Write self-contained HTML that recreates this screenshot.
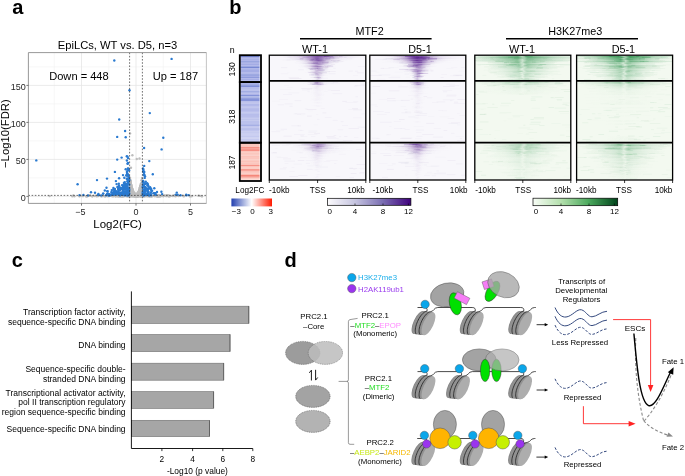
<!DOCTYPE html>
<html><head><meta charset="utf-8"><style>
html,body{margin:0;padding:0;background:#fff;width:685px;height:476px;overflow:hidden}
svg{display:block;will-change:transform}
text{font-family:"Liberation Sans",sans-serif}
</style></head><body>
<svg width="685" height="476" viewBox="0 0 685 476" font-family="Liberation Sans, sans-serif">
<rect width="685" height="476" fill="#fff"/>
<text x="12.2" y="14.4" font-size="20" text-anchor="start" fill="#000" font-weight="bold" >a</text>
<rect x="28.4" y="52.6" width="178.0" height="150.8" fill="#fff"/>
<line x1="54.2" y1="52.6" x2="54.2" y2="203.4" stroke="#f2f2f2" stroke-width="0.6"/>
<line x1="108.8" y1="52.6" x2="108.8" y2="203.4" stroke="#f2f2f2" stroke-width="0.6"/>
<line x1="163.2" y1="52.6" x2="163.2" y2="203.4" stroke="#f2f2f2" stroke-width="0.6"/>
<line x1="28.4" y1="177.9" x2="206.4" y2="177.9" stroke="#f2f2f2" stroke-width="0.6"/>
<line x1="28.4" y1="140.9" x2="206.4" y2="140.9" stroke="#f2f2f2" stroke-width="0.6"/>
<line x1="28.4" y1="103.9" x2="206.4" y2="103.9" stroke="#f2f2f2" stroke-width="0.6"/>
<line x1="28.4" y1="66.9" x2="206.4" y2="66.9" stroke="#f2f2f2" stroke-width="0.6"/>
<line x1="81.5" y1="52.6" x2="81.5" y2="203.4" stroke="#e6e6e6" stroke-width="0.8"/>
<line x1="136.0" y1="52.6" x2="136.0" y2="203.4" stroke="#e6e6e6" stroke-width="0.8"/>
<line x1="190.5" y1="52.6" x2="190.5" y2="203.4" stroke="#e6e6e6" stroke-width="0.8"/>
<line x1="28.4" y1="196.4" x2="206.4" y2="196.4" stroke="#e6e6e6" stroke-width="0.8"/>
<line x1="28.4" y1="159.4" x2="206.4" y2="159.4" stroke="#e6e6e6" stroke-width="0.8"/>
<line x1="28.4" y1="122.4" x2="206.4" y2="122.4" stroke="#e6e6e6" stroke-width="0.8"/>
<line x1="28.4" y1="85.4" x2="206.4" y2="85.4" stroke="#e6e6e6" stroke-width="0.8"/>
<g>
<circle cx="133.8" cy="195.3" r="1.2" fill="#bdbdbd"/>
<circle cx="137.9" cy="195.8" r="1.2" fill="#bdbdbd"/>
<circle cx="136.5" cy="195.3" r="1.2" fill="#bdbdbd"/>
<circle cx="130.4" cy="186.0" r="1.2" fill="#bdbdbd"/>
<circle cx="130.2" cy="186.3" r="1.2" fill="#bdbdbd"/>
<circle cx="130.6" cy="193.4" r="1.2" fill="#bdbdbd"/>
<circle cx="135.0" cy="194.2" r="1.2" fill="#bdbdbd"/>
<circle cx="131.2" cy="192.1" r="1.2" fill="#bdbdbd"/>
<circle cx="137.6" cy="193.4" r="1.2" fill="#bdbdbd"/>
<circle cx="137.0" cy="195.1" r="1.2" fill="#bdbdbd"/>
<circle cx="142.0" cy="194.1" r="1.2" fill="#bdbdbd"/>
<circle cx="140.5" cy="191.6" r="1.2" fill="#bdbdbd"/>
<circle cx="131.5" cy="193.9" r="1.2" fill="#bdbdbd"/>
<circle cx="133.6" cy="192.5" r="1.2" fill="#bdbdbd"/>
<circle cx="132.0" cy="190.0" r="1.2" fill="#bdbdbd"/>
<circle cx="137.8" cy="194.7" r="1.2" fill="#bdbdbd"/>
<circle cx="136.6" cy="196.1" r="1.2" fill="#bdbdbd"/>
<circle cx="130.4" cy="190.9" r="1.2" fill="#bdbdbd"/>
<circle cx="138.3" cy="194.1" r="1.2" fill="#bdbdbd"/>
<circle cx="133.7" cy="193.4" r="1.2" fill="#bdbdbd"/>
<circle cx="135.4" cy="195.4" r="1.2" fill="#bdbdbd"/>
<circle cx="139.7" cy="190.1" r="1.2" fill="#bdbdbd"/>
<circle cx="132.8" cy="191.9" r="1.2" fill="#bdbdbd"/>
<circle cx="136.3" cy="194.4" r="1.2" fill="#bdbdbd"/>
<circle cx="138.9" cy="194.0" r="1.2" fill="#bdbdbd"/>
<circle cx="142.1" cy="192.0" r="1.2" fill="#bdbdbd"/>
<circle cx="135.0" cy="194.3" r="1.2" fill="#bdbdbd"/>
<circle cx="131.6" cy="189.9" r="1.2" fill="#bdbdbd"/>
<circle cx="130.2" cy="182.8" r="1.2" fill="#bdbdbd"/>
<circle cx="139.3" cy="191.7" r="1.2" fill="#bdbdbd"/>
<circle cx="140.7" cy="190.9" r="1.2" fill="#bdbdbd"/>
<circle cx="138.5" cy="193.2" r="1.2" fill="#bdbdbd"/>
<circle cx="137.0" cy="194.9" r="1.2" fill="#bdbdbd"/>
<circle cx="140.3" cy="186.5" r="1.2" fill="#bdbdbd"/>
<circle cx="135.7" cy="194.7" r="1.2" fill="#bdbdbd"/>
<circle cx="130.4" cy="183.5" r="1.2" fill="#bdbdbd"/>
<circle cx="137.9" cy="192.9" r="1.2" fill="#bdbdbd"/>
<circle cx="140.1" cy="192.5" r="1.2" fill="#bdbdbd"/>
<circle cx="134.6" cy="194.2" r="1.2" fill="#bdbdbd"/>
<circle cx="130.0" cy="185.1" r="1.2" fill="#bdbdbd"/>
<circle cx="131.8" cy="194.2" r="1.2" fill="#bdbdbd"/>
<circle cx="130.4" cy="182.6" r="1.2" fill="#bdbdbd"/>
<circle cx="131.3" cy="191.9" r="1.2" fill="#bdbdbd"/>
<circle cx="134.6" cy="193.8" r="1.2" fill="#bdbdbd"/>
<circle cx="130.7" cy="187.8" r="1.2" fill="#bdbdbd"/>
<circle cx="136.6" cy="194.3" r="1.2" fill="#bdbdbd"/>
<circle cx="140.0" cy="188.0" r="1.2" fill="#bdbdbd"/>
<circle cx="133.2" cy="193.5" r="1.2" fill="#bdbdbd"/>
<circle cx="134.2" cy="193.3" r="1.2" fill="#bdbdbd"/>
<circle cx="141.8" cy="191.7" r="1.2" fill="#bdbdbd"/>
<circle cx="131.9" cy="193.0" r="1.2" fill="#bdbdbd"/>
<circle cx="132.6" cy="192.2" r="1.2" fill="#bdbdbd"/>
<circle cx="137.1" cy="195.4" r="1.2" fill="#bdbdbd"/>
<circle cx="129.7" cy="185.1" r="1.2" fill="#bdbdbd"/>
<circle cx="134.3" cy="194.2" r="1.2" fill="#bdbdbd"/>
<circle cx="141.7" cy="182.9" r="1.2" fill="#bdbdbd"/>
<circle cx="136.2" cy="194.8" r="1.2" fill="#bdbdbd"/>
<circle cx="138.2" cy="195.9" r="1.2" fill="#bdbdbd"/>
<circle cx="141.1" cy="184.8" r="1.2" fill="#bdbdbd"/>
<circle cx="140.7" cy="185.9" r="1.2" fill="#bdbdbd"/>
<circle cx="134.6" cy="194.9" r="1.2" fill="#bdbdbd"/>
<circle cx="131.0" cy="186.5" r="1.2" fill="#bdbdbd"/>
<circle cx="130.5" cy="193.9" r="1.2" fill="#bdbdbd"/>
<circle cx="132.3" cy="194.2" r="1.2" fill="#bdbdbd"/>
<circle cx="134.0" cy="195.9" r="1.2" fill="#bdbdbd"/>
<circle cx="129.7" cy="190.8" r="1.2" fill="#bdbdbd"/>
<circle cx="131.0" cy="189.6" r="1.2" fill="#bdbdbd"/>
<circle cx="130.0" cy="179.0" r="1.2" fill="#bdbdbd"/>
<circle cx="137.4" cy="195.6" r="1.2" fill="#bdbdbd"/>
<circle cx="132.9" cy="193.4" r="1.2" fill="#bdbdbd"/>
<circle cx="134.3" cy="195.6" r="1.2" fill="#bdbdbd"/>
<circle cx="140.4" cy="185.6" r="1.2" fill="#bdbdbd"/>
<circle cx="135.6" cy="195.0" r="1.2" fill="#bdbdbd"/>
<circle cx="130.8" cy="193.4" r="1.2" fill="#bdbdbd"/>
<circle cx="134.0" cy="194.9" r="1.2" fill="#bdbdbd"/>
<circle cx="140.2" cy="193.7" r="1.2" fill="#bdbdbd"/>
<circle cx="130.0" cy="177.7" r="1.2" fill="#bdbdbd"/>
<circle cx="136.4" cy="195.8" r="1.2" fill="#bdbdbd"/>
<circle cx="136.5" cy="196.2" r="1.2" fill="#bdbdbd"/>
<circle cx="136.4" cy="194.2" r="1.2" fill="#bdbdbd"/>
<circle cx="140.6" cy="187.4" r="1.2" fill="#bdbdbd"/>
<circle cx="133.0" cy="193.4" r="1.2" fill="#bdbdbd"/>
<circle cx="131.8" cy="188.1" r="1.2" fill="#bdbdbd"/>
<circle cx="136.4" cy="194.5" r="1.2" fill="#bdbdbd"/>
<circle cx="133.8" cy="195.0" r="1.2" fill="#bdbdbd"/>
<circle cx="139.9" cy="187.6" r="1.2" fill="#bdbdbd"/>
<circle cx="140.5" cy="186.9" r="1.2" fill="#bdbdbd"/>
<circle cx="140.0" cy="188.9" r="1.2" fill="#bdbdbd"/>
<circle cx="132.5" cy="191.8" r="1.2" fill="#bdbdbd"/>
<circle cx="134.2" cy="196.1" r="1.2" fill="#bdbdbd"/>
<circle cx="130.0" cy="188.6" r="1.2" fill="#bdbdbd"/>
<circle cx="133.0" cy="191.7" r="1.2" fill="#bdbdbd"/>
<circle cx="141.8" cy="186.3" r="1.2" fill="#bdbdbd"/>
<circle cx="141.5" cy="180.2" r="1.2" fill="#bdbdbd"/>
<circle cx="141.8" cy="187.7" r="1.2" fill="#bdbdbd"/>
<circle cx="132.5" cy="193.7" r="1.2" fill="#bdbdbd"/>
<circle cx="132.2" cy="193.6" r="1.2" fill="#bdbdbd"/>
<circle cx="137.6" cy="193.5" r="1.2" fill="#bdbdbd"/>
<circle cx="140.3" cy="190.2" r="1.2" fill="#bdbdbd"/>
<circle cx="137.9" cy="193.3" r="1.2" fill="#bdbdbd"/>
<circle cx="130.7" cy="185.3" r="1.2" fill="#bdbdbd"/>
<circle cx="141.2" cy="184.2" r="1.2" fill="#bdbdbd"/>
<circle cx="139.2" cy="192.6" r="1.2" fill="#bdbdbd"/>
<circle cx="131.9" cy="188.4" r="1.2" fill="#bdbdbd"/>
<circle cx="133.9" cy="193.0" r="1.2" fill="#bdbdbd"/>
<circle cx="142.0" cy="186.5" r="1.2" fill="#bdbdbd"/>
<circle cx="134.8" cy="193.7" r="1.2" fill="#bdbdbd"/>
<circle cx="138.8" cy="194.8" r="1.2" fill="#bdbdbd"/>
<circle cx="131.3" cy="193.2" r="1.2" fill="#bdbdbd"/>
<circle cx="141.1" cy="184.2" r="1.2" fill="#bdbdbd"/>
<circle cx="131.5" cy="186.7" r="1.2" fill="#bdbdbd"/>
<circle cx="142.1" cy="181.8" r="1.2" fill="#bdbdbd"/>
<circle cx="134.1" cy="194.1" r="1.2" fill="#bdbdbd"/>
<circle cx="131.3" cy="195.8" r="1.2" fill="#bdbdbd"/>
<circle cx="142.0" cy="182.5" r="1.2" fill="#bdbdbd"/>
<circle cx="136.3" cy="194.3" r="1.2" fill="#bdbdbd"/>
<circle cx="135.2" cy="194.2" r="1.2" fill="#bdbdbd"/>
<circle cx="140.1" cy="193.2" r="1.2" fill="#bdbdbd"/>
<circle cx="132.9" cy="193.7" r="1.2" fill="#bdbdbd"/>
<circle cx="132.7" cy="191.8" r="1.2" fill="#bdbdbd"/>
<circle cx="133.0" cy="193.1" r="1.2" fill="#bdbdbd"/>
<circle cx="131.3" cy="185.2" r="1.2" fill="#bdbdbd"/>
<circle cx="134.2" cy="194.4" r="1.2" fill="#bdbdbd"/>
<circle cx="137.1" cy="194.0" r="1.2" fill="#bdbdbd"/>
<circle cx="135.0" cy="194.0" r="1.2" fill="#bdbdbd"/>
<circle cx="136.0" cy="195.0" r="1.2" fill="#bdbdbd"/>
<circle cx="136.3" cy="196.3" r="1.2" fill="#bdbdbd"/>
<circle cx="135.2" cy="195.7" r="1.2" fill="#bdbdbd"/>
<circle cx="129.7" cy="178.6" r="1.2" fill="#bdbdbd"/>
<circle cx="131.9" cy="190.6" r="1.2" fill="#bdbdbd"/>
<circle cx="138.8" cy="192.7" r="1.2" fill="#bdbdbd"/>
<circle cx="133.8" cy="193.8" r="1.2" fill="#bdbdbd"/>
<circle cx="136.7" cy="194.4" r="1.2" fill="#bdbdbd"/>
<circle cx="131.0" cy="187.4" r="1.2" fill="#bdbdbd"/>
<circle cx="132.8" cy="193.8" r="1.2" fill="#bdbdbd"/>
<circle cx="139.4" cy="191.9" r="1.2" fill="#bdbdbd"/>
<circle cx="136.8" cy="194.4" r="1.2" fill="#bdbdbd"/>
<circle cx="141.2" cy="188.1" r="1.2" fill="#bdbdbd"/>
<circle cx="137.4" cy="194.6" r="1.2" fill="#bdbdbd"/>
<circle cx="136.2" cy="194.7" r="1.2" fill="#bdbdbd"/>
<circle cx="135.4" cy="194.9" r="1.2" fill="#bdbdbd"/>
<circle cx="135.7" cy="194.3" r="1.2" fill="#bdbdbd"/>
<circle cx="138.5" cy="192.1" r="1.2" fill="#bdbdbd"/>
<circle cx="141.6" cy="189.9" r="1.2" fill="#bdbdbd"/>
<circle cx="136.8" cy="194.1" r="1.2" fill="#bdbdbd"/>
<circle cx="140.3" cy="193.8" r="1.2" fill="#bdbdbd"/>
<circle cx="131.2" cy="189.3" r="1.2" fill="#bdbdbd"/>
<circle cx="130.6" cy="190.6" r="1.2" fill="#bdbdbd"/>
<circle cx="130.6" cy="184.6" r="1.2" fill="#bdbdbd"/>
<circle cx="139.6" cy="189.3" r="1.2" fill="#bdbdbd"/>
<circle cx="131.6" cy="188.0" r="1.2" fill="#bdbdbd"/>
<circle cx="138.0" cy="195.4" r="1.2" fill="#bdbdbd"/>
<circle cx="140.8" cy="183.9" r="1.2" fill="#bdbdbd"/>
<circle cx="132.5" cy="189.1" r="1.2" fill="#bdbdbd"/>
<circle cx="134.7" cy="194.7" r="1.2" fill="#bdbdbd"/>
<circle cx="142.2" cy="178.5" r="1.2" fill="#bdbdbd"/>
<circle cx="131.7" cy="190.7" r="1.2" fill="#bdbdbd"/>
<circle cx="136.2" cy="195.4" r="1.2" fill="#bdbdbd"/>
<circle cx="132.2" cy="192.5" r="1.2" fill="#bdbdbd"/>
<circle cx="138.8" cy="196.1" r="1.2" fill="#bdbdbd"/>
<circle cx="136.7" cy="195.1" r="1.2" fill="#bdbdbd"/>
<circle cx="129.9" cy="187.3" r="1.2" fill="#bdbdbd"/>
<circle cx="137.6" cy="194.5" r="1.2" fill="#bdbdbd"/>
<circle cx="130.5" cy="180.3" r="1.2" fill="#bdbdbd"/>
<circle cx="139.6" cy="188.7" r="1.2" fill="#bdbdbd"/>
<circle cx="131.0" cy="191.1" r="1.2" fill="#bdbdbd"/>
<circle cx="130.2" cy="181.2" r="1.2" fill="#bdbdbd"/>
<circle cx="133.1" cy="195.1" r="1.2" fill="#bdbdbd"/>
<circle cx="135.0" cy="194.0" r="1.2" fill="#bdbdbd"/>
<circle cx="140.0" cy="192.8" r="1.2" fill="#bdbdbd"/>
<circle cx="131.6" cy="186.1" r="1.2" fill="#bdbdbd"/>
<circle cx="136.9" cy="194.5" r="1.2" fill="#bdbdbd"/>
<circle cx="130.8" cy="194.4" r="1.2" fill="#bdbdbd"/>
<circle cx="138.4" cy="194.0" r="1.2" fill="#bdbdbd"/>
<circle cx="130.6" cy="181.4" r="1.2" fill="#bdbdbd"/>
<circle cx="137.7" cy="193.6" r="1.2" fill="#bdbdbd"/>
<circle cx="130.7" cy="183.0" r="1.2" fill="#bdbdbd"/>
<circle cx="130.5" cy="181.9" r="1.2" fill="#bdbdbd"/>
<circle cx="135.4" cy="195.3" r="1.2" fill="#bdbdbd"/>
<circle cx="136.7" cy="194.2" r="1.2" fill="#bdbdbd"/>
<circle cx="133.1" cy="195.0" r="1.2" fill="#bdbdbd"/>
<circle cx="136.3" cy="195.6" r="1.2" fill="#bdbdbd"/>
<circle cx="131.1" cy="192.7" r="1.2" fill="#bdbdbd"/>
<circle cx="130.3" cy="190.8" r="1.2" fill="#bdbdbd"/>
<circle cx="133.6" cy="194.5" r="1.2" fill="#bdbdbd"/>
<circle cx="139.3" cy="193.6" r="1.2" fill="#bdbdbd"/>
<circle cx="136.0" cy="195.7" r="1.2" fill="#bdbdbd"/>
<circle cx="134.1" cy="196.2" r="1.2" fill="#bdbdbd"/>
<circle cx="132.8" cy="196.1" r="1.2" fill="#bdbdbd"/>
<circle cx="138.9" cy="192.6" r="1.2" fill="#bdbdbd"/>
<circle cx="132.1" cy="191.1" r="1.2" fill="#bdbdbd"/>
<circle cx="141.5" cy="193.0" r="1.2" fill="#bdbdbd"/>
<circle cx="140.0" cy="191.2" r="1.2" fill="#bdbdbd"/>
<circle cx="135.9" cy="194.4" r="1.2" fill="#bdbdbd"/>
<circle cx="134.6" cy="194.6" r="1.2" fill="#bdbdbd"/>
<circle cx="138.4" cy="192.0" r="1.2" fill="#bdbdbd"/>
<circle cx="134.0" cy="193.1" r="1.2" fill="#bdbdbd"/>
<circle cx="138.6" cy="192.8" r="1.2" fill="#bdbdbd"/>
<circle cx="134.8" cy="195.1" r="1.2" fill="#bdbdbd"/>
<circle cx="130.4" cy="192.3" r="1.2" fill="#bdbdbd"/>
<circle cx="130.6" cy="183.6" r="1.2" fill="#bdbdbd"/>
<circle cx="132.9" cy="194.7" r="1.2" fill="#bdbdbd"/>
<circle cx="130.7" cy="183.2" r="1.2" fill="#bdbdbd"/>
<circle cx="140.7" cy="187.3" r="1.2" fill="#bdbdbd"/>
<circle cx="133.2" cy="194.4" r="1.2" fill="#bdbdbd"/>
<circle cx="133.4" cy="193.5" r="1.2" fill="#bdbdbd"/>
<circle cx="131.7" cy="190.5" r="1.2" fill="#bdbdbd"/>
<circle cx="133.0" cy="190.7" r="1.2" fill="#bdbdbd"/>
<circle cx="142.0" cy="184.0" r="1.2" fill="#bdbdbd"/>
<circle cx="132.8" cy="190.0" r="1.2" fill="#bdbdbd"/>
<circle cx="133.6" cy="194.2" r="1.2" fill="#bdbdbd"/>
<circle cx="129.7" cy="185.6" r="1.2" fill="#bdbdbd"/>
<circle cx="135.7" cy="195.0" r="1.2" fill="#bdbdbd"/>
<circle cx="132.2" cy="191.2" r="1.2" fill="#bdbdbd"/>
<circle cx="129.7" cy="188.2" r="1.2" fill="#bdbdbd"/>
<circle cx="130.8" cy="188.8" r="1.2" fill="#bdbdbd"/>
<circle cx="130.2" cy="195.1" r="1.2" fill="#bdbdbd"/>
<circle cx="133.5" cy="194.7" r="1.2" fill="#bdbdbd"/>
<circle cx="137.1" cy="194.7" r="1.2" fill="#bdbdbd"/>
<circle cx="139.2" cy="191.7" r="1.2" fill="#bdbdbd"/>
<circle cx="138.7" cy="191.6" r="1.2" fill="#bdbdbd"/>
<circle cx="134.6" cy="195.1" r="1.2" fill="#bdbdbd"/>
<circle cx="142.1" cy="191.1" r="1.2" fill="#bdbdbd"/>
<circle cx="138.8" cy="192.4" r="1.2" fill="#bdbdbd"/>
<circle cx="130.2" cy="180.8" r="1.2" fill="#bdbdbd"/>
<circle cx="141.0" cy="186.8" r="1.2" fill="#bdbdbd"/>
<circle cx="139.0" cy="191.4" r="1.2" fill="#bdbdbd"/>
<circle cx="131.4" cy="189.1" r="1.2" fill="#bdbdbd"/>
<circle cx="136.1" cy="194.4" r="1.2" fill="#bdbdbd"/>
<circle cx="139.9" cy="188.9" r="1.2" fill="#bdbdbd"/>
<circle cx="137.1" cy="194.0" r="1.2" fill="#bdbdbd"/>
<circle cx="138.3" cy="193.1" r="1.2" fill="#bdbdbd"/>
<circle cx="132.6" cy="195.8" r="1.2" fill="#bdbdbd"/>
<circle cx="131.4" cy="190.6" r="1.2" fill="#bdbdbd"/>
<circle cx="131.0" cy="184.5" r="1.2" fill="#bdbdbd"/>
<circle cx="136.7" cy="194.7" r="1.2" fill="#bdbdbd"/>
<circle cx="137.6" cy="194.0" r="1.2" fill="#bdbdbd"/>
<circle cx="135.9" cy="196.4" r="1.2" fill="#bdbdbd"/>
<circle cx="139.8" cy="189.6" r="1.2" fill="#bdbdbd"/>
<circle cx="136.0" cy="195.0" r="1.2" fill="#bdbdbd"/>
<circle cx="138.0" cy="195.8" r="1.2" fill="#bdbdbd"/>
<circle cx="139.0" cy="194.2" r="1.2" fill="#bdbdbd"/>
<circle cx="130.6" cy="190.3" r="1.2" fill="#bdbdbd"/>
<circle cx="138.9" cy="194.5" r="1.2" fill="#bdbdbd"/>
<circle cx="139.0" cy="190.5" r="1.2" fill="#bdbdbd"/>
<circle cx="135.9" cy="195.3" r="1.2" fill="#bdbdbd"/>
<circle cx="135.7" cy="194.7" r="1.2" fill="#bdbdbd"/>
<circle cx="139.4" cy="191.4" r="1.2" fill="#bdbdbd"/>
<circle cx="137.8" cy="195.8" r="1.2" fill="#bdbdbd"/>
<circle cx="131.5" cy="192.2" r="1.2" fill="#bdbdbd"/>
<circle cx="139.1" cy="193.7" r="1.2" fill="#bdbdbd"/>
<circle cx="136.9" cy="196.3" r="1.2" fill="#bdbdbd"/>
<circle cx="130.4" cy="189.8" r="1.2" fill="#bdbdbd"/>
<circle cx="138.2" cy="193.3" r="1.2" fill="#bdbdbd"/>
<circle cx="138.2" cy="194.7" r="1.2" fill="#bdbdbd"/>
<circle cx="136.2" cy="195.1" r="1.2" fill="#bdbdbd"/>
<circle cx="135.6" cy="195.9" r="1.2" fill="#bdbdbd"/>
<circle cx="141.0" cy="192.1" r="1.2" fill="#bdbdbd"/>
<circle cx="142.0" cy="177.9" r="1.2" fill="#bdbdbd"/>
<circle cx="129.9" cy="184.9" r="1.2" fill="#bdbdbd"/>
<circle cx="140.0" cy="187.3" r="1.2" fill="#bdbdbd"/>
<circle cx="135.4" cy="195.5" r="1.2" fill="#bdbdbd"/>
<circle cx="132.3" cy="188.8" r="1.2" fill="#bdbdbd"/>
<circle cx="132.3" cy="191.0" r="1.2" fill="#bdbdbd"/>
<circle cx="131.5" cy="189.2" r="1.2" fill="#bdbdbd"/>
<circle cx="141.7" cy="192.2" r="1.2" fill="#bdbdbd"/>
<circle cx="140.0" cy="190.6" r="1.2" fill="#bdbdbd"/>
<circle cx="140.9" cy="186.2" r="1.2" fill="#bdbdbd"/>
<circle cx="132.6" cy="189.9" r="1.2" fill="#bdbdbd"/>
<circle cx="135.8" cy="196.2" r="1.2" fill="#bdbdbd"/>
<circle cx="129.7" cy="183.7" r="1.2" fill="#bdbdbd"/>
<circle cx="135.4" cy="195.4" r="1.2" fill="#bdbdbd"/>
<circle cx="131.5" cy="191.0" r="1.2" fill="#bdbdbd"/>
<circle cx="133.7" cy="192.6" r="1.2" fill="#bdbdbd"/>
<circle cx="129.7" cy="179.2" r="1.2" fill="#bdbdbd"/>
<circle cx="140.3" cy="194.1" r="1.2" fill="#bdbdbd"/>
<circle cx="141.4" cy="184.1" r="1.2" fill="#bdbdbd"/>
<circle cx="141.1" cy="190.5" r="1.2" fill="#bdbdbd"/>
<circle cx="134.4" cy="194.8" r="1.2" fill="#bdbdbd"/>
<circle cx="142.3" cy="181.8" r="1.2" fill="#bdbdbd"/>
<circle cx="134.2" cy="194.5" r="1.2" fill="#bdbdbd"/>
<circle cx="133.2" cy="195.7" r="1.2" fill="#bdbdbd"/>
<circle cx="131.0" cy="184.3" r="1.2" fill="#bdbdbd"/>
<circle cx="133.3" cy="191.5" r="1.2" fill="#bdbdbd"/>
<circle cx="132.8" cy="193.9" r="1.2" fill="#bdbdbd"/>
<circle cx="136.1" cy="195.7" r="1.2" fill="#bdbdbd"/>
<circle cx="134.4" cy="193.4" r="1.2" fill="#bdbdbd"/>
<circle cx="140.9" cy="185.3" r="1.2" fill="#bdbdbd"/>
<circle cx="137.7" cy="193.4" r="1.2" fill="#bdbdbd"/>
<circle cx="141.6" cy="185.5" r="1.2" fill="#bdbdbd"/>
<circle cx="138.8" cy="195.8" r="1.2" fill="#bdbdbd"/>
<circle cx="138.9" cy="193.1" r="1.2" fill="#bdbdbd"/>
<circle cx="139.2" cy="191.7" r="1.2" fill="#bdbdbd"/>
<circle cx="133.3" cy="195.8" r="1.2" fill="#bdbdbd"/>
<circle cx="141.4" cy="192.7" r="1.2" fill="#bdbdbd"/>
<circle cx="135.6" cy="195.3" r="1.2" fill="#bdbdbd"/>
<circle cx="133.4" cy="192.5" r="1.2" fill="#bdbdbd"/>
<circle cx="142.0" cy="188.9" r="1.2" fill="#bdbdbd"/>
<circle cx="138.0" cy="194.8" r="1.2" fill="#bdbdbd"/>
<circle cx="136.7" cy="195.2" r="1.2" fill="#bdbdbd"/>
<circle cx="143.4" cy="196.2" r="1.2" fill="#bdbdbd"/>
<circle cx="148.9" cy="195.5" r="1.2" fill="#bdbdbd"/>
<circle cx="118.3" cy="195.5" r="1.2" fill="#bdbdbd"/>
<circle cx="136.3" cy="195.4" r="1.2" fill="#bdbdbd"/>
<circle cx="122.9" cy="196.2" r="1.2" fill="#bdbdbd"/>
<circle cx="140.3" cy="196.3" r="1.2" fill="#bdbdbd"/>
<circle cx="130.0" cy="196.2" r="1.2" fill="#bdbdbd"/>
<circle cx="145.2" cy="196.2" r="1.2" fill="#bdbdbd"/>
<circle cx="88.6" cy="195.7" r="1.2" fill="#bdbdbd"/>
<circle cx="113.8" cy="196.0" r="1.2" fill="#bdbdbd"/>
<circle cx="109.8" cy="196.0" r="1.2" fill="#bdbdbd"/>
<circle cx="151.7" cy="196.1" r="1.2" fill="#bdbdbd"/>
<circle cx="154.7" cy="195.5" r="1.2" fill="#bdbdbd"/>
<circle cx="143.7" cy="196.3" r="1.2" fill="#bdbdbd"/>
<circle cx="100.7" cy="195.6" r="1.2" fill="#bdbdbd"/>
<circle cx="135.2" cy="196.2" r="1.2" fill="#bdbdbd"/>
<circle cx="133.5" cy="196.0" r="1.2" fill="#bdbdbd"/>
<circle cx="154.8" cy="196.0" r="1.2" fill="#bdbdbd"/>
<circle cx="182.7" cy="195.6" r="1.2" fill="#bdbdbd"/>
<circle cx="122.1" cy="196.4" r="1.2" fill="#bdbdbd"/>
<circle cx="174.6" cy="195.5" r="1.2" fill="#bdbdbd"/>
<circle cx="143.9" cy="195.9" r="1.2" fill="#bdbdbd"/>
<circle cx="135.6" cy="196.0" r="1.2" fill="#bdbdbd"/>
<circle cx="135.8" cy="195.5" r="1.2" fill="#bdbdbd"/>
<circle cx="158.5" cy="195.5" r="1.2" fill="#bdbdbd"/>
<circle cx="92.1" cy="196.2" r="1.2" fill="#bdbdbd"/>
<circle cx="147.2" cy="195.9" r="1.2" fill="#bdbdbd"/>
<circle cx="145.2" cy="195.7" r="1.2" fill="#bdbdbd"/>
<circle cx="173.4" cy="195.8" r="1.2" fill="#bdbdbd"/>
<circle cx="121.6" cy="195.7" r="1.2" fill="#bdbdbd"/>
<circle cx="105.4" cy="196.4" r="1.2" fill="#bdbdbd"/>
<circle cx="144.4" cy="195.6" r="1.2" fill="#bdbdbd"/>
<circle cx="142.2" cy="195.8" r="1.2" fill="#bdbdbd"/>
<circle cx="192.0" cy="196.1" r="1.2" fill="#bdbdbd"/>
<circle cx="149.2" cy="195.8" r="1.2" fill="#bdbdbd"/>
<circle cx="149.8" cy="195.7" r="1.2" fill="#bdbdbd"/>
<circle cx="143.3" cy="195.9" r="1.2" fill="#bdbdbd"/>
<circle cx="142.2" cy="195.8" r="1.2" fill="#bdbdbd"/>
<circle cx="122.4" cy="195.8" r="1.2" fill="#bdbdbd"/>
<circle cx="147.5" cy="196.4" r="1.2" fill="#bdbdbd"/>
<circle cx="127.1" cy="195.5" r="1.2" fill="#bdbdbd"/>
<circle cx="162.4" cy="195.8" r="1.2" fill="#bdbdbd"/>
<circle cx="157.2" cy="196.2" r="1.2" fill="#bdbdbd"/>
<circle cx="117.0" cy="196.2" r="1.2" fill="#bdbdbd"/>
<circle cx="174.0" cy="196.1" r="1.2" fill="#bdbdbd"/>
<circle cx="126.4" cy="196.4" r="1.2" fill="#bdbdbd"/>
<circle cx="98.4" cy="196.0" r="1.2" fill="#bdbdbd"/>
<circle cx="136.4" cy="196.2" r="1.2" fill="#bdbdbd"/>
<circle cx="107.7" cy="196.2" r="1.2" fill="#bdbdbd"/>
<circle cx="86.4" cy="196.4" r="1.2" fill="#bdbdbd"/>
<circle cx="122.2" cy="195.7" r="1.2" fill="#bdbdbd"/>
<circle cx="158.3" cy="196.2" r="1.2" fill="#bdbdbd"/>
<circle cx="148.0" cy="195.9" r="1.2" fill="#bdbdbd"/>
<circle cx="96.7" cy="196.2" r="1.2" fill="#bdbdbd"/>
<circle cx="157.3" cy="195.6" r="1.2" fill="#bdbdbd"/>
<circle cx="131.9" cy="196.2" r="1.2" fill="#bdbdbd"/>
<circle cx="143.6" cy="196.1" r="1.2" fill="#bdbdbd"/>
<circle cx="177.7" cy="195.5" r="1.2" fill="#bdbdbd"/>
<circle cx="119.9" cy="196.2" r="1.2" fill="#bdbdbd"/>
<circle cx="136.4" cy="196.0" r="1.2" fill="#bdbdbd"/>
<circle cx="105.0" cy="196.3" r="1.2" fill="#bdbdbd"/>
<circle cx="83.3" cy="196.0" r="1.2" fill="#bdbdbd"/>
<circle cx="151.6" cy="196.3" r="1.2" fill="#bdbdbd"/>
<circle cx="201.9" cy="196.4" r="1.2" fill="#bdbdbd"/>
<circle cx="159.3" cy="195.5" r="1.2" fill="#bdbdbd"/>
<circle cx="145.2" cy="195.5" r="1.2" fill="#bdbdbd"/>
<circle cx="126.6" cy="195.5" r="1.2" fill="#bdbdbd"/>
<circle cx="49.6" cy="196.1" r="1.2" fill="#bdbdbd"/>
<circle cx="159.2" cy="195.7" r="1.2" fill="#bdbdbd"/>
<circle cx="190.0" cy="196.4" r="1.2" fill="#bdbdbd"/>
<circle cx="123.5" cy="196.0" r="1.2" fill="#bdbdbd"/>
<circle cx="115.0" cy="196.1" r="1.2" fill="#bdbdbd"/>
<circle cx="136.9" cy="196.1" r="1.2" fill="#bdbdbd"/>
<circle cx="137.7" cy="196.1" r="1.2" fill="#bdbdbd"/>
<circle cx="148.4" cy="195.5" r="1.2" fill="#bdbdbd"/>
<circle cx="132.4" cy="196.2" r="1.2" fill="#bdbdbd"/>
<circle cx="107.1" cy="195.6" r="1.2" fill="#bdbdbd"/>
<circle cx="172.5" cy="196.0" r="1.2" fill="#bdbdbd"/>
<circle cx="163.0" cy="196.0" r="1.2" fill="#bdbdbd"/>
<circle cx="144.6" cy="195.5" r="1.2" fill="#bdbdbd"/>
<circle cx="144.4" cy="195.5" r="1.2" fill="#bdbdbd"/>
<circle cx="158.3" cy="196.4" r="1.2" fill="#bdbdbd"/>
<circle cx="97.2" cy="195.7" r="1.2" fill="#bdbdbd"/>
<circle cx="160.4" cy="196.4" r="1.2" fill="#bdbdbd"/>
<circle cx="144.8" cy="195.5" r="1.2" fill="#bdbdbd"/>
<circle cx="138.0" cy="196.2" r="1.2" fill="#bdbdbd"/>
<circle cx="135.1" cy="196.1" r="1.2" fill="#bdbdbd"/>
<circle cx="82.4" cy="196.1" r="1.2" fill="#bdbdbd"/>
<circle cx="169.5" cy="196.1" r="1.2" fill="#bdbdbd"/>
<circle cx="126.9" cy="195.7" r="1.2" fill="#bdbdbd"/>
<circle cx="127.8" cy="196.4" r="1.2" fill="#bdbdbd"/>
<circle cx="154.4" cy="195.7" r="1.2" fill="#bdbdbd"/>
<circle cx="166.8" cy="195.5" r="1.2" fill="#bdbdbd"/>
<circle cx="118.2" cy="196.4" r="1.2" fill="#bdbdbd"/>
<circle cx="138.9" cy="195.5" r="1.2" fill="#bdbdbd"/>
<circle cx="164.3" cy="195.5" r="1.2" fill="#bdbdbd"/>
<circle cx="121.6" cy="196.0" r="1.2" fill="#bdbdbd"/>
<circle cx="148.5" cy="195.9" r="1.2" fill="#bdbdbd"/>
<circle cx="150.3" cy="195.6" r="1.2" fill="#bdbdbd"/>
<circle cx="129.0" cy="195.7" r="1.2" fill="#bdbdbd"/>
<circle cx="155.1" cy="195.8" r="1.2" fill="#bdbdbd"/>
<circle cx="97.3" cy="196.1" r="1.2" fill="#bdbdbd"/>
<circle cx="125.9" cy="195.6" r="1.2" fill="#bdbdbd"/>
<circle cx="157.5" cy="196.3" r="1.2" fill="#bdbdbd"/>
<circle cx="149.6" cy="196.2" r="1.2" fill="#bdbdbd"/>
<circle cx="175.6" cy="196.3" r="1.2" fill="#bdbdbd"/>
<circle cx="167.1" cy="196.1" r="1.2" fill="#bdbdbd"/>
<circle cx="142.7" cy="195.5" r="1.2" fill="#bdbdbd"/>
<circle cx="191.4" cy="196.1" r="1.2" fill="#bdbdbd"/>
<circle cx="86.2" cy="196.3" r="1.2" fill="#bdbdbd"/>
<circle cx="160.2" cy="195.7" r="1.2" fill="#bdbdbd"/>
<circle cx="152.8" cy="196.0" r="1.2" fill="#bdbdbd"/>
<circle cx="138.6" cy="195.8" r="1.2" fill="#bdbdbd"/>
<circle cx="161.9" cy="195.8" r="1.2" fill="#bdbdbd"/>
<circle cx="135.4" cy="195.8" r="1.2" fill="#bdbdbd"/>
<circle cx="87.4" cy="196.3" r="1.2" fill="#bdbdbd"/>
<circle cx="147.3" cy="195.9" r="1.2" fill="#bdbdbd"/>
<circle cx="118.4" cy="196.0" r="1.2" fill="#bdbdbd"/>
<circle cx="134.7" cy="196.2" r="1.2" fill="#bdbdbd"/>
<circle cx="119.3" cy="196.2" r="1.2" fill="#bdbdbd"/>
<circle cx="165.7" cy="195.8" r="1.2" fill="#bdbdbd"/>
<circle cx="178.7" cy="196.1" r="1.2" fill="#bdbdbd"/>
<circle cx="73.8" cy="195.9" r="1.2" fill="#bdbdbd"/>
<circle cx="183.6" cy="196.2" r="1.2" fill="#bdbdbd"/>
<circle cx="149.1" cy="195.4" r="1.2" fill="#bdbdbd"/>
<circle cx="101.9" cy="196.3" r="1.2" fill="#bdbdbd"/>
<circle cx="90.2" cy="195.6" r="1.2" fill="#bdbdbd"/>
<circle cx="143.3" cy="195.5" r="1.2" fill="#bdbdbd"/>
<circle cx="156.2" cy="196.3" r="1.2" fill="#bdbdbd"/>
<circle cx="141.2" cy="196.2" r="1.2" fill="#bdbdbd"/>
<circle cx="168.7" cy="195.5" r="1.2" fill="#bdbdbd"/>
<circle cx="130.4" cy="196.0" r="1.2" fill="#bdbdbd"/>
<circle cx="154.2" cy="196.1" r="1.2" fill="#bdbdbd"/>
<circle cx="115.6" cy="195.7" r="1.2" fill="#bdbdbd"/>
<circle cx="147.2" cy="195.8" r="1.2" fill="#bdbdbd"/>
<circle cx="132.0" cy="195.8" r="1.2" fill="#bdbdbd"/>
<circle cx="140.9" cy="196.3" r="1.2" fill="#bdbdbd"/>
<circle cx="159.6" cy="196.2" r="1.2" fill="#bdbdbd"/>
<circle cx="135.0" cy="195.8" r="1.2" fill="#bdbdbd"/>
<circle cx="169.9" cy="196.2" r="1.2" fill="#bdbdbd"/>
<circle cx="158.3" cy="195.7" r="1.2" fill="#bdbdbd"/>
<circle cx="137.6" cy="196.2" r="1.2" fill="#bdbdbd"/>
<circle cx="129.6" cy="195.6" r="1.2" fill="#bdbdbd"/>
<circle cx="151.6" cy="195.9" r="1.2" fill="#bdbdbd"/>
<circle cx="146.7" cy="196.0" r="1.2" fill="#bdbdbd"/>
<circle cx="140.5" cy="195.9" r="1.2" fill="#bdbdbd"/>
<circle cx="129.0" cy="196.2" r="1.2" fill="#bdbdbd"/>
<circle cx="127.6" cy="195.7" r="1.2" fill="#bdbdbd"/>
<circle cx="118.7" cy="196.1" r="1.2" fill="#bdbdbd"/>
<circle cx="147.0" cy="195.5" r="1.2" fill="#bdbdbd"/>
<circle cx="123.6" cy="196.1" r="1.2" fill="#bdbdbd"/>
<circle cx="166.0" cy="196.0" r="1.2" fill="#bdbdbd"/>
<circle cx="191.6" cy="196.1" r="1.2" fill="#bdbdbd"/>
<circle cx="72.3" cy="196.2" r="1.2" fill="#bdbdbd"/>
<circle cx="133.7" cy="196.4" r="1.2" fill="#bdbdbd"/>
<circle cx="119.2" cy="195.5" r="1.2" fill="#bdbdbd"/>
<circle cx="94.8" cy="196.0" r="1.2" fill="#bdbdbd"/>
<circle cx="157.4" cy="195.6" r="1.2" fill="#bdbdbd"/>
<circle cx="121.5" cy="196.4" r="1.2" fill="#bdbdbd"/>
<circle cx="139.6" cy="195.9" r="1.2" fill="#bdbdbd"/>
<circle cx="101.1" cy="196.3" r="1.2" fill="#bdbdbd"/>
<circle cx="93.5" cy="195.8" r="1.2" fill="#bdbdbd"/>
<circle cx="115.5" cy="196.3" r="1.2" fill="#bdbdbd"/>
<circle cx="157.5" cy="196.1" r="1.2" fill="#bdbdbd"/>
<circle cx="79.4" cy="196.3" r="1.2" fill="#bdbdbd"/>
<circle cx="128.4" cy="195.9" r="1.2" fill="#bdbdbd"/>
<circle cx="158.1" cy="196.2" r="1.2" fill="#bdbdbd"/>
<circle cx="74.4" cy="196.3" r="1.2" fill="#bdbdbd"/>
<circle cx="200.0" cy="195.9" r="1.2" fill="#bdbdbd"/>
<circle cx="112.1" cy="196.3" r="1.2" fill="#bdbdbd"/>
<circle cx="158.2" cy="195.5" r="1.2" fill="#bdbdbd"/>
<circle cx="124.9" cy="195.8" r="1.2" fill="#bdbdbd"/>
<circle cx="142.7" cy="195.6" r="1.2" fill="#bdbdbd"/>
<circle cx="122.8" cy="196.2" r="1.2" fill="#bdbdbd"/>
<circle cx="96.0" cy="195.6" r="1.2" fill="#bdbdbd"/>
<circle cx="163.4" cy="196.2" r="1.2" fill="#bdbdbd"/>
<circle cx="141.0" cy="195.9" r="1.2" fill="#bdbdbd"/>
<circle cx="160.8" cy="196.0" r="1.2" fill="#bdbdbd"/>
<circle cx="149.5" cy="195.7" r="1.2" fill="#bdbdbd"/>
<circle cx="149.2" cy="195.5" r="1.2" fill="#bdbdbd"/>
<circle cx="167.2" cy="195.7" r="1.2" fill="#bdbdbd"/>
<circle cx="144.2" cy="196.4" r="1.2" fill="#bdbdbd"/>
<circle cx="142.6" cy="195.8" r="1.2" fill="#bdbdbd"/>
<circle cx="125.3" cy="195.9" r="1.2" fill="#bdbdbd"/>
<circle cx="121.0" cy="196.0" r="1.2" fill="#bdbdbd"/>
<circle cx="120.6" cy="195.8" r="1.2" fill="#bdbdbd"/>
<circle cx="103.2" cy="196.0" r="1.2" fill="#bdbdbd"/>
<circle cx="152.5" cy="196.0" r="1.2" fill="#bdbdbd"/>
<circle cx="170.4" cy="195.9" r="1.2" fill="#bdbdbd"/>
<circle cx="141.1" cy="196.2" r="1.2" fill="#bdbdbd"/>
<circle cx="139.7" cy="196.0" r="1.2" fill="#bdbdbd"/>
<circle cx="92.5" cy="196.2" r="1.2" fill="#bdbdbd"/>
<circle cx="124.2" cy="196.3" r="1.2" fill="#bdbdbd"/>
<circle cx="138.0" cy="196.0" r="1.2" fill="#bdbdbd"/>
<circle cx="158.7" cy="195.9" r="1.2" fill="#bdbdbd"/>
<circle cx="150.8" cy="196.4" r="1.2" fill="#bdbdbd"/>
<circle cx="129.2" cy="195.7" r="1.2" fill="#bdbdbd"/>
<circle cx="128.1" cy="195.7" r="1.2" fill="#bdbdbd"/>
<circle cx="127.6" cy="195.9" r="1.2" fill="#bdbdbd"/>
<circle cx="135.4" cy="196.0" r="1.2" fill="#bdbdbd"/>
<circle cx="148.9" cy="195.6" r="1.2" fill="#bdbdbd"/>
<circle cx="131.9" cy="195.4" r="1.2" fill="#bdbdbd"/>
<circle cx="130.8" cy="196.2" r="1.2" fill="#bdbdbd"/>
<circle cx="90.2" cy="195.5" r="1.2" fill="#bdbdbd"/>
<circle cx="73.3" cy="195.5" r="1.2" fill="#bdbdbd"/>
<circle cx="139.2" cy="196.2" r="1.2" fill="#bdbdbd"/>
<circle cx="149.8" cy="196.3" r="1.2" fill="#bdbdbd"/>
<circle cx="79.8" cy="196.1" r="1.2" fill="#bdbdbd"/>
<circle cx="136.6" cy="195.5" r="1.2" fill="#bdbdbd"/>
<circle cx="121.3" cy="196.1" r="1.2" fill="#bdbdbd"/>
<circle cx="141.6" cy="195.9" r="1.2" fill="#bdbdbd"/>
<circle cx="123.2" cy="195.5" r="1.2" fill="#bdbdbd"/>
<circle cx="141.1" cy="195.9" r="1.2" fill="#bdbdbd"/>
<circle cx="154.9" cy="196.1" r="1.2" fill="#bdbdbd"/>
<circle cx="151.5" cy="196.2" r="1.2" fill="#bdbdbd"/>
<circle cx="139.6" cy="195.5" r="1.2" fill="#bdbdbd"/>
<circle cx="113.2" cy="196.2" r="1.2" fill="#bdbdbd"/>
<circle cx="87.8" cy="195.6" r="1.2" fill="#bdbdbd"/>
<circle cx="159.1" cy="195.8" r="1.2" fill="#bdbdbd"/>
<circle cx="156.4" cy="196.1" r="1.2" fill="#bdbdbd"/>
<circle cx="158.3" cy="195.8" r="1.2" fill="#bdbdbd"/>
<circle cx="113.1" cy="195.6" r="1.2" fill="#bdbdbd"/>
<circle cx="198.5" cy="195.8" r="1.2" fill="#bdbdbd"/>
<circle cx="184.2" cy="196.0" r="1.2" fill="#bdbdbd"/>
<circle cx="141.8" cy="195.4" r="1.2" fill="#bdbdbd"/>
<circle cx="117.2" cy="195.8" r="1.2" fill="#bdbdbd"/>
<circle cx="108.8" cy="196.0" r="1.2" fill="#bdbdbd"/>
<circle cx="168.8" cy="196.2" r="1.2" fill="#bdbdbd"/>
<circle cx="135.7" cy="195.6" r="1.2" fill="#bdbdbd"/>
<circle cx="128.1" cy="196.2" r="1.2" fill="#bdbdbd"/>
<circle cx="89.8" cy="195.8" r="1.2" fill="#bdbdbd"/>
<circle cx="80.6" cy="195.8" r="1.2" fill="#bdbdbd"/>
<circle cx="135.4" cy="196.4" r="1.2" fill="#bdbdbd"/>
<circle cx="137.4" cy="196.3" r="1.2" fill="#bdbdbd"/>
<circle cx="116.1" cy="195.9" r="1.2" fill="#bdbdbd"/>
<circle cx="118.2" cy="195.5" r="1.2" fill="#bdbdbd"/>
<circle cx="148.2" cy="195.8" r="1.2" fill="#bdbdbd"/>
<circle cx="149.3" cy="196.4" r="1.2" fill="#bdbdbd"/>
<circle cx="159.5" cy="196.3" r="1.2" fill="#bdbdbd"/>
<circle cx="136.4" cy="196.1" r="1.2" fill="#bdbdbd"/>
<circle cx="141.3" cy="195.8" r="1.2" fill="#bdbdbd"/>
<circle cx="168.8" cy="196.2" r="1.2" fill="#bdbdbd"/>
<circle cx="115.7" cy="196.3" r="1.2" fill="#bdbdbd"/>
<circle cx="116.0" cy="195.5" r="1.2" fill="#bdbdbd"/>
<circle cx="136.6" cy="196.3" r="1.2" fill="#bdbdbd"/>
<circle cx="150.2" cy="195.8" r="1.2" fill="#bdbdbd"/>
<circle cx="166.2" cy="196.0" r="1.2" fill="#bdbdbd"/>
<circle cx="104.3" cy="196.1" r="1.2" fill="#bdbdbd"/>
<circle cx="172.0" cy="195.9" r="1.2" fill="#bdbdbd"/>
<circle cx="138.6" cy="196.1" r="1.2" fill="#bdbdbd"/>
<circle cx="119.4" cy="195.5" r="1.2" fill="#bdbdbd"/>
<circle cx="114.5" cy="195.7" r="1.2" fill="#bdbdbd"/>
<circle cx="136.5" cy="196.4" r="1.2" fill="#bdbdbd"/>
<circle cx="190.2" cy="195.9" r="1.2" fill="#bdbdbd"/>
<circle cx="120.7" cy="196.3" r="1.2" fill="#bdbdbd"/>
<circle cx="146.3" cy="195.7" r="1.2" fill="#bdbdbd"/>
<circle cx="167.6" cy="195.5" r="1.2" fill="#bdbdbd"/>
<circle cx="138.5" cy="196.3" r="1.2" fill="#bdbdbd"/>
<circle cx="146.7" cy="195.9" r="1.2" fill="#bdbdbd"/>
<circle cx="168.6" cy="195.8" r="1.2" fill="#bdbdbd"/>
<circle cx="130.1" cy="133.4" r="1.2" fill="#bdbdbd"/>
<circle cx="132.4" cy="155.3" r="1.2" fill="#bdbdbd"/>
<circle cx="136.8" cy="159.0" r="1.2" fill="#bdbdbd"/>
<circle cx="131.0" cy="167.8" r="1.2" fill="#bdbdbd"/>
<circle cx="139.5" cy="158.5" r="1.2" fill="#bdbdbd"/>
<circle cx="113.7" cy="194.8" r="1.2" fill="#2a7ad0"/>
<circle cx="125.8" cy="193.1" r="1.2" fill="#2a7ad0"/>
<circle cx="128.8" cy="177.6" r="1.2" fill="#2a7ad0"/>
<circle cx="115.1" cy="190.9" r="1.2" fill="#2a7ad0"/>
<circle cx="129.2" cy="179.9" r="1.2" fill="#2a7ad0"/>
<circle cx="116.6" cy="193.0" r="1.2" fill="#2a7ad0"/>
<circle cx="116.7" cy="193.1" r="1.2" fill="#2a7ad0"/>
<circle cx="126.9" cy="194.6" r="1.2" fill="#2a7ad0"/>
<circle cx="126.8" cy="195.2" r="1.2" fill="#2a7ad0"/>
<circle cx="125.5" cy="186.5" r="1.2" fill="#2a7ad0"/>
<circle cx="118.2" cy="187.5" r="1.2" fill="#2a7ad0"/>
<circle cx="117.7" cy="194.2" r="1.2" fill="#2a7ad0"/>
<circle cx="121.8" cy="192.5" r="1.2" fill="#2a7ad0"/>
<circle cx="114.9" cy="192.8" r="1.2" fill="#2a7ad0"/>
<circle cx="126.4" cy="188.4" r="1.2" fill="#2a7ad0"/>
<circle cx="98.1" cy="194.9" r="1.2" fill="#2a7ad0"/>
<circle cx="109.6" cy="195.4" r="1.2" fill="#2a7ad0"/>
<circle cx="126.4" cy="193.6" r="1.2" fill="#2a7ad0"/>
<circle cx="116.6" cy="184.1" r="1.2" fill="#2a7ad0"/>
<circle cx="116.5" cy="193.9" r="1.2" fill="#2a7ad0"/>
<circle cx="109.6" cy="194.3" r="1.2" fill="#2a7ad0"/>
<circle cx="126.7" cy="178.7" r="1.2" fill="#2a7ad0"/>
<circle cx="120.0" cy="189.9" r="1.2" fill="#2a7ad0"/>
<circle cx="119.1" cy="178.3" r="1.2" fill="#2a7ad0"/>
<circle cx="123.4" cy="185.1" r="1.2" fill="#2a7ad0"/>
<circle cx="118.2" cy="187.2" r="1.2" fill="#2a7ad0"/>
<circle cx="123.9" cy="187.9" r="1.2" fill="#2a7ad0"/>
<circle cx="121.4" cy="193.6" r="1.2" fill="#2a7ad0"/>
<circle cx="127.0" cy="188.4" r="1.2" fill="#2a7ad0"/>
<circle cx="128.5" cy="176.2" r="1.2" fill="#2a7ad0"/>
<circle cx="127.8" cy="195.2" r="1.2" fill="#2a7ad0"/>
<circle cx="128.2" cy="174.9" r="1.2" fill="#2a7ad0"/>
<circle cx="125.3" cy="194.5" r="1.2" fill="#2a7ad0"/>
<circle cx="129.0" cy="195.1" r="1.2" fill="#2a7ad0"/>
<circle cx="118.3" cy="191.2" r="1.2" fill="#2a7ad0"/>
<circle cx="118.2" cy="189.8" r="1.2" fill="#2a7ad0"/>
<circle cx="128.6" cy="188.3" r="1.2" fill="#2a7ad0"/>
<circle cx="125.1" cy="184.7" r="1.2" fill="#2a7ad0"/>
<circle cx="113.4" cy="188.0" r="1.2" fill="#2a7ad0"/>
<circle cx="128.6" cy="179.2" r="1.2" fill="#2a7ad0"/>
<circle cx="106.5" cy="187.8" r="1.2" fill="#2a7ad0"/>
<circle cx="128.2" cy="193.6" r="1.2" fill="#2a7ad0"/>
<circle cx="128.1" cy="195.2" r="1.2" fill="#2a7ad0"/>
<circle cx="111.8" cy="190.1" r="1.2" fill="#2a7ad0"/>
<circle cx="119.9" cy="187.4" r="1.2" fill="#2a7ad0"/>
<circle cx="120.0" cy="193.9" r="1.2" fill="#2a7ad0"/>
<circle cx="128.3" cy="194.6" r="1.2" fill="#2a7ad0"/>
<circle cx="116.1" cy="194.6" r="1.2" fill="#2a7ad0"/>
<circle cx="125.7" cy="191.8" r="1.2" fill="#2a7ad0"/>
<circle cx="129.0" cy="193.0" r="1.2" fill="#2a7ad0"/>
<circle cx="126.2" cy="186.9" r="1.2" fill="#2a7ad0"/>
<circle cx="125.0" cy="193.0" r="1.2" fill="#2a7ad0"/>
<circle cx="98.4" cy="193.9" r="1.2" fill="#2a7ad0"/>
<circle cx="111.6" cy="192.4" r="1.2" fill="#2a7ad0"/>
<circle cx="129.0" cy="191.1" r="1.2" fill="#2a7ad0"/>
<circle cx="123.9" cy="186.7" r="1.2" fill="#2a7ad0"/>
<circle cx="125.3" cy="187.6" r="1.2" fill="#2a7ad0"/>
<circle cx="122.1" cy="194.2" r="1.2" fill="#2a7ad0"/>
<circle cx="110.9" cy="195.1" r="1.2" fill="#2a7ad0"/>
<circle cx="113.4" cy="194.8" r="1.2" fill="#2a7ad0"/>
<circle cx="129.2" cy="193.5" r="1.2" fill="#2a7ad0"/>
<circle cx="115.9" cy="181.1" r="1.2" fill="#2a7ad0"/>
<circle cx="129.2" cy="189.8" r="1.2" fill="#2a7ad0"/>
<circle cx="123.0" cy="186.6" r="1.2" fill="#2a7ad0"/>
<circle cx="127.4" cy="190.4" r="1.2" fill="#2a7ad0"/>
<circle cx="125.3" cy="184.0" r="1.2" fill="#2a7ad0"/>
<circle cx="126.4" cy="175.6" r="1.2" fill="#2a7ad0"/>
<circle cx="126.2" cy="193.8" r="1.2" fill="#2a7ad0"/>
<circle cx="118.1" cy="192.5" r="1.2" fill="#2a7ad0"/>
<circle cx="128.2" cy="187.6" r="1.2" fill="#2a7ad0"/>
<circle cx="128.5" cy="183.1" r="1.2" fill="#2a7ad0"/>
<circle cx="118.2" cy="188.9" r="1.2" fill="#2a7ad0"/>
<circle cx="120.1" cy="193.4" r="1.2" fill="#2a7ad0"/>
<circle cx="124.5" cy="192.4" r="1.2" fill="#2a7ad0"/>
<circle cx="108.8" cy="195.2" r="1.2" fill="#2a7ad0"/>
<circle cx="108.9" cy="195.4" r="1.2" fill="#2a7ad0"/>
<circle cx="127.1" cy="193.2" r="1.2" fill="#2a7ad0"/>
<circle cx="107.8" cy="193.5" r="1.2" fill="#2a7ad0"/>
<circle cx="124.8" cy="182.1" r="1.2" fill="#2a7ad0"/>
<circle cx="126.8" cy="191.1" r="1.2" fill="#2a7ad0"/>
<circle cx="122.2" cy="188.0" r="1.2" fill="#2a7ad0"/>
<circle cx="116.3" cy="191.4" r="1.2" fill="#2a7ad0"/>
<circle cx="125.3" cy="192.9" r="1.2" fill="#2a7ad0"/>
<circle cx="127.7" cy="181.5" r="1.2" fill="#2a7ad0"/>
<circle cx="119.2" cy="189.4" r="1.2" fill="#2a7ad0"/>
<circle cx="127.5" cy="191.1" r="1.2" fill="#2a7ad0"/>
<circle cx="115.5" cy="192.2" r="1.2" fill="#2a7ad0"/>
<circle cx="128.0" cy="190.7" r="1.2" fill="#2a7ad0"/>
<circle cx="109.2" cy="194.7" r="1.2" fill="#2a7ad0"/>
<circle cx="127.3" cy="192.8" r="1.2" fill="#2a7ad0"/>
<circle cx="118.0" cy="187.7" r="1.2" fill="#2a7ad0"/>
<circle cx="127.7" cy="194.2" r="1.2" fill="#2a7ad0"/>
<circle cx="126.6" cy="192.7" r="1.2" fill="#2a7ad0"/>
<circle cx="122.4" cy="194.5" r="1.2" fill="#2a7ad0"/>
<circle cx="125.6" cy="194.1" r="1.2" fill="#2a7ad0"/>
<circle cx="95.0" cy="192.7" r="1.2" fill="#2a7ad0"/>
<circle cx="128.2" cy="169.8" r="1.2" fill="#2a7ad0"/>
<circle cx="128.2" cy="191.7" r="1.2" fill="#2a7ad0"/>
<circle cx="91.0" cy="192.2" r="1.2" fill="#2a7ad0"/>
<circle cx="117.0" cy="193.2" r="1.2" fill="#2a7ad0"/>
<circle cx="127.2" cy="188.0" r="1.2" fill="#2a7ad0"/>
<circle cx="128.2" cy="193.6" r="1.2" fill="#2a7ad0"/>
<circle cx="124.7" cy="195.2" r="1.2" fill="#2a7ad0"/>
<circle cx="124.5" cy="185.9" r="1.2" fill="#2a7ad0"/>
<circle cx="118.3" cy="192.5" r="1.2" fill="#2a7ad0"/>
<circle cx="120.0" cy="192.6" r="1.2" fill="#2a7ad0"/>
<circle cx="127.8" cy="188.4" r="1.2" fill="#2a7ad0"/>
<circle cx="124.4" cy="187.3" r="1.2" fill="#2a7ad0"/>
<circle cx="107.1" cy="193.9" r="1.2" fill="#2a7ad0"/>
<circle cx="121.3" cy="188.5" r="1.2" fill="#2a7ad0"/>
<circle cx="124.2" cy="193.9" r="1.2" fill="#2a7ad0"/>
<circle cx="117.4" cy="186.9" r="1.2" fill="#2a7ad0"/>
<circle cx="115.5" cy="191.0" r="1.2" fill="#2a7ad0"/>
<circle cx="111.5" cy="191.9" r="1.2" fill="#2a7ad0"/>
<circle cx="119.7" cy="192.7" r="1.2" fill="#2a7ad0"/>
<circle cx="125.8" cy="188.9" r="1.2" fill="#2a7ad0"/>
<circle cx="128.3" cy="191.2" r="1.2" fill="#2a7ad0"/>
<circle cx="115.1" cy="190.9" r="1.2" fill="#2a7ad0"/>
<circle cx="120.0" cy="194.1" r="1.2" fill="#2a7ad0"/>
<circle cx="124.1" cy="191.8" r="1.2" fill="#2a7ad0"/>
<circle cx="120.2" cy="193.0" r="1.2" fill="#2a7ad0"/>
<circle cx="118.8" cy="183.8" r="1.2" fill="#2a7ad0"/>
<circle cx="127.4" cy="187.6" r="1.2" fill="#2a7ad0"/>
<circle cx="115.3" cy="193.6" r="1.2" fill="#2a7ad0"/>
<circle cx="123.0" cy="175.1" r="1.2" fill="#2a7ad0"/>
<circle cx="128.9" cy="189.0" r="1.2" fill="#2a7ad0"/>
<circle cx="127.6" cy="184.1" r="1.2" fill="#2a7ad0"/>
<circle cx="103.1" cy="193.6" r="1.2" fill="#2a7ad0"/>
<circle cx="128.3" cy="188.8" r="1.2" fill="#2a7ad0"/>
<circle cx="122.0" cy="188.8" r="1.2" fill="#2a7ad0"/>
<circle cx="122.6" cy="189.9" r="1.2" fill="#2a7ad0"/>
<circle cx="112.9" cy="193.0" r="1.2" fill="#2a7ad0"/>
<circle cx="124.3" cy="177.7" r="1.2" fill="#2a7ad0"/>
<circle cx="127.1" cy="187.1" r="1.2" fill="#2a7ad0"/>
<circle cx="124.6" cy="186.6" r="1.2" fill="#2a7ad0"/>
<circle cx="128.0" cy="163.4" r="1.2" fill="#2a7ad0"/>
<circle cx="125.2" cy="195.1" r="1.2" fill="#2a7ad0"/>
<circle cx="126.3" cy="192.0" r="1.2" fill="#2a7ad0"/>
<circle cx="129.1" cy="190.9" r="1.2" fill="#2a7ad0"/>
<circle cx="124.2" cy="188.3" r="1.2" fill="#2a7ad0"/>
<circle cx="125.2" cy="193.5" r="1.2" fill="#2a7ad0"/>
<circle cx="126.9" cy="185.8" r="1.2" fill="#2a7ad0"/>
<circle cx="103.2" cy="193.6" r="1.2" fill="#2a7ad0"/>
<circle cx="127.0" cy="183.9" r="1.2" fill="#2a7ad0"/>
<circle cx="124.6" cy="194.0" r="1.2" fill="#2a7ad0"/>
<circle cx="128.0" cy="184.0" r="1.2" fill="#2a7ad0"/>
<circle cx="113.9" cy="192.0" r="1.2" fill="#2a7ad0"/>
<circle cx="123.4" cy="190.8" r="1.2" fill="#2a7ad0"/>
<circle cx="126.9" cy="171.9" r="1.2" fill="#2a7ad0"/>
<circle cx="125.2" cy="189.0" r="1.2" fill="#2a7ad0"/>
<circle cx="113.4" cy="189.7" r="1.2" fill="#2a7ad0"/>
<circle cx="123.4" cy="193.5" r="1.2" fill="#2a7ad0"/>
<circle cx="121.9" cy="194.7" r="1.2" fill="#2a7ad0"/>
<circle cx="112.6" cy="194.0" r="1.2" fill="#2a7ad0"/>
<circle cx="111.6" cy="194.5" r="1.2" fill="#2a7ad0"/>
<circle cx="124.9" cy="193.6" r="1.2" fill="#2a7ad0"/>
<circle cx="124.1" cy="194.2" r="1.2" fill="#2a7ad0"/>
<circle cx="129.2" cy="184.7" r="1.2" fill="#2a7ad0"/>
<circle cx="126.2" cy="193.5" r="1.2" fill="#2a7ad0"/>
<circle cx="125.9" cy="191.1" r="1.2" fill="#2a7ad0"/>
<circle cx="124.1" cy="189.4" r="1.2" fill="#2a7ad0"/>
<circle cx="119.3" cy="193.4" r="1.2" fill="#2a7ad0"/>
<circle cx="104.8" cy="190.5" r="1.2" fill="#2a7ad0"/>
<circle cx="128.7" cy="181.3" r="1.2" fill="#2a7ad0"/>
<circle cx="107.4" cy="191.3" r="1.2" fill="#2a7ad0"/>
<circle cx="127.8" cy="181.9" r="1.2" fill="#2a7ad0"/>
<circle cx="120.0" cy="195.4" r="1.2" fill="#2a7ad0"/>
<circle cx="129.1" cy="170.2" r="1.2" fill="#2a7ad0"/>
<circle cx="119.4" cy="194.1" r="1.2" fill="#2a7ad0"/>
<circle cx="128.3" cy="194.2" r="1.2" fill="#2a7ad0"/>
<circle cx="126.8" cy="184.9" r="1.2" fill="#2a7ad0"/>
<circle cx="125.3" cy="194.4" r="1.2" fill="#2a7ad0"/>
<circle cx="107.5" cy="191.1" r="1.2" fill="#2a7ad0"/>
<circle cx="127.5" cy="179.0" r="1.2" fill="#2a7ad0"/>
<circle cx="120.6" cy="188.2" r="1.2" fill="#2a7ad0"/>
<circle cx="119.0" cy="185.6" r="1.2" fill="#2a7ad0"/>
<circle cx="114.9" cy="188.9" r="1.2" fill="#2a7ad0"/>
<circle cx="127.2" cy="186.9" r="1.2" fill="#2a7ad0"/>
<circle cx="122.2" cy="188.3" r="1.2" fill="#2a7ad0"/>
<circle cx="123.9" cy="182.9" r="1.2" fill="#2a7ad0"/>
<circle cx="121.7" cy="193.9" r="1.2" fill="#2a7ad0"/>
<circle cx="126.8" cy="194.4" r="1.2" fill="#2a7ad0"/>
<circle cx="122.9" cy="195.1" r="1.2" fill="#2a7ad0"/>
<circle cx="123.4" cy="194.6" r="1.2" fill="#2a7ad0"/>
<circle cx="123.0" cy="191.6" r="1.2" fill="#2a7ad0"/>
<circle cx="122.1" cy="185.1" r="1.2" fill="#2a7ad0"/>
<circle cx="129.2" cy="180.1" r="1.2" fill="#2a7ad0"/>
<circle cx="123.4" cy="190.8" r="1.2" fill="#2a7ad0"/>
<circle cx="119.1" cy="187.3" r="1.2" fill="#2a7ad0"/>
<circle cx="124.9" cy="192.1" r="1.2" fill="#2a7ad0"/>
<circle cx="129.1" cy="187.9" r="1.2" fill="#2a7ad0"/>
<circle cx="127.9" cy="168.4" r="1.2" fill="#2a7ad0"/>
<circle cx="125.7" cy="169.3" r="1.2" fill="#2a7ad0"/>
<circle cx="128.1" cy="158.1" r="1.2" fill="#2a7ad0"/>
<circle cx="126.8" cy="156.3" r="1.2" fill="#2a7ad0"/>
<circle cx="127.5" cy="173.6" r="1.2" fill="#2a7ad0"/>
<circle cx="128.9" cy="189.3" r="1.2" fill="#2a7ad0"/>
<circle cx="128.2" cy="168.7" r="1.2" fill="#2a7ad0"/>
<circle cx="126.9" cy="160.5" r="1.2" fill="#2a7ad0"/>
<circle cx="127.0" cy="174.0" r="1.2" fill="#2a7ad0"/>
<circle cx="127.5" cy="163.7" r="1.2" fill="#2a7ad0"/>
<circle cx="126.4" cy="175.3" r="1.2" fill="#2a7ad0"/>
<circle cx="127.2" cy="171.2" r="1.2" fill="#2a7ad0"/>
<circle cx="128.6" cy="180.3" r="1.2" fill="#2a7ad0"/>
<circle cx="128.6" cy="176.4" r="1.2" fill="#2a7ad0"/>
<circle cx="127.5" cy="181.0" r="1.2" fill="#2a7ad0"/>
<circle cx="127.5" cy="156.6" r="1.2" fill="#2a7ad0"/>
<circle cx="128.0" cy="162.9" r="1.2" fill="#2a7ad0"/>
<circle cx="144.7" cy="193.2" r="1.2" fill="#2a7ad0"/>
<circle cx="144.5" cy="190.2" r="1.2" fill="#2a7ad0"/>
<circle cx="147.7" cy="189.1" r="1.2" fill="#2a7ad0"/>
<circle cx="143.0" cy="186.0" r="1.2" fill="#2a7ad0"/>
<circle cx="153.4" cy="193.3" r="1.2" fill="#2a7ad0"/>
<circle cx="143.0" cy="192.8" r="1.2" fill="#2a7ad0"/>
<circle cx="142.8" cy="193.9" r="1.2" fill="#2a7ad0"/>
<circle cx="155.2" cy="193.2" r="1.2" fill="#2a7ad0"/>
<circle cx="148.0" cy="189.2" r="1.2" fill="#2a7ad0"/>
<circle cx="154.6" cy="193.1" r="1.2" fill="#2a7ad0"/>
<circle cx="147.5" cy="191.2" r="1.2" fill="#2a7ad0"/>
<circle cx="148.6" cy="192.0" r="1.2" fill="#2a7ad0"/>
<circle cx="148.4" cy="194.5" r="1.2" fill="#2a7ad0"/>
<circle cx="148.2" cy="193.0" r="1.2" fill="#2a7ad0"/>
<circle cx="149.8" cy="195.1" r="1.2" fill="#2a7ad0"/>
<circle cx="143.7" cy="195.2" r="1.2" fill="#2a7ad0"/>
<circle cx="150.1" cy="187.2" r="1.2" fill="#2a7ad0"/>
<circle cx="148.0" cy="193.6" r="1.2" fill="#2a7ad0"/>
<circle cx="151.2" cy="190.7" r="1.2" fill="#2a7ad0"/>
<circle cx="146.8" cy="194.1" r="1.2" fill="#2a7ad0"/>
<circle cx="144.5" cy="192.2" r="1.2" fill="#2a7ad0"/>
<circle cx="144.6" cy="192.1" r="1.2" fill="#2a7ad0"/>
<circle cx="147.8" cy="184.3" r="1.2" fill="#2a7ad0"/>
<circle cx="143.0" cy="189.4" r="1.2" fill="#2a7ad0"/>
<circle cx="143.0" cy="194.5" r="1.2" fill="#2a7ad0"/>
<circle cx="150.9" cy="192.8" r="1.2" fill="#2a7ad0"/>
<circle cx="155.1" cy="194.0" r="1.2" fill="#2a7ad0"/>
<circle cx="142.8" cy="191.8" r="1.2" fill="#2a7ad0"/>
<circle cx="147.2" cy="183.3" r="1.2" fill="#2a7ad0"/>
<circle cx="162.1" cy="194.1" r="1.2" fill="#2a7ad0"/>
<circle cx="145.4" cy="194.9" r="1.2" fill="#2a7ad0"/>
<circle cx="147.8" cy="194.5" r="1.2" fill="#2a7ad0"/>
<circle cx="143.6" cy="195.3" r="1.2" fill="#2a7ad0"/>
<circle cx="142.8" cy="186.8" r="1.2" fill="#2a7ad0"/>
<circle cx="143.4" cy="172.0" r="1.2" fill="#2a7ad0"/>
<circle cx="143.2" cy="181.0" r="1.2" fill="#2a7ad0"/>
<circle cx="143.4" cy="195.3" r="1.2" fill="#2a7ad0"/>
<circle cx="149.0" cy="194.4" r="1.2" fill="#2a7ad0"/>
<circle cx="149.2" cy="194.7" r="1.2" fill="#2a7ad0"/>
<circle cx="143.0" cy="184.6" r="1.2" fill="#2a7ad0"/>
<circle cx="148.9" cy="188.3" r="1.2" fill="#2a7ad0"/>
<circle cx="149.2" cy="195.1" r="1.2" fill="#2a7ad0"/>
<circle cx="147.6" cy="190.3" r="1.2" fill="#2a7ad0"/>
<circle cx="145.8" cy="181.7" r="1.2" fill="#2a7ad0"/>
<circle cx="144.2" cy="174.7" r="1.2" fill="#2a7ad0"/>
<circle cx="149.0" cy="195.4" r="1.2" fill="#2a7ad0"/>
<circle cx="142.8" cy="187.6" r="1.2" fill="#2a7ad0"/>
<circle cx="151.1" cy="195.2" r="1.2" fill="#2a7ad0"/>
<circle cx="144.6" cy="187.7" r="1.2" fill="#2a7ad0"/>
<circle cx="143.6" cy="182.3" r="1.2" fill="#2a7ad0"/>
<circle cx="146.0" cy="195.1" r="1.2" fill="#2a7ad0"/>
<circle cx="145.0" cy="190.6" r="1.2" fill="#2a7ad0"/>
<circle cx="145.6" cy="189.5" r="1.2" fill="#2a7ad0"/>
<circle cx="143.5" cy="184.6" r="1.2" fill="#2a7ad0"/>
<circle cx="145.0" cy="189.6" r="1.2" fill="#2a7ad0"/>
<circle cx="147.6" cy="193.2" r="1.2" fill="#2a7ad0"/>
<circle cx="145.1" cy="186.9" r="1.2" fill="#2a7ad0"/>
<circle cx="157.0" cy="192.0" r="1.2" fill="#2a7ad0"/>
<circle cx="146.9" cy="193.9" r="1.2" fill="#2a7ad0"/>
<circle cx="143.1" cy="169.1" r="1.2" fill="#2a7ad0"/>
<circle cx="148.7" cy="188.8" r="1.2" fill="#2a7ad0"/>
<circle cx="144.7" cy="190.0" r="1.2" fill="#2a7ad0"/>
<circle cx="161.4" cy="191.8" r="1.2" fill="#2a7ad0"/>
<circle cx="147.3" cy="193.8" r="1.2" fill="#2a7ad0"/>
<circle cx="145.5" cy="183.9" r="1.2" fill="#2a7ad0"/>
<circle cx="145.1" cy="189.0" r="1.2" fill="#2a7ad0"/>
<circle cx="147.3" cy="185.6" r="1.2" fill="#2a7ad0"/>
<circle cx="150.8" cy="194.4" r="1.2" fill="#2a7ad0"/>
<circle cx="142.8" cy="193.1" r="1.2" fill="#2a7ad0"/>
<circle cx="145.5" cy="190.7" r="1.2" fill="#2a7ad0"/>
<circle cx="151.1" cy="188.7" r="1.2" fill="#2a7ad0"/>
<circle cx="143.0" cy="182.3" r="1.2" fill="#2a7ad0"/>
<circle cx="150.9" cy="189.1" r="1.2" fill="#2a7ad0"/>
<circle cx="146.9" cy="194.0" r="1.2" fill="#2a7ad0"/>
<circle cx="152.1" cy="190.7" r="1.2" fill="#2a7ad0"/>
<circle cx="148.4" cy="186.0" r="1.2" fill="#2a7ad0"/>
<circle cx="144.8" cy="194.9" r="1.2" fill="#2a7ad0"/>
<circle cx="146.7" cy="188.1" r="1.2" fill="#2a7ad0"/>
<circle cx="143.9" cy="186.4" r="1.2" fill="#2a7ad0"/>
<circle cx="155.9" cy="194.8" r="1.2" fill="#2a7ad0"/>
<circle cx="144.3" cy="171.9" r="1.2" fill="#2a7ad0"/>
<circle cx="143.9" cy="184.8" r="1.2" fill="#2a7ad0"/>
<circle cx="143.4" cy="169.9" r="1.2" fill="#2a7ad0"/>
<circle cx="144.7" cy="177.9" r="1.2" fill="#2a7ad0"/>
<circle cx="143.0" cy="168.4" r="1.2" fill="#2a7ad0"/>
<circle cx="144.7" cy="184.1" r="1.2" fill="#2a7ad0"/>
<circle cx="144.2" cy="165.9" r="1.2" fill="#2a7ad0"/>
<circle cx="145.0" cy="176.2" r="1.2" fill="#2a7ad0"/>
<circle cx="144.0" cy="174.3" r="1.2" fill="#2a7ad0"/>
<circle cx="143.2" cy="185.2" r="1.2" fill="#2a7ad0"/>
<circle cx="143.2" cy="171.3" r="1.2" fill="#2a7ad0"/>
<circle cx="143.7" cy="175.0" r="1.2" fill="#2a7ad0"/>
<circle cx="186.2" cy="194.7" r="1.2" fill="#2a7ad0"/>
<circle cx="107.4" cy="194.6" r="1.2" fill="#2a7ad0"/>
<circle cx="188.7" cy="195.1" r="1.2" fill="#2a7ad0"/>
<circle cx="186.4" cy="195.3" r="1.2" fill="#2a7ad0"/>
<circle cx="98.6" cy="195.0" r="1.2" fill="#2a7ad0"/>
<circle cx="106.0" cy="195.3" r="1.2" fill="#2a7ad0"/>
<circle cx="180.5" cy="195.2" r="1.2" fill="#2a7ad0"/>
<circle cx="175.8" cy="194.6" r="1.2" fill="#2a7ad0"/>
<circle cx="101.3" cy="195.4" r="1.2" fill="#2a7ad0"/>
<circle cx="79.5" cy="195.1" r="1.2" fill="#2a7ad0"/>
<circle cx="107.2" cy="194.9" r="1.2" fill="#2a7ad0"/>
<circle cx="177.6" cy="194.7" r="1.2" fill="#2a7ad0"/>
<circle cx="83.4" cy="194.9" r="1.2" fill="#2a7ad0"/>
<circle cx="88.0" cy="195.4" r="1.2" fill="#2a7ad0"/>
<circle cx="114.3" cy="60.5" r="1.2" fill="#2a7ad0"/>
<circle cx="171.6" cy="58.9" r="1.2" fill="#2a7ad0"/>
<circle cx="129.5" cy="90.2" r="1.2" fill="#2a7ad0"/>
<circle cx="149.8" cy="113.1" r="1.2" fill="#2a7ad0"/>
<circle cx="119.2" cy="119.5" r="1.2" fill="#2a7ad0"/>
<circle cx="36.3" cy="160.4" r="1.2" fill="#2a7ad0"/>
<circle cx="77.6" cy="184.3" r="1.2" fill="#2a7ad0"/>
<circle cx="97.0" cy="180.1" r="1.2" fill="#2a7ad0"/>
<circle cx="163.3" cy="137.7" r="1.2" fill="#2a7ad0"/>
<circle cx="125.1" cy="131.0" r="1.2" fill="#2a7ad0"/>
<circle cx="117.2" cy="136.9" r="1.2" fill="#2a7ad0"/>
<circle cx="125.7" cy="137.2" r="1.2" fill="#2a7ad0"/>
<circle cx="161.6" cy="149.4" r="1.2" fill="#2a7ad0"/>
<circle cx="144.1" cy="148.0" r="1.2" fill="#2a7ad0"/>
<circle cx="149.3" cy="161.1" r="1.2" fill="#2a7ad0"/>
<circle cx="152.8" cy="174.2" r="1.2" fill="#2a7ad0"/>
<circle cx="154.3" cy="188.2" r="1.2" fill="#2a7ad0"/>
<circle cx="107.0" cy="178.6" r="1.2" fill="#2a7ad0"/>
<circle cx="114.9" cy="171.9" r="1.2" fill="#2a7ad0"/>
<circle cx="117.2" cy="159.6" r="1.2" fill="#2a7ad0"/>
<circle cx="121.6" cy="157.6" r="1.2" fill="#2a7ad0"/>
<circle cx="176.8" cy="192.6" r="1.2" fill="#2a7ad0"/>
</g>
<line x1="28.4" y1="195.4" x2="206.4" y2="195.4" stroke="#333" stroke-width="0.7" stroke-dasharray="1.6,1.6"/>
<line x1="129.6" y1="52.6" x2="129.6" y2="203.4" stroke="#333" stroke-width="0.7" stroke-dasharray="1.6,1.6"/>
<line x1="142.4" y1="52.6" x2="142.4" y2="203.4" stroke="#333" stroke-width="0.7" stroke-dasharray="1.6,1.6"/>
<path d="M206.4 52.6 L206.4 203.4" stroke="#bdbdbd" stroke-width="0.9" fill="none"/>
<path d="M206.4 52.6 L28.4 52.6 L28.4 203.4 L206.4 203.4" stroke="#8c8c8c" stroke-width="0.9" fill="none"/>
<line x1="81.5" y1="203.4" x2="81.5" y2="205.6" stroke="#555" stroke-width="0.8"/>
<line x1="136.0" y1="203.4" x2="136.0" y2="205.6" stroke="#555" stroke-width="0.8"/>
<line x1="190.5" y1="203.4" x2="190.5" y2="205.6" stroke="#555" stroke-width="0.8"/>
<line x1="26.4" y1="196.4" x2="28.4" y2="196.4" stroke="#555" stroke-width="0.8"/>
<line x1="26.4" y1="159.4" x2="28.4" y2="159.4" stroke="#555" stroke-width="0.8"/>
<line x1="26.4" y1="122.4" x2="28.4" y2="122.4" stroke="#555" stroke-width="0.8"/>
<line x1="26.4" y1="85.4" x2="28.4" y2="85.4" stroke="#555" stroke-width="0.8"/>
<text x="80.3" y="214.9" font-size="9" text-anchor="middle" fill="#262626" >−5</text>
<text x="136.0" y="214.9" font-size="9" text-anchor="middle" fill="#262626" >0</text>
<text x="190.5" y="214.9" font-size="9" text-anchor="middle" fill="#262626" >5</text>
<text x="25.8" y="200.6" font-size="9" text-anchor="end" fill="#262626" >0</text>
<text x="25.8" y="163.6" font-size="9" text-anchor="end" fill="#262626" >50</text>
<text x="25.8" y="126.6" font-size="9" text-anchor="end" fill="#262626" >100</text>
<text x="25.8" y="89.6" font-size="9" text-anchor="end" fill="#262626" >150</text>
<text x="117.5" y="49.1" font-size="11.2" text-anchor="middle" fill="#000" >EpiLCs, WT vs. D5, n=3</text>
<text x="49.2" y="80.2" font-size="11.1" text-anchor="start" fill="#000" >Down = 448</text>
<text x="152.8" y="80.0" font-size="11.1" text-anchor="start" fill="#000" >Up = 187</text>
<text x="117.6" y="228.1" font-size="11.5" text-anchor="middle" fill="#000" >Log2(FC)</text>
<text transform="translate(8.6,133.6) rotate(-90)" x="0" y="0" font-size="11.3" text-anchor="middle">−Log10(FDR)</text>
<text x="229.2" y="14.0" font-size="20" text-anchor="start" fill="#000" font-weight="bold" >b</text>
<defs>
<linearGradient id="pk" x1="0" x2="1" y1="0" y2="0">
<stop offset="0" stop-color="#3f007d" stop-opacity="0"/>
<stop offset="0.15" stop-color="#3f007d" stop-opacity="0.06"/>
<stop offset="0.3" stop-color="#3f007d" stop-opacity="0.3"/>
<stop offset="0.42" stop-color="#3f007d" stop-opacity="0.75"/>
<stop offset="0.5" stop-color="#3f007d" stop-opacity="1"/>
<stop offset="0.58" stop-color="#3f007d" stop-opacity="0.75"/>
<stop offset="0.7" stop-color="#3f007d" stop-opacity="0.3"/>
<stop offset="0.85" stop-color="#3f007d" stop-opacity="0.06"/>
<stop offset="1" stop-color="#3f007d" stop-opacity="0"/>
</linearGradient>
<linearGradient id="gk" x1="0" x2="1" y1="0" y2="0">
<stop offset="0" stop-color="#238b45" stop-opacity="0.1"/>
<stop offset="0.2" stop-color="#238b45" stop-opacity="0.3"/>
<stop offset="0.35" stop-color="#238b45" stop-opacity="0.7"/>
<stop offset="0.45" stop-color="#238b45" stop-opacity="1"/>
<stop offset="0.5" stop-color="#238b45" stop-opacity="0.3"/>
<stop offset="0.55" stop-color="#238b45" stop-opacity="1"/>
<stop offset="0.65" stop-color="#238b45" stop-opacity="0.7"/>
<stop offset="0.8" stop-color="#238b45" stop-opacity="0.3"/>
<stop offset="1" stop-color="#238b45" stop-opacity="0.1"/>
</linearGradient>
<linearGradient id="cbp" x1="0" x2="1" y1="0" y2="0">
<stop offset="0" stop-color="#fcfbfd"/><stop offset="0.33" stop-color="#c6c5e0"/>
<stop offset="0.66" stop-color="#7b6fb3"/><stop offset="1" stop-color="#3f007d"/>
</linearGradient>
<linearGradient id="cbg" x1="0" x2="1" y1="0" y2="0">
<stop offset="0" stop-color="#f7fcf5"/><stop offset="0.33" stop-color="#b4e0ad"/>
<stop offset="0.66" stop-color="#4aa85c"/><stop offset="1" stop-color="#00441b"/>
</linearGradient>
<linearGradient id="cbr" x1="0" x2="1" y1="0" y2="0">
<stop offset="0" stop-color="#2340b0"/><stop offset="0.5" stop-color="#ffffff"/>
<stop offset="1" stop-color="#ff1a00"/>
</linearGradient>
</defs>
<rect x="269.3" y="55.2" width="96.5" height="124.8" fill="#f8f7fb"/>
<svg x="269.3" y="55.2" width="96.5" height="124.8" viewBox="269.3 55.2 96.5 124.8" overflow="hidden">
<rect x="266.6" y="56.1" width="106.0" height="0.8" fill="url(#pk)" opacity="0.38"/>
<rect x="323.8" y="56.1" width="5.8" height="0.8" fill="#3f007d" opacity="0.20"/>
<rect x="339.0" y="56.1" width="3.5" height="0.8" fill="#3f007d" opacity="0.11"/>
<rect x="323.8" y="56.1" width="9.1" height="0.8" fill="#3f007d" opacity="0.20"/>
<rect x="287.1" y="56.1" width="61.4" height="0.8" fill="url(#pk)" opacity="0.61"/>
<rect x="265.4" y="56.9" width="111.2" height="0.8" fill="url(#pk)" opacity="0.29"/>
<rect x="328.5" y="56.9" width="2.5" height="0.8" fill="#3f007d" opacity="0.08"/>
<rect x="325.9" y="56.9" width="8.2" height="0.8" fill="#3f007d" opacity="0.13"/>
<rect x="302.4" y="56.9" width="6.7" height="0.8" fill="#3f007d" opacity="0.11"/>
<rect x="288.6" y="56.9" width="56.2" height="0.8" fill="url(#pk)" opacity="0.58"/>
<rect x="264.6" y="57.7" width="107.7" height="0.8" fill="url(#pk)" opacity="0.10"/>
<rect x="331.7" y="57.7" width="7.7" height="0.8" fill="#3f007d" opacity="0.07"/>
<rect x="315.1" y="57.7" width="3.8" height="0.8" fill="#3f007d" opacity="0.13"/>
<rect x="329.4" y="57.7" width="5.2" height="0.8" fill="#3f007d" opacity="0.15"/>
<rect x="296.3" y="57.7" width="41.8" height="0.8" fill="url(#pk)" opacity="0.53"/>
<rect x="282.1" y="58.5" width="84.7" height="0.8" fill="url(#pk)" opacity="0.07"/>
<rect x="325.3" y="58.5" width="5.0" height="0.8" fill="#3f007d" opacity="0.31"/>
<rect x="299.8" y="58.5" width="3.6" height="0.8" fill="#3f007d" opacity="0.25"/>
<rect x="285.7" y="58.5" width="62.8" height="0.8" fill="url(#pk)" opacity="0.85"/>
<rect x="259.5" y="59.3" width="111.4" height="0.8" fill="url(#pk)" opacity="0.12"/>
<rect x="321.6" y="59.3" width="2.8" height="0.8" fill="#3f007d" opacity="0.08"/>
<rect x="315.9" y="59.3" width="6.5" height="0.8" fill="#3f007d" opacity="0.16"/>
<rect x="310.5" y="59.3" width="3.5" height="0.8" fill="#3f007d" opacity="0.20"/>
<rect x="296.9" y="59.3" width="39.0" height="0.8" fill="url(#pk)" opacity="0.54"/>
<rect x="277.4" y="60.1" width="78.8" height="0.8" fill="url(#pk)" opacity="0.10"/>
<rect x="309.5" y="60.1" width="3.7" height="0.8" fill="#3f007d" opacity="0.18"/>
<rect x="330.8" y="60.1" width="8.8" height="0.8" fill="#3f007d" opacity="0.12"/>
<rect x="337.6" y="60.1" width="3.7" height="0.8" fill="#3f007d" opacity="0.05"/>
<rect x="298.4" y="60.1" width="40.0" height="0.8" fill="url(#pk)" opacity="0.70"/>
<rect x="285.0" y="60.9" width="71.0" height="0.8" fill="url(#pk)" opacity="0.04"/>
<rect x="333.5" y="60.9" width="2.1" height="0.8" fill="#3f007d" opacity="0.08"/>
<rect x="296.6" y="60.9" width="42.7" height="0.8" fill="url(#pk)" opacity="0.53"/>
<rect x="283.2" y="61.7" width="69.9" height="0.8" fill="url(#pk)" opacity="0.06"/>
<rect x="326.5" y="61.7" width="8.5" height="0.8" fill="#3f007d" opacity="0.07"/>
<rect x="335.1" y="61.7" width="3.5" height="0.8" fill="#3f007d" opacity="0.09"/>
<rect x="319.3" y="61.7" width="9.6" height="0.8" fill="#3f007d" opacity="0.17"/>
<rect x="294.1" y="61.7" width="47.6" height="0.8" fill="url(#pk)" opacity="0.40"/>
<rect x="268.2" y="62.5" width="96.3" height="0.8" fill="url(#pk)" opacity="0.01"/>
<rect x="313.1" y="62.5" width="5.1" height="0.8" fill="#3f007d" opacity="0.15"/>
<rect x="322.0" y="62.5" width="6.2" height="0.8" fill="#3f007d" opacity="0.20"/>
<rect x="307.5" y="62.5" width="9.8" height="0.8" fill="#3f007d" opacity="0.09"/>
<rect x="300.0" y="62.5" width="35.0" height="0.8" fill="url(#pk)" opacity="0.50"/>
<rect x="311.5" y="63.3" width="3.6" height="0.8" fill="#3f007d" opacity="0.08"/>
<rect x="294.8" y="63.3" width="44.2" height="0.8" fill="url(#pk)" opacity="0.56"/>
<rect x="330.8" y="64.1" width="4.3" height="0.8" fill="#3f007d" opacity="0.06"/>
<rect x="303.4" y="64.1" width="31.1" height="0.8" fill="url(#pk)" opacity="0.45"/>
<rect x="324.0" y="64.9" width="7.5" height="0.8" fill="#3f007d" opacity="0.07"/>
<rect x="314.7" y="64.9" width="3.1" height="0.8" fill="#3f007d" opacity="0.05"/>
<rect x="300.5" y="64.9" width="31.2" height="0.8" fill="url(#pk)" opacity="0.30"/>
<rect x="327.3" y="65.7" width="5.9" height="0.8" fill="#3f007d" opacity="0.15"/>
<rect x="297.0" y="65.7" width="39.9" height="0.8" fill="url(#pk)" opacity="0.55"/>
<rect x="316.2" y="66.5" width="4.9" height="0.8" fill="#3f007d" opacity="0.09"/>
<rect x="325.2" y="66.5" width="3.0" height="0.8" fill="#3f007d" opacity="0.17"/>
<rect x="311.3" y="66.5" width="4.7" height="0.8" fill="#3f007d" opacity="0.09"/>
<rect x="303.9" y="66.5" width="27.2" height="0.8" fill="url(#pk)" opacity="0.54"/>
<rect x="321.5" y="67.3" width="7.0" height="0.8" fill="#3f007d" opacity="0.06"/>
<rect x="298.5" y="67.3" width="38.6" height="0.8" fill="url(#pk)" opacity="0.25"/>
<rect x="310.6" y="68.1" width="2.9" height="0.8" fill="#3f007d" opacity="0.07"/>
<rect x="308.5" y="68.1" width="9.5" height="0.8" fill="#3f007d" opacity="0.13"/>
<rect x="317.2" y="68.1" width="5.7" height="0.8" fill="#3f007d" opacity="0.11"/>
<rect x="305.4" y="68.1" width="24.5" height="0.8" fill="url(#pk)" opacity="0.38"/>
<rect x="309.5" y="68.9" width="3.8" height="0.8" fill="#3f007d" opacity="0.11"/>
<rect x="310.0" y="68.9" width="6.0" height="0.8" fill="#3f007d" opacity="0.11"/>
<rect x="304.0" y="68.9" width="29.5" height="0.8" fill="url(#pk)" opacity="0.33"/>
<rect x="318.5" y="69.7" width="6.1" height="0.8" fill="#3f007d" opacity="0.09"/>
<rect x="320.2" y="69.7" width="4.7" height="0.8" fill="#3f007d" opacity="0.09"/>
<rect x="307.1" y="69.7" width="20.9" height="0.8" fill="url(#pk)" opacity="0.25"/>
<rect x="315.2" y="70.5" width="8.4" height="0.8" fill="#3f007d" opacity="0.11"/>
<rect x="318.6" y="70.5" width="9.0" height="0.8" fill="#3f007d" opacity="0.05"/>
<rect x="305.4" y="70.5" width="24.8" height="0.8" fill="url(#pk)" opacity="0.23"/>
<rect x="310.7" y="71.3" width="2.3" height="0.8" fill="#3f007d" opacity="0.03"/>
<rect x="320.3" y="71.3" width="9.8" height="0.8" fill="#3f007d" opacity="0.06"/>
<rect x="306.4" y="71.3" width="20.0" height="0.8" fill="url(#pk)" opacity="0.23"/>
<rect x="308.3" y="72.1" width="7.4" height="0.8" fill="#3f007d" opacity="0.08"/>
<rect x="318.3" y="72.1" width="8.7" height="0.8" fill="#3f007d" opacity="0.08"/>
<rect x="303.1" y="72.1" width="27.8" height="0.8" fill="url(#pk)" opacity="0.25"/>
<rect x="320.8" y="72.9" width="6.6" height="0.8" fill="#3f007d" opacity="0.05"/>
<rect x="315.1" y="72.9" width="8.3" height="0.8" fill="#3f007d" opacity="0.05"/>
<rect x="319.6" y="72.9" width="2.2" height="0.8" fill="#3f007d" opacity="0.12"/>
<rect x="307.2" y="72.9" width="19.0" height="0.8" fill="url(#pk)" opacity="0.30"/>
<rect x="319.0" y="73.7" width="2.9" height="0.8" fill="#3f007d" opacity="0.03"/>
<rect x="310.2" y="73.7" width="4.9" height="0.8" fill="#3f007d" opacity="0.02"/>
<rect x="314.7" y="73.7" width="3.6" height="0.8" fill="#3f007d" opacity="0.07"/>
<rect x="309.1" y="73.7" width="15.4" height="0.8" fill="url(#pk)" opacity="0.16"/>
<rect x="314.8" y="74.5" width="4.2" height="0.8" fill="#3f007d" opacity="0.07"/>
<rect x="310.9" y="74.5" width="7.6" height="0.8" fill="#3f007d" opacity="0.08"/>
<rect x="309.0" y="74.5" width="5.1" height="0.8" fill="#3f007d" opacity="0.08"/>
<rect x="308.3" y="74.5" width="20.9" height="0.8" fill="url(#pk)" opacity="0.25"/>
<rect x="307.8" y="75.3" width="20.9" height="0.8" fill="url(#pk)" opacity="0.13"/>
<rect x="310.2" y="76.1" width="15.5" height="0.8" fill="url(#pk)" opacity="0.13"/>
<rect x="310.5" y="76.9" width="7.2" height="0.8" fill="#3f007d" opacity="0.06"/>
<rect x="316.4" y="76.9" width="4.6" height="0.8" fill="#3f007d" opacity="0.11"/>
<rect x="313.6" y="76.9" width="2.8" height="0.8" fill="#3f007d" opacity="0.09"/>
<rect x="311.6" y="76.9" width="13.7" height="0.8" fill="url(#pk)" opacity="0.23"/>
<rect x="318.2" y="77.7" width="9.8" height="0.8" fill="#3f007d" opacity="0.03"/>
<rect x="313.0" y="77.7" width="10.9" height="0.8" fill="url(#pk)" opacity="0.22"/>
<rect x="311.2" y="78.5" width="14.9" height="0.8" fill="url(#pk)" opacity="0.13"/>
<rect x="312.9" y="79.3" width="9.0" height="0.8" fill="url(#pk)" opacity="0.13"/>
<rect x="311.5" y="80.1" width="12.0" height="0.8" fill="url(#pk)" opacity="0.14"/>
<rect x="344.1" y="56.9" width="2.6" height="0.7" fill="#3f007d" opacity="0.05"/>
<rect x="300.3" y="60.3" width="9.9" height="0.7" fill="#3f007d" opacity="0.03"/>
<rect x="317.1" y="59.7" width="9.2" height="0.7" fill="#3f007d" opacity="0.05"/>
<rect x="356.8" y="72.5" width="6.9" height="0.7" fill="#3f007d" opacity="0.06"/>
<rect x="289.8" y="58.2" width="7.3" height="0.7" fill="#3f007d" opacity="0.03"/>
<rect x="328.4" y="73.5" width="7.2" height="0.7" fill="#3f007d" opacity="0.05"/>
<rect x="298.1" y="69.5" width="5.8" height="0.7" fill="#3f007d" opacity="0.05"/>
<rect x="288.6" y="77.5" width="10.5" height="0.7" fill="#3f007d" opacity="0.06"/>
<rect x="322.3" y="68.6" width="4.0" height="0.7" fill="#3f007d" opacity="0.04"/>
<rect x="325.3" y="68.1" width="2.3" height="0.7" fill="#3f007d" opacity="0.06"/>
<rect x="306.4" y="68.4" width="10.0" height="0.7" fill="#3f007d" opacity="0.04"/>
<rect x="333.2" y="67.8" width="2.7" height="0.7" fill="#3f007d" opacity="0.04"/>
<rect x="357.8" y="66.0" width="11.2" height="0.7" fill="#3f007d" opacity="0.03"/>
<rect x="281.0" y="67.4" width="6.3" height="0.7" fill="#3f007d" opacity="0.05"/>
<rect x="313.4" y="77.5" width="5.2" height="0.7" fill="#3f007d" opacity="0.03"/>
<rect x="354.9" y="70.8" width="3.3" height="0.7" fill="#3f007d" opacity="0.05"/>
<rect x="287.3" y="56.7" width="4.3" height="0.7" fill="#3f007d" opacity="0.05"/>
<rect x="302.2" y="63.8" width="8.2" height="0.7" fill="#3f007d" opacity="0.02"/>
<rect x="280.7" y="73.5" width="7.1" height="0.7" fill="#3f007d" opacity="0.03"/>
<rect x="318.4" y="60.9" width="6.4" height="0.7" fill="#3f007d" opacity="0.04"/>
<rect x="318.3" y="66.0" width="3.6" height="0.7" fill="#3f007d" opacity="0.03"/>
<rect x="328.4" y="71.2" width="7.3" height="0.7" fill="#3f007d" opacity="0.05"/>
<rect x="348.6" y="70.7" width="4.3" height="0.7" fill="#3f007d" opacity="0.05"/>
<rect x="352.8" y="75.4" width="5.2" height="0.7" fill="#3f007d" opacity="0.03"/>
<rect x="289.5" y="78.1" width="12.0" height="0.7" fill="#3f007d" opacity="0.06"/>
<rect x="291.4" y="59.4" width="9.3" height="0.7" fill="#3f007d" opacity="0.03"/>
<rect x="346.3" y="58.5" width="6.2" height="0.7" fill="#3f007d" opacity="0.05"/>
<rect x="306.6" y="59.2" width="8.9" height="0.7" fill="#3f007d" opacity="0.02"/>
<rect x="332.4" y="61.0" width="11.1" height="0.7" fill="#3f007d" opacity="0.06"/>
<rect x="316.1" y="58.9" width="9.6" height="0.7" fill="#3f007d" opacity="0.04"/>
<rect x="286.8" y="72.5" width="2.7" height="0.7" fill="#3f007d" opacity="0.02"/>
<rect x="320.3" y="57.1" width="7.1" height="0.7" fill="#3f007d" opacity="0.04"/>
<rect x="286.4" y="59.7" width="4.0" height="0.7" fill="#3f007d" opacity="0.05"/>
<rect x="355.0" y="79.7" width="3.0" height="0.7" fill="#3f007d" opacity="0.02"/>
<rect x="312.0" y="78.8" width="9.6" height="0.7" fill="#3f007d" opacity="0.03"/>
<rect x="307.6" y="81.8" width="3.7" height="0.8" fill="#3f007d" opacity="0.06"/>
<rect x="314.8" y="81.8" width="3.6" height="0.8" fill="#3f007d" opacity="0.11"/>
<rect x="306.2" y="81.8" width="21.9" height="0.8" fill="url(#pk)" opacity="0.37"/>
<rect x="314.6" y="82.6" width="3.3" height="0.8" fill="#3f007d" opacity="0.08"/>
<rect x="325.7" y="82.6" width="8.4" height="0.8" fill="#3f007d" opacity="0.04"/>
<rect x="314.3" y="82.6" width="8.9" height="0.8" fill="#3f007d" opacity="0.09"/>
<rect x="304.2" y="82.6" width="26.1" height="0.8" fill="url(#pk)" opacity="0.26"/>
<rect x="314.2" y="83.4" width="9.3" height="0.8" fill="#3f007d" opacity="0.09"/>
<rect x="309.9" y="83.4" width="8.2" height="0.8" fill="#3f007d" opacity="0.09"/>
<rect x="306.6" y="83.4" width="21.4" height="0.8" fill="url(#pk)" opacity="0.23"/>
<rect x="311.7" y="84.2" width="3.5" height="0.8" fill="#3f007d" opacity="0.04"/>
<rect x="320.2" y="84.2" width="3.5" height="0.8" fill="#3f007d" opacity="0.08"/>
<rect x="312.2" y="84.2" width="9.1" height="0.8" fill="#3f007d" opacity="0.11"/>
<rect x="306.2" y="84.2" width="25.2" height="0.8" fill="url(#pk)" opacity="0.21"/>
<rect x="309.7" y="85.0" width="18.6" height="0.8" fill="url(#pk)" opacity="0.08"/>
<rect x="308.4" y="85.8" width="17.8" height="0.8" fill="url(#pk)" opacity="0.08"/>
<rect x="309.5" y="86.6" width="16.2" height="0.8" fill="url(#pk)" opacity="0.06"/>
<rect x="307.7" y="87.4" width="17.4" height="0.8" fill="url(#pk)" opacity="0.06"/>
<rect x="306.0" y="88.2" width="20.9" height="0.8" fill="url(#pk)" opacity="0.05"/>
<rect x="308.7" y="89.0" width="17.3" height="0.8" fill="url(#pk)" opacity="0.03"/>
<rect x="306.9" y="89.8" width="22.3" height="0.8" fill="url(#pk)" opacity="0.04"/>
<rect x="308.3" y="90.6" width="17.1" height="0.8" fill="url(#pk)" opacity="0.02"/>
<rect x="307.5" y="91.4" width="19.7" height="0.8" fill="url(#pk)" opacity="0.03"/>
<rect x="305.2" y="92.2" width="22.4" height="0.8" fill="url(#pk)" opacity="0.03"/>
<rect x="307.6" y="93.0" width="20.2" height="0.8" fill="url(#pk)" opacity="0.03"/>
<rect x="305.8" y="93.8" width="22.9" height="0.8" fill="url(#pk)" opacity="0.03"/>
<rect x="310.3" y="94.6" width="17.4" height="0.8" fill="url(#pk)" opacity="0.04"/>
<rect x="308.5" y="95.4" width="18.6" height="0.8" fill="url(#pk)" opacity="0.03"/>
<rect x="307.9" y="96.2" width="18.0" height="0.8" fill="url(#pk)" opacity="0.02"/>
<rect x="309.6" y="97.0" width="16.2" height="0.8" fill="url(#pk)" opacity="0.02"/>
<rect x="311.0" y="97.8" width="15.6" height="0.8" fill="url(#pk)" opacity="0.02"/>
<rect x="306.3" y="98.6" width="19.6" height="0.8" fill="url(#pk)" opacity="0.03"/>
<rect x="309.0" y="99.4" width="17.9" height="0.8" fill="url(#pk)" opacity="0.03"/>
<rect x="306.9" y="100.2" width="18.6" height="0.8" fill="url(#pk)" opacity="0.02"/>
<rect x="307.8" y="101.8" width="18.4" height="0.8" fill="url(#pk)" opacity="0.02"/>
<rect x="311.1" y="102.6" width="14.1" height="0.8" fill="url(#pk)" opacity="0.03"/>
<rect x="307.0" y="105.0" width="19.0" height="0.8" fill="url(#pk)" opacity="0.02"/>
<rect x="311.4" y="105.8" width="13.6" height="0.8" fill="url(#pk)" opacity="0.03"/>
<rect x="353.1" y="101.5" width="5.2" height="0.7" fill="#3f007d" opacity="0.04"/>
<rect x="352.8" y="117.5" width="8.9" height="0.7" fill="#3f007d" opacity="0.03"/>
<rect x="361.1" y="113.6" width="6.6" height="0.7" fill="#3f007d" opacity="0.03"/>
<rect x="336.8" y="139.8" width="7.2" height="0.7" fill="#3f007d" opacity="0.02"/>
<rect x="271.5" y="131.4" width="8.8" height="0.7" fill="#3f007d" opacity="0.04"/>
<rect x="337.6" y="129.5" width="5.7" height="0.7" fill="#3f007d" opacity="0.04"/>
<rect x="324.0" y="91.2" width="3.8" height="0.7" fill="#3f007d" opacity="0.02"/>
<rect x="348.4" y="109.1" width="10.1" height="0.7" fill="#3f007d" opacity="0.03"/>
<rect x="284.0" y="85.4" width="5.0" height="0.7" fill="#3f007d" opacity="0.02"/>
<rect x="308.4" y="132.2" width="7.8" height="0.7" fill="#3f007d" opacity="0.03"/>
<rect x="300.2" y="114.5" width="4.7" height="0.7" fill="#3f007d" opacity="0.02"/>
<rect x="271.7" y="100.7" width="8.5" height="0.7" fill="#3f007d" opacity="0.02"/>
<rect x="308.3" y="130.7" width="9.1" height="0.7" fill="#3f007d" opacity="0.04"/>
<rect x="300.6" y="136.2" width="6.6" height="0.7" fill="#3f007d" opacity="0.03"/>
<rect x="300.1" y="130.2" width="3.4" height="0.7" fill="#3f007d" opacity="0.04"/>
<rect x="276.0" y="130.0" width="8.2" height="0.7" fill="#3f007d" opacity="0.02"/>
<rect x="360.5" y="127.2" width="5.5" height="0.7" fill="#3f007d" opacity="0.02"/>
<rect x="277.6" y="104.5" width="6.6" height="0.7" fill="#3f007d" opacity="0.04"/>
<rect x="302.8" y="83.4" width="2.1" height="0.7" fill="#3f007d" opacity="0.02"/>
<rect x="354.0" y="137.1" width="4.5" height="0.7" fill="#3f007d" opacity="0.03"/>
<rect x="332.6" y="119.9" width="5.2" height="0.7" fill="#3f007d" opacity="0.04"/>
<rect x="294.6" y="113.5" width="10.9" height="0.7" fill="#3f007d" opacity="0.04"/>
<rect x="297.4" y="125.6" width="3.6" height="0.7" fill="#3f007d" opacity="0.06"/>
<rect x="339.0" y="136.4" width="2.2" height="0.7" fill="#3f007d" opacity="0.04"/>
<rect x="298.2" y="129.8" width="4.0" height="0.7" fill="#3f007d" opacity="0.03"/>
<rect x="324.8" y="117.1" width="6.7" height="0.7" fill="#3f007d" opacity="0.04"/>
<rect x="352.0" y="108.3" width="6.0" height="0.7" fill="#3f007d" opacity="0.06"/>
<rect x="327.3" y="138.0" width="11.4" height="0.7" fill="#3f007d" opacity="0.04"/>
<rect x="314.1" y="132.9" width="6.0" height="0.7" fill="#3f007d" opacity="0.06"/>
<rect x="340.7" y="121.4" width="2.9" height="0.7" fill="#3f007d" opacity="0.05"/>
<rect x="289.4" y="105.8" width="3.3" height="0.7" fill="#3f007d" opacity="0.05"/>
<rect x="342.8" y="140.3" width="9.7" height="0.7" fill="#3f007d" opacity="0.05"/>
<rect x="354.8" y="85.4" width="10.9" height="0.7" fill="#3f007d" opacity="0.05"/>
<rect x="310.9" y="136.0" width="4.5" height="0.7" fill="#3f007d" opacity="0.04"/>
<rect x="307.8" y="134.2" width="9.7" height="0.7" fill="#3f007d" opacity="0.03"/>
<rect x="344.2" y="136.2" width="3.3" height="0.7" fill="#3f007d" opacity="0.05"/>
<rect x="317.0" y="118.9" width="2.5" height="0.7" fill="#3f007d" opacity="0.04"/>
<rect x="288.2" y="92.6" width="11.2" height="0.7" fill="#3f007d" opacity="0.03"/>
<rect x="301.8" y="89.6" width="8.1" height="0.7" fill="#3f007d" opacity="0.04"/>
<rect x="333.5" y="135.1" width="2.8" height="0.7" fill="#3f007d" opacity="0.05"/>
<rect x="316.1" y="114.4" width="2.2" height="0.7" fill="#3f007d" opacity="0.03"/>
<rect x="332.4" y="93.4" width="9.8" height="0.7" fill="#3f007d" opacity="0.04"/>
<rect x="307.5" y="84.1" width="6.9" height="0.7" fill="#3f007d" opacity="0.06"/>
<rect x="298.5" y="139.5" width="6.1" height="0.7" fill="#3f007d" opacity="0.04"/>
<rect x="331.0" y="141.5" width="2.7" height="0.7" fill="#3f007d" opacity="0.02"/>
<rect x="331.1" y="90.3" width="8.8" height="0.7" fill="#3f007d" opacity="0.05"/>
<rect x="280.6" y="128.8" width="6.5" height="0.7" fill="#3f007d" opacity="0.05"/>
<rect x="313.3" y="124.5" width="4.9" height="0.7" fill="#3f007d" opacity="0.02"/>
<rect x="348.5" y="128.1" width="10.4" height="0.7" fill="#3f007d" opacity="0.05"/>
<rect x="283.4" y="135.8" width="8.3" height="0.7" fill="#3f007d" opacity="0.06"/>
<rect x="357.6" y="126.7" width="9.5" height="0.7" fill="#3f007d" opacity="0.04"/>
<rect x="286.8" y="87.1" width="5.8" height="0.7" fill="#3f007d" opacity="0.02"/>
<rect x="294.6" y="100.4" width="6.7" height="0.7" fill="#3f007d" opacity="0.05"/>
<rect x="304.7" y="108.6" width="3.0" height="0.7" fill="#3f007d" opacity="0.04"/>
<rect x="327.6" y="89.8" width="3.8" height="0.7" fill="#3f007d" opacity="0.03"/>
<rect x="312.1" y="84.1" width="9.0" height="0.7" fill="#3f007d" opacity="0.02"/>
<rect x="360.6" y="83.8" width="6.3" height="0.7" fill="#3f007d" opacity="0.05"/>
<rect x="345.5" y="102.3" width="11.3" height="0.7" fill="#3f007d" opacity="0.03"/>
<rect x="283.0" y="94.2" width="8.9" height="0.7" fill="#3f007d" opacity="0.04"/>
<rect x="326.9" y="137.0" width="9.3" height="0.7" fill="#3f007d" opacity="0.04"/>
<rect x="342.3" y="100.9" width="4.5" height="0.7" fill="#3f007d" opacity="0.06"/>
<rect x="293.4" y="113.6" width="3.9" height="0.7" fill="#3f007d" opacity="0.03"/>
<rect x="320.8" y="108.3" width="4.0" height="0.7" fill="#3f007d" opacity="0.03"/>
<rect x="278.8" y="99.4" width="9.1" height="0.7" fill="#3f007d" opacity="0.03"/>
<rect x="296.9" y="114.1" width="4.3" height="0.7" fill="#3f007d" opacity="0.04"/>
<rect x="322.4" y="112.6" width="4.0" height="0.7" fill="#3f007d" opacity="0.06"/>
<rect x="334.7" y="141.6" width="11.4" height="0.7" fill="#3f007d" opacity="0.04"/>
<rect x="330.3" y="83.5" width="9.8" height="0.7" fill="#3f007d" opacity="0.03"/>
<rect x="307.9" y="110.5" width="5.3" height="0.7" fill="#3f007d" opacity="0.02"/>
<rect x="293.9" y="134.1" width="10.8" height="0.7" fill="#3f007d" opacity="0.04"/>
<rect x="291.4" y="125.5" width="7.7" height="0.7" fill="#3f007d" opacity="0.04"/>
<rect x="353.9" y="85.7" width="3.7" height="0.7" fill="#3f007d" opacity="0.05"/>
<rect x="300.3" y="135.5" width="3.5" height="0.7" fill="#3f007d" opacity="0.06"/>
<rect x="332.7" y="82.1" width="5.6" height="0.7" fill="#3f007d" opacity="0.05"/>
<rect x="284.6" y="103.6" width="8.0" height="0.7" fill="#3f007d" opacity="0.05"/>
<rect x="306.6" y="109.1" width="9.8" height="0.7" fill="#3f007d" opacity="0.06"/>
<rect x="282.1" y="141.6" width="9.6" height="0.7" fill="#3f007d" opacity="0.05"/>
<rect x="326.2" y="136.1" width="8.4" height="0.7" fill="#3f007d" opacity="0.05"/>
<rect x="307.4" y="91.4" width="2.3" height="0.7" fill="#3f007d" opacity="0.04"/>
<rect x="306.8" y="89.0" width="5.4" height="0.7" fill="#3f007d" opacity="0.03"/>
<rect x="355.5" y="96.5" width="2.5" height="0.7" fill="#3f007d" opacity="0.05"/>
<rect x="342.1" y="125.1" width="6.0" height="0.7" fill="#3f007d" opacity="0.04"/>
<rect x="301.3" y="88.0" width="11.0" height="0.7" fill="#3f007d" opacity="0.06"/>
<rect x="306.9" y="115.7" width="4.8" height="0.7" fill="#3f007d" opacity="0.06"/>
<rect x="353.1" y="109.6" width="8.9" height="0.7" fill="#3f007d" opacity="0.05"/>
<rect x="279.9" y="88.9" width="11.4" height="0.7" fill="#3f007d" opacity="0.03"/>
<rect x="270.4" y="143.6" width="93.4" height="0.8" fill="url(#pk)" opacity="0.06"/>
<rect x="316.6" y="143.6" width="9.2" height="0.8" fill="#3f007d" opacity="0.16"/>
<rect x="303.9" y="143.6" width="4.4" height="0.8" fill="#3f007d" opacity="0.10"/>
<rect x="308.2" y="143.6" width="2.6" height="0.8" fill="#3f007d" opacity="0.07"/>
<rect x="298.8" y="143.6" width="37.2" height="0.8" fill="url(#pk)" opacity="0.41"/>
<rect x="277.9" y="144.4" width="84.0" height="0.8" fill="url(#pk)" opacity="0.06"/>
<rect x="301.5" y="144.4" width="9.5" height="0.8" fill="#3f007d" opacity="0.11"/>
<rect x="301.2" y="144.4" width="35.8" height="0.8" fill="url(#pk)" opacity="0.36"/>
<rect x="281.8" y="145.2" width="77.1" height="0.8" fill="url(#pk)" opacity="0.10"/>
<rect x="311.7" y="145.2" width="3.8" height="0.8" fill="#3f007d" opacity="0.15"/>
<rect x="296.0" y="145.2" width="43.4" height="0.8" fill="url(#pk)" opacity="0.37"/>
<rect x="289.3" y="146.0" width="61.5" height="0.8" fill="url(#pk)" opacity="0.15"/>
<rect x="320.1" y="146.0" width="4.4" height="0.8" fill="#3f007d" opacity="0.09"/>
<rect x="316.3" y="146.0" width="2.5" height="0.8" fill="#3f007d" opacity="0.17"/>
<rect x="304.3" y="146.0" width="28.4" height="0.8" fill="url(#pk)" opacity="0.37"/>
<rect x="285.2" y="146.8" width="57.5" height="0.8" fill="url(#pk)" opacity="0.11"/>
<rect x="309.8" y="146.8" width="9.5" height="0.8" fill="#3f007d" opacity="0.11"/>
<rect x="322.6" y="146.8" width="5.8" height="0.8" fill="#3f007d" opacity="0.04"/>
<rect x="300.9" y="146.8" width="32.1" height="0.8" fill="url(#pk)" opacity="0.23"/>
<rect x="277.3" y="147.6" width="80.9" height="0.8" fill="url(#pk)" opacity="0.06"/>
<rect x="326.5" y="147.6" width="7.6" height="0.8" fill="#3f007d" opacity="0.07"/>
<rect x="315.7" y="147.6" width="6.3" height="0.8" fill="#3f007d" opacity="0.07"/>
<rect x="298.8" y="147.6" width="40.2" height="0.8" fill="url(#pk)" opacity="0.30"/>
<rect x="285.9" y="148.4" width="78.3" height="0.8" fill="url(#pk)" opacity="0.06"/>
<rect x="324.5" y="148.4" width="3.1" height="0.8" fill="#3f007d" opacity="0.08"/>
<rect x="303.7" y="148.4" width="9.5" height="0.8" fill="#3f007d" opacity="0.06"/>
<rect x="298.8" y="148.4" width="35.0" height="0.8" fill="url(#pk)" opacity="0.27"/>
<rect x="286.8" y="149.2" width="57.9" height="0.8" fill="url(#pk)" opacity="0.08"/>
<rect x="302.5" y="149.2" width="28.5" height="0.8" fill="url(#pk)" opacity="0.14"/>
<rect x="289.2" y="150.0" width="69.8" height="0.8" fill="url(#pk)" opacity="0.05"/>
<rect x="291.4" y="150.0" width="9.2" height="0.8" fill="#3f007d" opacity="0.01"/>
<rect x="313.5" y="150.0" width="3.8" height="0.8" fill="#3f007d" opacity="0.03"/>
<rect x="311.9" y="150.0" width="2.6" height="0.8" fill="#3f007d" opacity="0.08"/>
<rect x="298.8" y="150.0" width="35.0" height="0.8" fill="url(#pk)" opacity="0.18"/>
<rect x="286.4" y="150.8" width="64.5" height="0.8" fill="url(#pk)" opacity="0.05"/>
<rect x="311.3" y="150.8" width="2.7" height="0.8" fill="#3f007d" opacity="0.04"/>
<rect x="315.6" y="150.8" width="4.2" height="0.8" fill="#3f007d" opacity="0.06"/>
<rect x="312.0" y="150.8" width="3.5" height="0.8" fill="#3f007d" opacity="0.08"/>
<rect x="307.9" y="150.8" width="22.3" height="0.8" fill="url(#pk)" opacity="0.19"/>
<rect x="295.4" y="151.6" width="58.5" height="0.8" fill="url(#pk)" opacity="0.04"/>
<rect x="303.5" y="151.6" width="28.1" height="0.8" fill="url(#pk)" opacity="0.08"/>
<rect x="293.4" y="152.4" width="56.2" height="0.8" fill="url(#pk)" opacity="0.02"/>
<rect x="304.1" y="152.4" width="28.5" height="0.8" fill="url(#pk)" opacity="0.09"/>
<rect x="288.3" y="153.2" width="63.0" height="0.8" fill="url(#pk)" opacity="0.01"/>
<rect x="305.4" y="153.2" width="26.9" height="0.8" fill="url(#pk)" opacity="0.10"/>
<rect x="301.7" y="154.0" width="29.6" height="0.8" fill="url(#pk)" opacity="0.07"/>
<rect x="306.5" y="154.8" width="21.8" height="0.8" fill="url(#pk)" opacity="0.09"/>
<rect x="304.6" y="155.6" width="27.7" height="0.8" fill="url(#pk)" opacity="0.09"/>
<rect x="305.1" y="156.4" width="23.3" height="0.8" fill="url(#pk)" opacity="0.06"/>
<rect x="304.9" y="157.2" width="22.5" height="0.8" fill="url(#pk)" opacity="0.07"/>
<rect x="305.7" y="158.0" width="24.1" height="0.8" fill="url(#pk)" opacity="0.06"/>
<rect x="307.7" y="158.8" width="17.6" height="0.8" fill="url(#pk)" opacity="0.07"/>
<rect x="307.3" y="159.6" width="20.1" height="0.8" fill="url(#pk)" opacity="0.03"/>
<rect x="309.9" y="160.4" width="17.1" height="0.8" fill="url(#pk)" opacity="0.04"/>
<rect x="306.5" y="161.2" width="22.5" height="0.8" fill="url(#pk)" opacity="0.03"/>
<rect x="306.5" y="162.0" width="20.6" height="0.8" fill="url(#pk)" opacity="0.04"/>
<rect x="308.4" y="162.8" width="15.6" height="0.8" fill="url(#pk)" opacity="0.03"/>
<rect x="308.8" y="163.6" width="17.6" height="0.8" fill="url(#pk)" opacity="0.03"/>
<rect x="308.0" y="164.4" width="16.6" height="0.8" fill="url(#pk)" opacity="0.03"/>
<rect x="310.4" y="165.2" width="12.8" height="0.8" fill="url(#pk)" opacity="0.04"/>
<rect x="310.5" y="166.0" width="16.1" height="0.8" fill="url(#pk)" opacity="0.02"/>
<rect x="311.8" y="166.8" width="11.0" height="0.8" fill="url(#pk)" opacity="0.04"/>
<rect x="313.2" y="167.6" width="11.6" height="0.8" fill="url(#pk)" opacity="0.02"/>
<rect x="308.8" y="169.2" width="15.4" height="0.8" fill="url(#pk)" opacity="0.03"/>
<rect x="309.5" y="170.0" width="13.4" height="0.8" fill="url(#pk)" opacity="0.02"/>
<rect x="312.8" y="174.0" width="11.0" height="0.8" fill="url(#pk)" opacity="0.03"/>
<rect x="313.5" y="175.6" width="7.9" height="0.8" fill="url(#pk)" opacity="0.02"/>
<rect x="313.0" y="176.4" width="8.2" height="0.8" fill="url(#pk)" opacity="0.03"/>
<rect x="311.7" y="177.2" width="9.0" height="0.8" fill="url(#pk)" opacity="0.03"/>
<rect x="349.3" y="168.2" width="7.9" height="0.7" fill="#3f007d" opacity="0.06"/>
<rect x="305.6" y="160.0" width="10.4" height="0.7" fill="#3f007d" opacity="0.04"/>
<rect x="289.2" y="171.3" width="5.5" height="0.7" fill="#3f007d" opacity="0.03"/>
<rect x="284.5" y="163.1" width="4.0" height="0.7" fill="#3f007d" opacity="0.03"/>
<rect x="297.8" y="160.2" width="6.5" height="0.7" fill="#3f007d" opacity="0.06"/>
<rect x="349.1" y="167.7" width="4.0" height="0.7" fill="#3f007d" opacity="0.04"/>
<rect x="333.3" y="146.3" width="5.6" height="0.7" fill="#3f007d" opacity="0.03"/>
<rect x="286.1" y="144.4" width="4.6" height="0.7" fill="#3f007d" opacity="0.04"/>
<rect x="335.5" y="176.3" width="4.7" height="0.7" fill="#3f007d" opacity="0.03"/>
<rect x="355.9" y="149.1" width="5.6" height="0.7" fill="#3f007d" opacity="0.05"/>
<rect x="353.2" y="169.2" width="2.2" height="0.7" fill="#3f007d" opacity="0.03"/>
<rect x="277.0" y="157.3" width="10.8" height="0.7" fill="#3f007d" opacity="0.03"/>
<rect x="317.3" y="170.9" width="2.5" height="0.7" fill="#3f007d" opacity="0.04"/>
<rect x="273.1" y="152.1" width="3.5" height="0.7" fill="#3f007d" opacity="0.04"/>
<rect x="298.2" y="144.8" width="6.2" height="0.7" fill="#3f007d" opacity="0.04"/>
<rect x="334.7" y="148.5" width="4.6" height="0.7" fill="#3f007d" opacity="0.05"/>
<rect x="282.9" y="167.2" width="4.0" height="0.7" fill="#3f007d" opacity="0.03"/>
<rect x="306.8" y="168.9" width="5.9" height="0.7" fill="#3f007d" opacity="0.05"/>
<rect x="296.3" y="151.7" width="5.4" height="0.7" fill="#3f007d" opacity="0.03"/>
<rect x="271.6" y="145.1" width="8.3" height="0.7" fill="#3f007d" opacity="0.04"/>
<rect x="359.5" y="172.2" width="5.0" height="0.7" fill="#3f007d" opacity="0.05"/>
<rect x="289.3" y="176.1" width="8.9" height="0.7" fill="#3f007d" opacity="0.05"/>
<rect x="349.6" y="177.4" width="4.3" height="0.7" fill="#3f007d" opacity="0.05"/>
<rect x="308.9" y="146.9" width="5.9" height="0.7" fill="#3f007d" opacity="0.02"/>
<rect x="299.7" y="157.2" width="7.0" height="0.7" fill="#3f007d" opacity="0.03"/>
<rect x="306.5" y="149.3" width="6.8" height="0.7" fill="#3f007d" opacity="0.03"/>
<rect x="291.5" y="167.2" width="2.9" height="0.7" fill="#3f007d" opacity="0.03"/>
<rect x="283.2" y="158.6" width="7.8" height="0.7" fill="#3f007d" opacity="0.05"/>
<rect x="334.1" y="163.2" width="2.2" height="0.7" fill="#3f007d" opacity="0.04"/>
<rect x="275.1" y="156.6" width="6.0" height="0.7" fill="#3f007d" opacity="0.02"/>
<rect x="323.5" y="161.2" width="6.7" height="0.7" fill="#3f007d" opacity="0.03"/>
<rect x="271.5" y="152.6" width="5.5" height="0.7" fill="#3f007d" opacity="0.06"/>
<rect x="293.5" y="163.7" width="8.7" height="0.7" fill="#3f007d" opacity="0.03"/>
<rect x="326.2" y="160.3" width="11.5" height="0.7" fill="#3f007d" opacity="0.03"/>
<rect x="356.5" y="164.0" width="9.7" height="0.7" fill="#3f007d" opacity="0.05"/>
<rect x="307.3" y="165.6" width="6.2" height="0.7" fill="#3f007d" opacity="0.03"/>
<rect x="350.7" y="173.0" width="5.8" height="0.7" fill="#3f007d" opacity="0.06"/>
<rect x="281.9" y="145.0" width="7.1" height="0.7" fill="#3f007d" opacity="0.03"/>
<rect x="359.7" y="156.4" width="3.5" height="0.7" fill="#3f007d" opacity="0.03"/>
<rect x="332.2" y="151.8" width="4.3" height="0.7" fill="#3f007d" opacity="0.02"/>
<rect x="305.7" y="162.9" width="4.4" height="0.7" fill="#3f007d" opacity="0.04"/>
<rect x="320.0" y="166.7" width="8.2" height="0.7" fill="#3f007d" opacity="0.04"/>
<rect x="358.9" y="173.0" width="5.3" height="0.7" fill="#3f007d" opacity="0.03"/>
<rect x="298.3" y="175.0" width="9.2" height="0.7" fill="#3f007d" opacity="0.05"/>
<rect x="358.5" y="167.9" width="10.2" height="0.7" fill="#3f007d" opacity="0.03"/>
<rect x="314.7" y="165.6" width="7.6" height="0.7" fill="#3f007d" opacity="0.03"/>
<rect x="338.6" y="153.8" width="7.3" height="0.7" fill="#3f007d" opacity="0.03"/>
<rect x="299.4" y="152.5" width="3.8" height="0.7" fill="#3f007d" opacity="0.04"/>
<rect x="275.1" y="148.1" width="2.7" height="0.7" fill="#3f007d" opacity="0.02"/>
<rect x="279.7" y="168.6" width="6.5" height="0.7" fill="#3f007d" opacity="0.05"/>
<rect x="284.3" y="160.7" width="10.7" height="0.7" fill="#3f007d" opacity="0.05"/>
<rect x="292.8" y="145.6" width="7.1" height="0.7" fill="#3f007d" opacity="0.05"/>
</svg>
<rect x="269.3" y="55.2" width="96.5" height="124.8" fill="none" stroke="#000" stroke-width="1.3"/>
<line x1="269.3" y1="80.9" x2="365.8" y2="80.9" stroke="#000" stroke-width="1.8"/>
<line x1="269.3" y1="142.7" x2="365.8" y2="142.7" stroke="#000" stroke-width="1.8"/>
<line x1="269.3" y1="180.0" x2="269.3" y2="183.0" stroke="#000" stroke-width="0.8"/>
<line x1="317.6" y1="180.0" x2="317.6" y2="183.0" stroke="#000" stroke-width="0.8"/>
<line x1="365.8" y1="180.0" x2="365.8" y2="183.0" stroke="#000" stroke-width="0.8"/>
<text x="269.1" y="193" font-size="8.2" text-anchor="start" fill="#000" >-10kb</text>
<text x="317.8" y="193" font-size="8.2" text-anchor="middle" fill="#000" >TSS</text>
<text x="364.9" y="193" font-size="8.2" text-anchor="end" fill="#000" >10kb</text>
<rect x="369.8" y="55.2" width="96.0" height="124.8" fill="#f8f7fb"/>
<svg x="369.8" y="55.2" width="96.0" height="124.8" viewBox="369.8 55.2 96.0 124.8" overflow="hidden">
<rect x="358.7" y="56.1" width="118.0" height="0.8" fill="url(#pk)" opacity="0.26"/>
<rect x="420.8" y="56.1" width="6.5" height="0.8" fill="#3f007d" opacity="0.16"/>
<rect x="405.0" y="56.1" width="9.9" height="0.8" fill="#3f007d" opacity="0.29"/>
<rect x="383.6" y="56.1" width="66.1" height="0.8" fill="url(#pk)" opacity="0.82"/>
<rect x="376.1" y="56.9" width="90.4" height="0.8" fill="url(#pk)" opacity="0.19"/>
<rect x="417.6" y="56.9" width="2.1" height="0.8" fill="#3f007d" opacity="0.38"/>
<rect x="420.3" y="56.9" width="9.5" height="0.8" fill="#3f007d" opacity="0.48"/>
<rect x="391.2" y="56.9" width="50.9" height="0.8" fill="url(#pk)" opacity="1.00"/>
<rect x="376.9" y="57.7" width="96.1" height="0.8" fill="url(#pk)" opacity="0.32"/>
<rect x="434.4" y="57.7" width="2.9" height="0.8" fill="#3f007d" opacity="0.11"/>
<rect x="390.5" y="57.7" width="53.3" height="0.8" fill="url(#pk)" opacity="1.00"/>
<rect x="369.2" y="58.5" width="89.9" height="0.8" fill="url(#pk)" opacity="0.13"/>
<rect x="420.5" y="58.5" width="8.8" height="0.8" fill="#3f007d" opacity="0.21"/>
<rect x="428.0" y="58.5" width="9.0" height="0.8" fill="#3f007d" opacity="0.33"/>
<rect x="422.5" y="58.5" width="3.8" height="0.8" fill="#3f007d" opacity="0.41"/>
<rect x="384.2" y="58.5" width="66.7" height="0.8" fill="url(#pk)" opacity="1.00"/>
<rect x="376.2" y="59.3" width="82.0" height="0.8" fill="url(#pk)" opacity="0.23"/>
<rect x="393.3" y="59.3" width="6.4" height="0.8" fill="#3f007d" opacity="0.16"/>
<rect x="392.2" y="59.3" width="53.5" height="0.8" fill="url(#pk)" opacity="0.65"/>
<rect x="380.1" y="60.1" width="81.1" height="0.8" fill="url(#pk)" opacity="0.22"/>
<rect x="420.5" y="60.1" width="7.0" height="0.8" fill="#3f007d" opacity="0.19"/>
<rect x="416.8" y="60.1" width="4.9" height="0.8" fill="#3f007d" opacity="0.20"/>
<rect x="396.0" y="60.1" width="40.9" height="0.8" fill="url(#pk)" opacity="0.85"/>
<rect x="380.7" y="60.9" width="70.6" height="0.8" fill="url(#pk)" opacity="0.08"/>
<rect x="430.8" y="60.9" width="3.1" height="0.8" fill="#3f007d" opacity="0.19"/>
<rect x="429.8" y="60.9" width="2.3" height="0.8" fill="#3f007d" opacity="0.13"/>
<rect x="389.5" y="60.9" width="56.9" height="0.8" fill="url(#pk)" opacity="0.57"/>
<rect x="369.1" y="61.7" width="95.5" height="0.8" fill="url(#pk)" opacity="0.07"/>
<rect x="412.6" y="61.7" width="9.5" height="0.8" fill="#3f007d" opacity="0.38"/>
<rect x="399.7" y="61.7" width="39.1" height="0.8" fill="url(#pk)" opacity="0.85"/>
<rect x="379.9" y="62.5" width="68.4" height="0.8" fill="url(#pk)" opacity="0.03"/>
<rect x="399.0" y="62.5" width="4.2" height="0.8" fill="#3f007d" opacity="0.08"/>
<rect x="392.5" y="62.5" width="51.0" height="0.8" fill="url(#pk)" opacity="0.73"/>
<rect x="413.2" y="63.3" width="2.5" height="0.8" fill="#3f007d" opacity="0.13"/>
<rect x="398.1" y="63.3" width="41.1" height="0.8" fill="url(#pk)" opacity="0.47"/>
<rect x="408.0" y="64.1" width="6.3" height="0.8" fill="#3f007d" opacity="0.18"/>
<rect x="413.8" y="64.1" width="8.4" height="0.8" fill="#3f007d" opacity="0.23"/>
<rect x="421.7" y="64.1" width="8.7" height="0.8" fill="#3f007d" opacity="0.13"/>
<rect x="401.6" y="64.1" width="34.8" height="0.8" fill="url(#pk)" opacity="0.55"/>
<rect x="413.0" y="64.9" width="3.8" height="0.8" fill="#3f007d" opacity="0.19"/>
<rect x="403.0" y="64.9" width="28.7" height="0.8" fill="url(#pk)" opacity="0.70"/>
<rect x="408.4" y="65.7" width="4.5" height="0.8" fill="#3f007d" opacity="0.10"/>
<rect x="406.8" y="65.7" width="7.2" height="0.8" fill="#3f007d" opacity="0.21"/>
<rect x="396.1" y="65.7" width="41.9" height="0.8" fill="url(#pk)" opacity="0.67"/>
<rect x="413.7" y="66.5" width="7.4" height="0.8" fill="#3f007d" opacity="0.09"/>
<rect x="402.1" y="66.5" width="29.0" height="0.8" fill="url(#pk)" opacity="0.44"/>
<rect x="408.2" y="67.3" width="2.2" height="0.8" fill="#3f007d" opacity="0.08"/>
<rect x="415.9" y="67.3" width="9.6" height="0.8" fill="#3f007d" opacity="0.16"/>
<rect x="403.4" y="67.3" width="30.3" height="0.8" fill="url(#pk)" opacity="0.38"/>
<rect x="414.6" y="68.1" width="8.0" height="0.8" fill="#3f007d" opacity="0.06"/>
<rect x="406.3" y="68.1" width="26.0" height="0.8" fill="url(#pk)" opacity="0.31"/>
<rect x="399.1" y="68.9" width="9.1" height="0.8" fill="#3f007d" opacity="0.10"/>
<rect x="398.5" y="68.9" width="36.1" height="0.8" fill="url(#pk)" opacity="0.44"/>
<rect x="413.7" y="69.7" width="8.2" height="0.8" fill="#3f007d" opacity="0.13"/>
<rect x="399.6" y="69.7" width="33.5" height="0.8" fill="url(#pk)" opacity="0.40"/>
<rect x="423.7" y="70.5" width="4.8" height="0.8" fill="#3f007d" opacity="0.10"/>
<rect x="416.9" y="70.5" width="7.7" height="0.8" fill="#3f007d" opacity="0.14"/>
<rect x="430.5" y="70.5" width="3.0" height="0.8" fill="#3f007d" opacity="0.07"/>
<rect x="404.5" y="70.5" width="28.2" height="0.8" fill="url(#pk)" opacity="0.48"/>
<rect x="412.4" y="71.3" width="6.0" height="0.8" fill="#3f007d" opacity="0.10"/>
<rect x="411.6" y="71.3" width="9.4" height="0.8" fill="#3f007d" opacity="0.12"/>
<rect x="405.6" y="71.3" width="24.1" height="0.8" fill="url(#pk)" opacity="0.37"/>
<rect x="412.8" y="72.1" width="9.5" height="0.8" fill="#3f007d" opacity="0.06"/>
<rect x="408.9" y="72.1" width="17.7" height="0.8" fill="url(#pk)" opacity="0.30"/>
<rect x="416.9" y="72.9" width="6.4" height="0.8" fill="#3f007d" opacity="0.08"/>
<rect x="418.5" y="72.9" width="9.7" height="0.8" fill="#3f007d" opacity="0.16"/>
<rect x="407.0" y="72.9" width="24.0" height="0.8" fill="url(#pk)" opacity="0.47"/>
<rect x="416.9" y="73.7" width="2.9" height="0.8" fill="#3f007d" opacity="0.04"/>
<rect x="413.8" y="73.7" width="4.0" height="0.8" fill="#3f007d" opacity="0.05"/>
<rect x="415.9" y="73.7" width="4.7" height="0.8" fill="#3f007d" opacity="0.07"/>
<rect x="408.9" y="73.7" width="16.8" height="0.8" fill="url(#pk)" opacity="0.22"/>
<rect x="416.8" y="74.5" width="3.6" height="0.8" fill="#3f007d" opacity="0.06"/>
<rect x="413.8" y="74.5" width="6.4" height="0.8" fill="#3f007d" opacity="0.10"/>
<rect x="410.8" y="74.5" width="14.0" height="0.8" fill="url(#pk)" opacity="0.23"/>
<rect x="412.4" y="75.3" width="8.2" height="0.8" fill="#3f007d" opacity="0.08"/>
<rect x="409.1" y="75.3" width="19.7" height="0.8" fill="url(#pk)" opacity="0.23"/>
<rect x="414.2" y="76.1" width="9.4" height="0.8" fill="#3f007d" opacity="0.15"/>
<rect x="418.3" y="76.1" width="3.8" height="0.8" fill="#3f007d" opacity="0.07"/>
<rect x="411.0" y="76.1" width="13.1" height="0.8" fill="url(#pk)" opacity="0.33"/>
<rect x="412.5" y="76.9" width="2.6" height="0.8" fill="#3f007d" opacity="0.08"/>
<rect x="412.3" y="76.9" width="3.7" height="0.8" fill="#3f007d" opacity="0.07"/>
<rect x="418.9" y="76.9" width="3.6" height="0.8" fill="#3f007d" opacity="0.08"/>
<rect x="412.0" y="76.9" width="11.2" height="0.8" fill="url(#pk)" opacity="0.27"/>
<rect x="411.1" y="77.7" width="12.4" height="0.8" fill="url(#pk)" opacity="0.15"/>
<rect x="413.2" y="78.5" width="3.7" height="0.8" fill="#3f007d" opacity="0.04"/>
<rect x="414.6" y="78.5" width="6.6" height="0.8" fill="#3f007d" opacity="0.04"/>
<rect x="414.2" y="78.5" width="4.2" height="0.8" fill="#3f007d" opacity="0.05"/>
<rect x="411.8" y="78.5" width="11.0" height="0.8" fill="url(#pk)" opacity="0.24"/>
<rect x="417.4" y="79.3" width="7.9" height="0.8" fill="#3f007d" opacity="0.04"/>
<rect x="412.1" y="79.3" width="10.3" height="0.8" fill="url(#pk)" opacity="0.23"/>
<rect x="415.6" y="80.1" width="4.1" height="0.8" fill="#3f007d" opacity="0.05"/>
<rect x="415.1" y="80.1" width="3.1" height="0.8" fill="#3f007d" opacity="0.03"/>
<rect x="415.4" y="80.1" width="2.8" height="0.8" fill="#3f007d" opacity="0.06"/>
<rect x="413.2" y="80.1" width="8.7" height="0.8" fill="url(#pk)" opacity="0.18"/>
<rect x="380.6" y="67.9" width="3.2" height="0.7" fill="#3f007d" opacity="0.06"/>
<rect x="377.0" y="78.8" width="8.5" height="0.7" fill="#3f007d" opacity="0.03"/>
<rect x="388.1" y="67.5" width="6.1" height="0.7" fill="#3f007d" opacity="0.03"/>
<rect x="403.6" y="71.4" width="5.3" height="0.7" fill="#3f007d" opacity="0.04"/>
<rect x="394.4" y="71.8" width="8.6" height="0.7" fill="#3f007d" opacity="0.02"/>
<rect x="371.2" y="70.7" width="5.7" height="0.7" fill="#3f007d" opacity="0.04"/>
<rect x="405.5" y="76.7" width="4.8" height="0.7" fill="#3f007d" opacity="0.02"/>
<rect x="440.6" y="77.1" width="3.0" height="0.7" fill="#3f007d" opacity="0.05"/>
<rect x="389.0" y="66.9" width="9.9" height="0.7" fill="#3f007d" opacity="0.02"/>
<rect x="424.1" y="56.9" width="9.0" height="0.7" fill="#3f007d" opacity="0.06"/>
<rect x="450.1" y="75.5" width="8.7" height="0.7" fill="#3f007d" opacity="0.03"/>
<rect x="385.5" y="57.9" width="7.1" height="0.7" fill="#3f007d" opacity="0.04"/>
<rect x="375.4" y="71.7" width="4.2" height="0.7" fill="#3f007d" opacity="0.02"/>
<rect x="409.7" y="74.9" width="4.3" height="0.7" fill="#3f007d" opacity="0.04"/>
<rect x="375.1" y="58.8" width="12.0" height="0.7" fill="#3f007d" opacity="0.05"/>
<rect x="455.5" y="74.9" width="7.2" height="0.7" fill="#3f007d" opacity="0.04"/>
<rect x="446.2" y="68.0" width="7.2" height="0.7" fill="#3f007d" opacity="0.02"/>
<rect x="370.1" y="75.0" width="11.6" height="0.7" fill="#3f007d" opacity="0.05"/>
<rect x="453.2" y="74.8" width="8.6" height="0.7" fill="#3f007d" opacity="0.06"/>
<rect x="451.1" y="67.4" width="6.3" height="0.7" fill="#3f007d" opacity="0.03"/>
<rect x="403.5" y="65.0" width="10.3" height="0.7" fill="#3f007d" opacity="0.06"/>
<rect x="407.8" y="58.8" width="7.6" height="0.7" fill="#3f007d" opacity="0.06"/>
<rect x="378.5" y="74.6" width="12.0" height="0.7" fill="#3f007d" opacity="0.04"/>
<rect x="391.7" y="57.8" width="8.6" height="0.7" fill="#3f007d" opacity="0.04"/>
<rect x="402.3" y="63.5" width="4.5" height="0.7" fill="#3f007d" opacity="0.04"/>
<rect x="460.9" y="67.3" width="7.9" height="0.7" fill="#3f007d" opacity="0.03"/>
<rect x="382.5" y="58.7" width="11.0" height="0.7" fill="#3f007d" opacity="0.05"/>
<rect x="383.0" y="68.1" width="7.6" height="0.7" fill="#3f007d" opacity="0.03"/>
<rect x="458.4" y="70.8" width="9.1" height="0.7" fill="#3f007d" opacity="0.02"/>
<rect x="390.9" y="75.7" width="10.0" height="0.7" fill="#3f007d" opacity="0.02"/>
<rect x="404.4" y="73.7" width="4.9" height="0.7" fill="#3f007d" opacity="0.04"/>
<rect x="415.2" y="65.8" width="11.1" height="0.7" fill="#3f007d" opacity="0.04"/>
<rect x="441.2" y="74.3" width="5.9" height="0.7" fill="#3f007d" opacity="0.03"/>
<rect x="419.2" y="61.3" width="8.6" height="0.7" fill="#3f007d" opacity="0.04"/>
<rect x="388.5" y="77.4" width="11.9" height="0.7" fill="#3f007d" opacity="0.04"/>
<rect x="409.8" y="81.8" width="7.9" height="0.8" fill="#3f007d" opacity="0.09"/>
<rect x="403.9" y="81.8" width="27.0" height="0.8" fill="url(#pk)" opacity="0.39"/>
<rect x="416.7" y="82.6" width="7.2" height="0.8" fill="#3f007d" opacity="0.10"/>
<rect x="417.7" y="82.6" width="6.2" height="0.8" fill="#3f007d" opacity="0.07"/>
<rect x="406.8" y="82.6" width="21.3" height="0.8" fill="url(#pk)" opacity="0.38"/>
<rect x="419.6" y="83.4" width="2.8" height="0.8" fill="#3f007d" opacity="0.07"/>
<rect x="413.4" y="83.4" width="3.8" height="0.8" fill="#3f007d" opacity="0.10"/>
<rect x="420.7" y="83.4" width="5.9" height="0.8" fill="#3f007d" opacity="0.03"/>
<rect x="405.1" y="83.4" width="24.8" height="0.8" fill="url(#pk)" opacity="0.26"/>
<rect x="411.3" y="84.2" width="9.7" height="0.8" fill="#3f007d" opacity="0.12"/>
<rect x="415.5" y="84.2" width="8.7" height="0.8" fill="#3f007d" opacity="0.07"/>
<rect x="416.2" y="84.2" width="3.5" height="0.8" fill="#3f007d" opacity="0.06"/>
<rect x="410.6" y="84.2" width="15.9" height="0.8" fill="url(#pk)" opacity="0.32"/>
<rect x="413.9" y="85.0" width="4.0" height="0.8" fill="#3f007d" opacity="0.04"/>
<rect x="406.4" y="85.0" width="24.7" height="0.8" fill="url(#pk)" opacity="0.16"/>
<rect x="405.3" y="85.8" width="24.5" height="0.8" fill="url(#pk)" opacity="0.13"/>
<rect x="405.4" y="86.6" width="22.4" height="0.8" fill="url(#pk)" opacity="0.09"/>
<rect x="405.4" y="87.4" width="23.7" height="0.8" fill="url(#pk)" opacity="0.13"/>
<rect x="407.0" y="88.2" width="23.3" height="0.8" fill="url(#pk)" opacity="0.07"/>
<rect x="410.8" y="89.0" width="15.5" height="0.8" fill="url(#pk)" opacity="0.07"/>
<rect x="407.5" y="89.8" width="20.9" height="0.8" fill="url(#pk)" opacity="0.04"/>
<rect x="405.9" y="90.6" width="20.8" height="0.8" fill="url(#pk)" opacity="0.07"/>
<rect x="407.2" y="91.4" width="21.7" height="0.8" fill="url(#pk)" opacity="0.06"/>
<rect x="406.9" y="92.2" width="21.3" height="0.8" fill="url(#pk)" opacity="0.03"/>
<rect x="407.3" y="93.0" width="23.4" height="0.8" fill="url(#pk)" opacity="0.05"/>
<rect x="407.0" y="93.8" width="21.3" height="0.8" fill="url(#pk)" opacity="0.03"/>
<rect x="409.0" y="94.6" width="17.3" height="0.8" fill="url(#pk)" opacity="0.05"/>
<rect x="409.9" y="95.4" width="14.8" height="0.8" fill="url(#pk)" opacity="0.03"/>
<rect x="409.6" y="96.2" width="14.2" height="0.8" fill="url(#pk)" opacity="0.04"/>
<rect x="408.3" y="97.0" width="19.3" height="0.8" fill="url(#pk)" opacity="0.04"/>
<rect x="410.1" y="97.8" width="14.3" height="0.8" fill="url(#pk)" opacity="0.02"/>
<rect x="410.1" y="98.6" width="17.9" height="0.8" fill="url(#pk)" opacity="0.04"/>
<rect x="409.7" y="99.4" width="16.5" height="0.8" fill="url(#pk)" opacity="0.02"/>
<rect x="412.0" y="100.2" width="13.8" height="0.8" fill="url(#pk)" opacity="0.04"/>
<rect x="411.2" y="101.0" width="12.9" height="0.8" fill="url(#pk)" opacity="0.03"/>
<rect x="410.1" y="101.8" width="18.0" height="0.8" fill="url(#pk)" opacity="0.03"/>
<rect x="408.5" y="102.6" width="17.9" height="0.8" fill="url(#pk)" opacity="0.03"/>
<rect x="412.0" y="103.4" width="13.0" height="0.8" fill="url(#pk)" opacity="0.03"/>
<rect x="408.6" y="104.2" width="16.7" height="0.8" fill="url(#pk)" opacity="0.02"/>
<rect x="410.8" y="105.0" width="13.1" height="0.8" fill="url(#pk)" opacity="0.02"/>
<rect x="409.6" y="105.8" width="15.7" height="0.8" fill="url(#pk)" opacity="0.03"/>
<rect x="408.4" y="106.6" width="18.0" height="0.8" fill="url(#pk)" opacity="0.03"/>
<rect x="411.7" y="107.4" width="15.0" height="0.8" fill="url(#pk)" opacity="0.03"/>
<rect x="408.8" y="108.2" width="16.4" height="0.8" fill="url(#pk)" opacity="0.02"/>
<rect x="410.1" y="109.8" width="12.8" height="0.8" fill="url(#pk)" opacity="0.03"/>
<rect x="411.7" y="110.6" width="13.4" height="0.8" fill="url(#pk)" opacity="0.03"/>
<rect x="410.5" y="111.4" width="14.9" height="0.8" fill="url(#pk)" opacity="0.02"/>
<rect x="409.3" y="112.2" width="16.7" height="0.8" fill="url(#pk)" opacity="0.03"/>
<rect x="412.6" y="113.0" width="11.9" height="0.8" fill="url(#pk)" opacity="0.02"/>
<rect x="413.3" y="114.6" width="10.2" height="0.8" fill="url(#pk)" opacity="0.03"/>
<rect x="410.6" y="115.4" width="13.4" height="0.8" fill="url(#pk)" opacity="0.02"/>
<rect x="409.3" y="117.0" width="14.6" height="0.8" fill="url(#pk)" opacity="0.02"/>
<rect x="411.6" y="117.8" width="10.7" height="0.8" fill="url(#pk)" opacity="0.02"/>
<rect x="411.0" y="121.0" width="12.7" height="0.8" fill="url(#pk)" opacity="0.02"/>
<rect x="410.8" y="121.8" width="12.7" height="0.8" fill="url(#pk)" opacity="0.02"/>
<rect x="450.0" y="100.4" width="2.6" height="0.7" fill="#3f007d" opacity="0.05"/>
<rect x="372.5" y="86.0" width="7.7" height="0.7" fill="#3f007d" opacity="0.06"/>
<rect x="448.5" y="122.9" width="9.8" height="0.7" fill="#3f007d" opacity="0.04"/>
<rect x="418.3" y="86.5" width="3.8" height="0.7" fill="#3f007d" opacity="0.04"/>
<rect x="415.7" y="103.1" width="4.0" height="0.7" fill="#3f007d" opacity="0.05"/>
<rect x="414.5" y="106.9" width="2.8" height="0.7" fill="#3f007d" opacity="0.04"/>
<rect x="459.3" y="115.2" width="7.6" height="0.7" fill="#3f007d" opacity="0.03"/>
<rect x="400.7" y="99.9" width="9.0" height="0.7" fill="#3f007d" opacity="0.06"/>
<rect x="457.2" y="140.3" width="11.3" height="0.7" fill="#3f007d" opacity="0.05"/>
<rect x="371.7" y="137.8" width="6.9" height="0.7" fill="#3f007d" opacity="0.04"/>
<rect x="426.2" y="122.9" width="8.1" height="0.7" fill="#3f007d" opacity="0.06"/>
<rect x="417.6" y="87.1" width="11.6" height="0.7" fill="#3f007d" opacity="0.02"/>
<rect x="449.8" y="88.6" width="11.6" height="0.7" fill="#3f007d" opacity="0.02"/>
<rect x="446.1" y="83.8" width="8.9" height="0.7" fill="#3f007d" opacity="0.04"/>
<rect x="439.5" y="116.6" width="10.1" height="0.7" fill="#3f007d" opacity="0.02"/>
<rect x="442.9" y="86.0" width="11.8" height="0.7" fill="#3f007d" opacity="0.05"/>
<rect x="400.7" y="106.3" width="5.5" height="0.7" fill="#3f007d" opacity="0.02"/>
<rect x="393.9" y="128.0" width="7.9" height="0.7" fill="#3f007d" opacity="0.04"/>
<rect x="431.9" y="102.0" width="6.5" height="0.7" fill="#3f007d" opacity="0.03"/>
<rect x="386.0" y="134.6" width="3.5" height="0.7" fill="#3f007d" opacity="0.03"/>
<rect x="441.9" y="110.5" width="5.3" height="0.7" fill="#3f007d" opacity="0.03"/>
<rect x="393.7" y="121.0" width="7.2" height="0.7" fill="#3f007d" opacity="0.03"/>
<rect x="386.8" y="134.3" width="4.3" height="0.7" fill="#3f007d" opacity="0.03"/>
<rect x="436.6" y="101.6" width="8.7" height="0.7" fill="#3f007d" opacity="0.05"/>
<rect x="377.0" y="114.2" width="9.6" height="0.7" fill="#3f007d" opacity="0.03"/>
<rect x="407.9" y="94.9" width="11.9" height="0.7" fill="#3f007d" opacity="0.03"/>
<rect x="453.6" y="103.2" width="11.9" height="0.7" fill="#3f007d" opacity="0.04"/>
<rect x="442.4" y="90.0" width="9.8" height="0.7" fill="#3f007d" opacity="0.03"/>
<rect x="404.7" y="129.2" width="4.9" height="0.7" fill="#3f007d" opacity="0.04"/>
<rect x="413.6" y="126.2" width="10.2" height="0.7" fill="#3f007d" opacity="0.02"/>
<rect x="404.8" y="111.7" width="2.7" height="0.7" fill="#3f007d" opacity="0.06"/>
<rect x="388.7" y="90.5" width="10.8" height="0.7" fill="#3f007d" opacity="0.06"/>
<rect x="401.3" y="137.6" width="11.3" height="0.7" fill="#3f007d" opacity="0.03"/>
<rect x="456.8" y="124.6" width="3.9" height="0.7" fill="#3f007d" opacity="0.03"/>
<rect x="451.0" y="122.5" width="9.3" height="0.7" fill="#3f007d" opacity="0.06"/>
<rect x="404.1" y="109.0" width="3.2" height="0.7" fill="#3f007d" opacity="0.03"/>
<rect x="376.4" y="138.0" width="3.8" height="0.7" fill="#3f007d" opacity="0.03"/>
<rect x="398.0" y="84.8" width="3.8" height="0.7" fill="#3f007d" opacity="0.02"/>
<rect x="419.5" y="113.4" width="7.7" height="0.7" fill="#3f007d" opacity="0.05"/>
<rect x="456.9" y="113.4" width="2.8" height="0.7" fill="#3f007d" opacity="0.03"/>
<rect x="398.3" y="86.5" width="9.6" height="0.7" fill="#3f007d" opacity="0.06"/>
<rect x="384.6" y="112.0" width="5.3" height="0.7" fill="#3f007d" opacity="0.04"/>
<rect x="442.7" y="99.5" width="11.7" height="0.7" fill="#3f007d" opacity="0.04"/>
<rect x="447.6" y="118.0" width="6.7" height="0.7" fill="#3f007d" opacity="0.03"/>
<rect x="459.8" y="138.4" width="2.2" height="0.7" fill="#3f007d" opacity="0.05"/>
<rect x="374.6" y="105.9" width="3.6" height="0.7" fill="#3f007d" opacity="0.03"/>
<rect x="389.3" y="125.9" width="2.2" height="0.7" fill="#3f007d" opacity="0.03"/>
<rect x="415.7" y="129.7" width="8.5" height="0.7" fill="#3f007d" opacity="0.04"/>
<rect x="371.2" y="92.8" width="5.0" height="0.7" fill="#3f007d" opacity="0.02"/>
<rect x="426.7" y="97.5" width="5.7" height="0.7" fill="#3f007d" opacity="0.04"/>
<rect x="399.0" y="119.2" width="5.6" height="0.7" fill="#3f007d" opacity="0.06"/>
<rect x="408.2" y="116.6" width="7.4" height="0.7" fill="#3f007d" opacity="0.04"/>
<rect x="453.9" y="101.8" width="4.3" height="0.7" fill="#3f007d" opacity="0.06"/>
<rect x="450.9" y="132.9" width="3.6" height="0.7" fill="#3f007d" opacity="0.04"/>
<rect x="396.4" y="140.8" width="3.7" height="0.7" fill="#3f007d" opacity="0.05"/>
<rect x="423.5" y="96.0" width="3.6" height="0.7" fill="#3f007d" opacity="0.06"/>
<rect x="378.7" y="98.9" width="8.9" height="0.7" fill="#3f007d" opacity="0.03"/>
<rect x="415.5" y="115.3" width="11.2" height="0.7" fill="#3f007d" opacity="0.04"/>
<rect x="370.0" y="104.6" width="7.0" height="0.7" fill="#3f007d" opacity="0.03"/>
<rect x="427.9" y="116.2" width="6.6" height="0.7" fill="#3f007d" opacity="0.02"/>
<rect x="414.1" y="111.7" width="8.4" height="0.7" fill="#3f007d" opacity="0.06"/>
<rect x="410.5" y="98.7" width="2.8" height="0.7" fill="#3f007d" opacity="0.05"/>
<rect x="446.1" y="95.9" width="10.0" height="0.7" fill="#3f007d" opacity="0.03"/>
<rect x="416.2" y="135.9" width="6.3" height="0.7" fill="#3f007d" opacity="0.04"/>
<rect x="414.9" y="138.5" width="6.8" height="0.7" fill="#3f007d" opacity="0.03"/>
<rect x="416.1" y="132.2" width="5.4" height="0.7" fill="#3f007d" opacity="0.03"/>
<rect x="446.5" y="94.8" width="10.0" height="0.7" fill="#3f007d" opacity="0.06"/>
<rect x="432.8" y="136.7" width="10.0" height="0.7" fill="#3f007d" opacity="0.05"/>
<rect x="443.5" y="130.3" width="3.8" height="0.7" fill="#3f007d" opacity="0.05"/>
<rect x="392.3" y="100.0" width="11.2" height="0.7" fill="#3f007d" opacity="0.02"/>
<rect x="401.4" y="112.5" width="9.9" height="0.7" fill="#3f007d" opacity="0.04"/>
<rect x="455.6" y="136.4" width="8.4" height="0.7" fill="#3f007d" opacity="0.02"/>
<rect x="379.9" y="121.8" width="11.8" height="0.7" fill="#3f007d" opacity="0.05"/>
<rect x="386.9" y="100.5" width="8.9" height="0.7" fill="#3f007d" opacity="0.05"/>
<rect x="427.1" y="140.8" width="3.3" height="0.7" fill="#3f007d" opacity="0.05"/>
<rect x="449.6" y="85.4" width="9.7" height="0.7" fill="#3f007d" opacity="0.05"/>
<rect x="422.2" y="134.1" width="11.4" height="0.7" fill="#3f007d" opacity="0.05"/>
<rect x="405.2" y="111.3" width="5.5" height="0.7" fill="#3f007d" opacity="0.02"/>
<rect x="443.0" y="91.5" width="4.3" height="0.7" fill="#3f007d" opacity="0.05"/>
<rect x="433.7" y="128.3" width="7.2" height="0.7" fill="#3f007d" opacity="0.03"/>
<rect x="387.0" y="98.2" width="8.5" height="0.7" fill="#3f007d" opacity="0.05"/>
<rect x="400.2" y="138.2" width="11.3" height="0.7" fill="#3f007d" opacity="0.06"/>
<rect x="457.4" y="99.3" width="8.2" height="0.7" fill="#3f007d" opacity="0.06"/>
<rect x="400.5" y="128.2" width="4.8" height="0.7" fill="#3f007d" opacity="0.04"/>
<rect x="373.1" y="111.1" width="10.6" height="0.7" fill="#3f007d" opacity="0.04"/>
<rect x="438.3" y="110.2" width="4.5" height="0.7" fill="#3f007d" opacity="0.03"/>
<rect x="382.5" y="143.6" width="63.9" height="0.8" fill="url(#pk)" opacity="0.16"/>
<rect x="409.1" y="143.6" width="8.9" height="0.8" fill="#3f007d" opacity="0.19"/>
<rect x="430.4" y="143.6" width="3.7" height="0.8" fill="#3f007d" opacity="0.14"/>
<rect x="401.8" y="143.6" width="33.8" height="0.8" fill="url(#pk)" opacity="0.61"/>
<rect x="380.5" y="144.4" width="76.5" height="0.8" fill="url(#pk)" opacity="0.17"/>
<rect x="404.0" y="144.4" width="9.5" height="0.8" fill="#3f007d" opacity="0.22"/>
<rect x="412.5" y="144.4" width="4.0" height="0.8" fill="#3f007d" opacity="0.22"/>
<rect x="424.2" y="144.4" width="3.5" height="0.8" fill="#3f007d" opacity="0.21"/>
<rect x="401.6" y="144.4" width="29.8" height="0.8" fill="url(#pk)" opacity="0.67"/>
<rect x="381.0" y="145.2" width="82.9" height="0.8" fill="url(#pk)" opacity="0.13"/>
<rect x="415.6" y="145.2" width="4.1" height="0.8" fill="#3f007d" opacity="0.14"/>
<rect x="419.4" y="145.2" width="2.5" height="0.8" fill="#3f007d" opacity="0.16"/>
<rect x="400.4" y="145.2" width="37.6" height="0.8" fill="url(#pk)" opacity="0.33"/>
<rect x="376.1" y="146.0" width="75.5" height="0.8" fill="url(#pk)" opacity="0.24"/>
<rect x="414.6" y="146.0" width="7.6" height="0.8" fill="#3f007d" opacity="0.09"/>
<rect x="419.6" y="146.0" width="6.6" height="0.8" fill="#3f007d" opacity="0.11"/>
<rect x="401.9" y="146.0" width="31.2" height="0.8" fill="url(#pk)" opacity="0.31"/>
<rect x="393.5" y="146.8" width="57.6" height="0.8" fill="url(#pk)" opacity="0.16"/>
<rect x="422.2" y="146.8" width="4.0" height="0.8" fill="#3f007d" opacity="0.12"/>
<rect x="398.7" y="146.8" width="37.7" height="0.8" fill="url(#pk)" opacity="0.40"/>
<rect x="379.3" y="147.6" width="74.1" height="0.8" fill="url(#pk)" opacity="0.16"/>
<rect x="420.3" y="147.6" width="6.7" height="0.8" fill="#3f007d" opacity="0.07"/>
<rect x="400.4" y="147.6" width="37.6" height="0.8" fill="url(#pk)" opacity="0.29"/>
<rect x="380.0" y="148.4" width="79.8" height="0.8" fill="url(#pk)" opacity="0.07"/>
<rect x="407.7" y="148.4" width="7.9" height="0.8" fill="#3f007d" opacity="0.08"/>
<rect x="417.1" y="148.4" width="2.7" height="0.8" fill="#3f007d" opacity="0.05"/>
<rect x="402.2" y="148.4" width="29.4" height="0.8" fill="url(#pk)" opacity="0.20"/>
<rect x="384.9" y="149.2" width="58.3" height="0.8" fill="url(#pk)" opacity="0.09"/>
<rect x="415.8" y="149.2" width="7.0" height="0.8" fill="#3f007d" opacity="0.05"/>
<rect x="413.8" y="149.2" width="6.4" height="0.8" fill="#3f007d" opacity="0.11"/>
<rect x="404.9" y="149.2" width="26.9" height="0.8" fill="url(#pk)" opacity="0.29"/>
<rect x="376.5" y="150.0" width="76.3" height="0.8" fill="url(#pk)" opacity="0.12"/>
<rect x="404.6" y="150.0" width="4.4" height="0.8" fill="#3f007d" opacity="0.06"/>
<rect x="401.6" y="150.0" width="35.2" height="0.8" fill="url(#pk)" opacity="0.23"/>
<rect x="382.6" y="150.8" width="67.7" height="0.8" fill="url(#pk)" opacity="0.06"/>
<rect x="395.8" y="150.8" width="4.7" height="0.8" fill="#3f007d" opacity="0.02"/>
<rect x="400.3" y="150.8" width="32.1" height="0.8" fill="url(#pk)" opacity="0.23"/>
<rect x="384.1" y="151.6" width="64.8" height="0.8" fill="url(#pk)" opacity="0.03"/>
<rect x="410.6" y="151.6" width="4.4" height="0.8" fill="#3f007d" opacity="0.07"/>
<rect x="414.7" y="151.6" width="6.0" height="0.8" fill="#3f007d" opacity="0.03"/>
<rect x="400.7" y="151.6" width="32.5" height="0.8" fill="url(#pk)" opacity="0.17"/>
<rect x="385.1" y="152.4" width="65.6" height="0.8" fill="url(#pk)" opacity="0.05"/>
<rect x="409.3" y="152.4" width="6.6" height="0.8" fill="#3f007d" opacity="0.03"/>
<rect x="412.9" y="152.4" width="6.4" height="0.8" fill="#3f007d" opacity="0.09"/>
<rect x="405.8" y="152.4" width="21.7" height="0.8" fill="url(#pk)" opacity="0.18"/>
<rect x="382.2" y="153.2" width="69.8" height="0.8" fill="url(#pk)" opacity="0.02"/>
<rect x="408.6" y="153.2" width="4.7" height="0.8" fill="#3f007d" opacity="0.06"/>
<rect x="407.8" y="153.2" width="8.3" height="0.8" fill="#3f007d" opacity="0.05"/>
<rect x="425.9" y="153.2" width="5.9" height="0.8" fill="#3f007d" opacity="0.04"/>
<rect x="407.0" y="153.2" width="24.5" height="0.8" fill="url(#pk)" opacity="0.18"/>
<rect x="407.3" y="154.0" width="9.9" height="0.8" fill="#3f007d" opacity="0.04"/>
<rect x="408.8" y="154.0" width="20.7" height="0.8" fill="url(#pk)" opacity="0.15"/>
<rect x="402.4" y="154.8" width="28.3" height="0.8" fill="url(#pk)" opacity="0.11"/>
<rect x="405.1" y="155.6" width="26.6" height="0.8" fill="url(#pk)" opacity="0.09"/>
<rect x="406.1" y="156.4" width="22.0" height="0.8" fill="url(#pk)" opacity="0.13"/>
<rect x="404.9" y="157.2" width="23.0" height="0.8" fill="url(#pk)" opacity="0.08"/>
<rect x="405.0" y="158.0" width="23.5" height="0.8" fill="url(#pk)" opacity="0.08"/>
<rect x="406.7" y="158.8" width="24.9" height="0.8" fill="url(#pk)" opacity="0.07"/>
<rect x="408.2" y="159.6" width="16.9" height="0.8" fill="url(#pk)" opacity="0.06"/>
<rect x="407.4" y="160.4" width="22.3" height="0.8" fill="url(#pk)" opacity="0.04"/>
<rect x="409.1" y="161.2" width="18.6" height="0.8" fill="url(#pk)" opacity="0.05"/>
<rect x="408.5" y="162.0" width="20.8" height="0.8" fill="url(#pk)" opacity="0.04"/>
<rect x="408.9" y="162.8" width="19.0" height="0.8" fill="url(#pk)" opacity="0.04"/>
<rect x="407.1" y="163.6" width="19.7" height="0.8" fill="url(#pk)" opacity="0.04"/>
<rect x="410.4" y="164.4" width="14.4" height="0.8" fill="url(#pk)" opacity="0.05"/>
<rect x="410.2" y="165.2" width="15.8" height="0.8" fill="url(#pk)" opacity="0.06"/>
<rect x="410.6" y="166.0" width="12.6" height="0.8" fill="url(#pk)" opacity="0.06"/>
<rect x="413.4" y="166.8" width="11.6" height="0.8" fill="url(#pk)" opacity="0.04"/>
<rect x="411.0" y="167.6" width="13.1" height="0.8" fill="url(#pk)" opacity="0.03"/>
<rect x="410.5" y="168.4" width="15.6" height="0.8" fill="url(#pk)" opacity="0.05"/>
<rect x="412.7" y="169.2" width="11.5" height="0.8" fill="url(#pk)" opacity="0.03"/>
<rect x="411.8" y="170.0" width="14.2" height="0.8" fill="url(#pk)" opacity="0.03"/>
<rect x="411.7" y="170.8" width="10.6" height="0.8" fill="url(#pk)" opacity="0.03"/>
<rect x="414.2" y="171.6" width="8.5" height="0.8" fill="url(#pk)" opacity="0.04"/>
<rect x="411.8" y="172.4" width="12.3" height="0.8" fill="url(#pk)" opacity="0.02"/>
<rect x="412.4" y="173.2" width="8.1" height="0.8" fill="url(#pk)" opacity="0.03"/>
<rect x="412.1" y="174.0" width="12.1" height="0.8" fill="url(#pk)" opacity="0.03"/>
<rect x="412.9" y="174.8" width="7.3" height="0.8" fill="url(#pk)" opacity="0.04"/>
<rect x="414.4" y="176.4" width="7.8" height="0.8" fill="url(#pk)" opacity="0.02"/>
<rect x="413.8" y="177.2" width="7.8" height="0.8" fill="url(#pk)" opacity="0.03"/>
<rect x="413.1" y="178.0" width="8.6" height="0.8" fill="url(#pk)" opacity="0.02"/>
<rect x="413.6" y="178.8" width="7.1" height="0.8" fill="url(#pk)" opacity="0.03"/>
<rect x="371.3" y="152.9" width="5.1" height="0.7" fill="#3f007d" opacity="0.04"/>
<rect x="380.2" y="153.2" width="10.5" height="0.7" fill="#3f007d" opacity="0.04"/>
<rect x="398.5" y="161.8" width="10.9" height="0.7" fill="#3f007d" opacity="0.05"/>
<rect x="430.5" y="165.7" width="8.9" height="0.7" fill="#3f007d" opacity="0.04"/>
<rect x="405.7" y="158.3" width="7.0" height="0.7" fill="#3f007d" opacity="0.04"/>
<rect x="418.8" y="162.4" width="9.9" height="0.7" fill="#3f007d" opacity="0.06"/>
<rect x="371.8" y="151.6" width="5.0" height="0.7" fill="#3f007d" opacity="0.02"/>
<rect x="426.9" y="171.8" width="4.9" height="0.7" fill="#3f007d" opacity="0.03"/>
<rect x="446.7" y="174.4" width="8.8" height="0.7" fill="#3f007d" opacity="0.05"/>
<rect x="411.6" y="170.0" width="6.0" height="0.7" fill="#3f007d" opacity="0.04"/>
<rect x="461.0" y="174.8" width="11.2" height="0.7" fill="#3f007d" opacity="0.05"/>
<rect x="392.5" y="146.3" width="11.7" height="0.7" fill="#3f007d" opacity="0.04"/>
<rect x="398.3" y="161.9" width="10.6" height="0.7" fill="#3f007d" opacity="0.04"/>
<rect x="376.8" y="178.7" width="11.9" height="0.7" fill="#3f007d" opacity="0.02"/>
<rect x="405.6" y="148.9" width="8.4" height="0.7" fill="#3f007d" opacity="0.02"/>
<rect x="456.2" y="163.6" width="6.4" height="0.7" fill="#3f007d" opacity="0.05"/>
<rect x="423.4" y="164.6" width="3.7" height="0.7" fill="#3f007d" opacity="0.04"/>
<rect x="431.8" y="175.5" width="4.2" height="0.7" fill="#3f007d" opacity="0.04"/>
<rect x="400.8" y="162.9" width="7.8" height="0.7" fill="#3f007d" opacity="0.05"/>
<rect x="390.0" y="144.3" width="8.6" height="0.7" fill="#3f007d" opacity="0.03"/>
<rect x="439.9" y="146.3" width="5.3" height="0.7" fill="#3f007d" opacity="0.06"/>
<rect x="379.1" y="163.4" width="8.4" height="0.7" fill="#3f007d" opacity="0.03"/>
<rect x="436.4" y="172.4" width="9.6" height="0.7" fill="#3f007d" opacity="0.02"/>
<rect x="443.2" y="144.9" width="3.4" height="0.7" fill="#3f007d" opacity="0.03"/>
<rect x="384.8" y="144.8" width="6.7" height="0.7" fill="#3f007d" opacity="0.06"/>
<rect x="393.7" y="155.0" width="10.3" height="0.7" fill="#3f007d" opacity="0.03"/>
<rect x="426.4" y="166.1" width="11.4" height="0.7" fill="#3f007d" opacity="0.02"/>
<rect x="405.0" y="163.6" width="10.2" height="0.7" fill="#3f007d" opacity="0.03"/>
<rect x="386.8" y="168.9" width="7.0" height="0.7" fill="#3f007d" opacity="0.06"/>
<rect x="395.5" y="152.2" width="11.2" height="0.7" fill="#3f007d" opacity="0.05"/>
<rect x="387.0" y="146.0" width="4.4" height="0.7" fill="#3f007d" opacity="0.03"/>
<rect x="434.2" y="173.5" width="11.8" height="0.7" fill="#3f007d" opacity="0.05"/>
<rect x="405.0" y="165.9" width="9.2" height="0.7" fill="#3f007d" opacity="0.04"/>
<rect x="415.1" y="145.8" width="5.8" height="0.7" fill="#3f007d" opacity="0.04"/>
<rect x="372.4" y="145.4" width="11.8" height="0.7" fill="#3f007d" opacity="0.03"/>
<rect x="383.4" y="155.3" width="7.9" height="0.7" fill="#3f007d" opacity="0.06"/>
<rect x="415.8" y="150.1" width="7.0" height="0.7" fill="#3f007d" opacity="0.05"/>
<rect x="391.8" y="163.6" width="3.9" height="0.7" fill="#3f007d" opacity="0.05"/>
<rect x="449.4" y="146.5" width="2.3" height="0.7" fill="#3f007d" opacity="0.03"/>
<rect x="447.4" y="160.2" width="8.2" height="0.7" fill="#3f007d" opacity="0.05"/>
<rect x="436.3" y="170.6" width="2.5" height="0.7" fill="#3f007d" opacity="0.05"/>
<rect x="384.7" y="148.9" width="2.4" height="0.7" fill="#3f007d" opacity="0.02"/>
<rect x="404.8" y="174.7" width="2.9" height="0.7" fill="#3f007d" opacity="0.02"/>
<rect x="425.1" y="173.6" width="11.2" height="0.7" fill="#3f007d" opacity="0.02"/>
<rect x="396.2" y="147.7" width="3.9" height="0.7" fill="#3f007d" opacity="0.02"/>
<rect x="428.7" y="150.8" width="3.7" height="0.7" fill="#3f007d" opacity="0.03"/>
<rect x="404.3" y="162.6" width="3.5" height="0.7" fill="#3f007d" opacity="0.04"/>
<rect x="405.5" y="161.6" width="6.7" height="0.7" fill="#3f007d" opacity="0.02"/>
<rect x="387.6" y="165.4" width="5.4" height="0.7" fill="#3f007d" opacity="0.02"/>
<rect x="423.9" y="175.0" width="5.9" height="0.7" fill="#3f007d" opacity="0.04"/>
<rect x="382.0" y="176.9" width="5.8" height="0.7" fill="#3f007d" opacity="0.05"/>
<rect x="434.8" y="156.8" width="11.1" height="0.7" fill="#3f007d" opacity="0.02"/>
</svg>
<rect x="369.8" y="55.2" width="96.0" height="124.8" fill="none" stroke="#000" stroke-width="1.3"/>
<line x1="369.8" y1="80.9" x2="465.8" y2="80.9" stroke="#000" stroke-width="1.8"/>
<line x1="369.8" y1="142.7" x2="465.8" y2="142.7" stroke="#000" stroke-width="1.8"/>
<line x1="369.8" y1="180.0" x2="369.8" y2="183.0" stroke="#000" stroke-width="0.8"/>
<line x1="417.8" y1="180.0" x2="417.8" y2="183.0" stroke="#000" stroke-width="0.8"/>
<line x1="465.8" y1="180.0" x2="465.8" y2="183.0" stroke="#000" stroke-width="0.8"/>
<text x="372.5" y="193" font-size="8.2" text-anchor="start" fill="#000" >-10kb</text>
<text x="420.5" y="193" font-size="8.2" text-anchor="middle" fill="#000" >TSS</text>
<text x="467.6" y="193" font-size="8.2" text-anchor="end" fill="#000" >10kb</text>
<rect x="474.8" y="55.2" width="96.0" height="124.8" fill="#f3f9f0"/>
<svg x="474.8" y="55.2" width="96.0" height="124.8" viewBox="474.8 55.2 96.0 124.8" overflow="hidden">
<rect x="474.8" y="56.1" width="96.0" height="0.8" fill="url(#gk)" opacity="0.40"/>
<rect x="525.0" y="56.1" width="7.6" height="0.8" fill="#238b45" opacity="0.26"/>
<rect x="478.0" y="56.1" width="87.6" height="0.8" fill="url(#gk)" opacity="0.56"/>
<rect x="474.8" y="56.9" width="96.0" height="0.8" fill="url(#gk)" opacity="0.36"/>
<rect x="508.1" y="56.9" width="5.3" height="0.8" fill="#238b45" opacity="0.22"/>
<rect x="466.7" y="56.9" width="112.7" height="0.8" fill="url(#gk)" opacity="0.59"/>
<rect x="474.8" y="57.7" width="96.0" height="0.8" fill="url(#gk)" opacity="0.34"/>
<rect x="513.9" y="57.7" width="10.0" height="0.8" fill="#238b45" opacity="0.30"/>
<rect x="490.2" y="57.7" width="3.1" height="0.8" fill="#238b45" opacity="0.13"/>
<rect x="474.3" y="57.7" width="97.4" height="0.8" fill="url(#gk)" opacity="0.69"/>
<rect x="474.8" y="58.5" width="96.0" height="0.8" fill="url(#gk)" opacity="0.12"/>
<rect x="469.8" y="58.5" width="6.6" height="0.8" fill="#238b45" opacity="0.04"/>
<rect x="543.2" y="58.5" width="4.1" height="0.8" fill="#238b45" opacity="0.13"/>
<rect x="511.9" y="58.5" width="8.9" height="0.8" fill="#238b45" opacity="0.06"/>
<rect x="469.5" y="58.5" width="104.7" height="0.8" fill="url(#gk)" opacity="0.41"/>
<rect x="474.8" y="59.3" width="96.0" height="0.8" fill="url(#gk)" opacity="0.18"/>
<rect x="529.0" y="59.3" width="4.7" height="0.8" fill="#238b45" opacity="0.08"/>
<rect x="547.5" y="59.3" width="2.0" height="0.8" fill="#238b45" opacity="0.06"/>
<rect x="475.0" y="59.3" width="94.5" height="0.8" fill="url(#gk)" opacity="0.55"/>
<rect x="474.8" y="60.1" width="96.0" height="0.8" fill="url(#gk)" opacity="0.15"/>
<rect x="468.5" y="60.1" width="8.4" height="0.8" fill="#238b45" opacity="0.04"/>
<rect x="468.0" y="60.1" width="109.4" height="0.8" fill="url(#gk)" opacity="0.43"/>
<rect x="474.8" y="60.9" width="96.0" height="0.8" fill="url(#gk)" opacity="0.07"/>
<rect x="539.9" y="60.9" width="5.2" height="0.8" fill="#238b45" opacity="0.10"/>
<rect x="514.8" y="60.9" width="7.5" height="0.8" fill="#238b45" opacity="0.10"/>
<rect x="495.3" y="60.9" width="8.3" height="0.8" fill="#238b45" opacity="0.18"/>
<rect x="475.3" y="60.9" width="93.2" height="0.8" fill="url(#gk)" opacity="0.48"/>
<rect x="474.8" y="61.7" width="96.0" height="0.8" fill="url(#gk)" opacity="0.03"/>
<rect x="532.0" y="61.7" width="3.6" height="0.8" fill="#238b45" opacity="0.18"/>
<rect x="504.1" y="61.7" width="4.9" height="0.8" fill="#238b45" opacity="0.15"/>
<rect x="487.6" y="61.7" width="69.7" height="0.8" fill="url(#gk)" opacity="0.51"/>
<rect x="474.8" y="62.5" width="96.0" height="0.8" fill="url(#gk)" opacity="0.02"/>
<rect x="510.7" y="62.5" width="8.8" height="0.8" fill="#238b45" opacity="0.16"/>
<rect x="504.0" y="62.5" width="2.9" height="0.8" fill="#238b45" opacity="0.17"/>
<rect x="487.8" y="62.5" width="67.1" height="0.8" fill="url(#gk)" opacity="0.59"/>
<rect x="525.3" y="63.3" width="4.8" height="0.8" fill="#238b45" opacity="0.06"/>
<rect x="492.9" y="63.3" width="61.1" height="0.8" fill="url(#gk)" opacity="0.33"/>
<rect x="509.1" y="64.1" width="7.4" height="0.8" fill="#238b45" opacity="0.20"/>
<rect x="539.5" y="64.1" width="6.7" height="0.8" fill="#238b45" opacity="0.19"/>
<rect x="476.3" y="64.1" width="94.1" height="0.8" fill="url(#gk)" opacity="0.51"/>
<rect x="506.4" y="64.9" width="7.1" height="0.8" fill="#238b45" opacity="0.14"/>
<rect x="538.1" y="64.9" width="4.1" height="0.8" fill="#238b45" opacity="0.14"/>
<rect x="488.9" y="64.9" width="67.8" height="0.8" fill="url(#gk)" opacity="0.52"/>
<rect x="524.4" y="65.7" width="4.9" height="0.8" fill="#238b45" opacity="0.10"/>
<rect x="492.8" y="65.7" width="57.6" height="0.8" fill="url(#gk)" opacity="0.36"/>
<rect x="498.0" y="66.5" width="8.4" height="0.8" fill="#238b45" opacity="0.10"/>
<rect x="484.0" y="66.5" width="80.1" height="0.8" fill="url(#gk)" opacity="0.47"/>
<rect x="523.2" y="67.3" width="8.8" height="0.8" fill="#238b45" opacity="0.06"/>
<rect x="536.8" y="67.3" width="6.3" height="0.8" fill="#238b45" opacity="0.12"/>
<rect x="491.0" y="67.3" width="66.3" height="0.8" fill="url(#gk)" opacity="0.32"/>
<rect x="536.0" y="68.1" width="6.8" height="0.8" fill="#238b45" opacity="0.10"/>
<rect x="487.5" y="68.1" width="70.2" height="0.8" fill="url(#gk)" opacity="0.30"/>
<rect x="518.0" y="68.9" width="3.4" height="0.8" fill="#238b45" opacity="0.05"/>
<rect x="491.0" y="68.9" width="61.5" height="0.8" fill="url(#gk)" opacity="0.25"/>
<rect x="517.2" y="69.7" width="2.5" height="0.8" fill="#238b45" opacity="0.08"/>
<rect x="523.6" y="69.7" width="6.8" height="0.8" fill="#238b45" opacity="0.03"/>
<rect x="536.1" y="69.7" width="9.5" height="0.8" fill="#238b45" opacity="0.04"/>
<rect x="483.8" y="69.7" width="75.9" height="0.8" fill="url(#gk)" opacity="0.20"/>
<rect x="530.1" y="70.5" width="5.2" height="0.8" fill="#238b45" opacity="0.13"/>
<rect x="498.7" y="70.5" width="49.8" height="0.8" fill="url(#gk)" opacity="0.33"/>
<rect x="517.7" y="71.3" width="5.8" height="0.8" fill="#238b45" opacity="0.08"/>
<rect x="487.9" y="71.3" width="72.2" height="0.8" fill="url(#gk)" opacity="0.32"/>
<rect x="512.8" y="72.1" width="5.7" height="0.8" fill="#238b45" opacity="0.04"/>
<rect x="490.5" y="72.1" width="62.1" height="0.8" fill="url(#gk)" opacity="0.19"/>
<rect x="522.9" y="72.9" width="8.5" height="0.8" fill="#238b45" opacity="0.05"/>
<rect x="489.9" y="72.9" width="68.0" height="0.8" fill="url(#gk)" opacity="0.22"/>
<rect x="523.6" y="73.7" width="4.5" height="0.8" fill="#238b45" opacity="0.05"/>
<rect x="534.6" y="73.7" width="7.9" height="0.8" fill="#238b45" opacity="0.07"/>
<rect x="494.7" y="73.7" width="55.2" height="0.8" fill="url(#gk)" opacity="0.23"/>
<rect x="523.5" y="74.5" width="6.1" height="0.8" fill="#238b45" opacity="0.05"/>
<rect x="525.4" y="74.5" width="3.9" height="0.8" fill="#238b45" opacity="0.06"/>
<rect x="529.4" y="74.5" width="3.6" height="0.8" fill="#238b45" opacity="0.03"/>
<rect x="493.5" y="74.5" width="57.0" height="0.8" fill="url(#gk)" opacity="0.20"/>
<rect x="509.7" y="75.3" width="7.6" height="0.8" fill="#238b45" opacity="0.07"/>
<rect x="501.3" y="75.3" width="43.6" height="0.8" fill="url(#gk)" opacity="0.22"/>
<rect x="506.6" y="76.1" width="5.0" height="0.8" fill="#238b45" opacity="0.05"/>
<rect x="529.4" y="76.1" width="4.9" height="0.8" fill="#238b45" opacity="0.08"/>
<rect x="497.1" y="76.1" width="50.6" height="0.8" fill="url(#gk)" opacity="0.24"/>
<rect x="509.8" y="76.9" width="5.1" height="0.8" fill="#238b45" opacity="0.05"/>
<rect x="499.9" y="76.9" width="4.0" height="0.8" fill="#238b45" opacity="0.02"/>
<rect x="535.6" y="76.9" width="9.4" height="0.8" fill="#238b45" opacity="0.03"/>
<rect x="495.5" y="76.9" width="53.9" height="0.8" fill="url(#gk)" opacity="0.16"/>
<rect x="505.2" y="77.7" width="36.1" height="0.8" fill="url(#gk)" opacity="0.12"/>
<rect x="526.6" y="78.5" width="8.2" height="0.8" fill="#238b45" opacity="0.06"/>
<rect x="521.3" y="78.5" width="7.6" height="0.8" fill="#238b45" opacity="0.10"/>
<rect x="507.1" y="78.5" width="33.2" height="0.8" fill="url(#gk)" opacity="0.22"/>
<rect x="521.0" y="79.3" width="7.8" height="0.8" fill="#238b45" opacity="0.03"/>
<rect x="508.5" y="79.3" width="4.6" height="0.8" fill="#238b45" opacity="0.04"/>
<rect x="498.6" y="79.3" width="46.1" height="0.8" fill="url(#gk)" opacity="0.22"/>
<rect x="501.3" y="80.1" width="43.5" height="0.8" fill="url(#gk)" opacity="0.11"/>
<rect x="516.5" y="56.6" width="8.0" height="0.7" fill="#238b45" opacity="0.04"/>
<rect x="513.5" y="57.0" width="5.5" height="0.7" fill="#238b45" opacity="0.09"/>
<rect x="559.7" y="64.7" width="10.7" height="0.7" fill="#238b45" opacity="0.06"/>
<rect x="549.1" y="59.2" width="2.9" height="0.7" fill="#238b45" opacity="0.06"/>
<rect x="483.3" y="58.5" width="6.1" height="0.7" fill="#238b45" opacity="0.03"/>
<rect x="528.0" y="79.7" width="11.0" height="0.7" fill="#238b45" opacity="0.09"/>
<rect x="534.2" y="74.2" width="6.7" height="0.7" fill="#238b45" opacity="0.07"/>
<rect x="489.3" y="72.1" width="7.3" height="0.7" fill="#238b45" opacity="0.05"/>
<rect x="540.4" y="68.4" width="8.9" height="0.7" fill="#238b45" opacity="0.06"/>
<rect x="550.7" y="74.9" width="2.9" height="0.7" fill="#238b45" opacity="0.03"/>
<rect x="489.6" y="57.3" width="11.6" height="0.7" fill="#238b45" opacity="0.04"/>
<rect x="517.6" y="66.6" width="7.6" height="0.7" fill="#238b45" opacity="0.04"/>
<rect x="505.3" y="74.7" width="10.5" height="0.7" fill="#238b45" opacity="0.08"/>
<rect x="525.2" y="56.2" width="2.9" height="0.7" fill="#238b45" opacity="0.08"/>
<rect x="499.4" y="57.8" width="9.7" height="0.7" fill="#238b45" opacity="0.06"/>
<rect x="512.8" y="72.0" width="7.2" height="0.7" fill="#238b45" opacity="0.03"/>
<rect x="498.5" y="67.2" width="8.8" height="0.7" fill="#238b45" opacity="0.03"/>
<rect x="493.0" y="59.5" width="7.3" height="0.7" fill="#238b45" opacity="0.06"/>
<rect x="565.6" y="56.3" width="10.4" height="0.7" fill="#238b45" opacity="0.05"/>
<rect x="550.8" y="60.0" width="11.8" height="0.7" fill="#238b45" opacity="0.03"/>
<rect x="550.1" y="74.1" width="11.4" height="0.7" fill="#238b45" opacity="0.03"/>
<rect x="489.9" y="59.1" width="4.3" height="0.7" fill="#238b45" opacity="0.08"/>
<rect x="518.4" y="77.8" width="3.3" height="0.7" fill="#238b45" opacity="0.04"/>
<rect x="534.5" y="61.9" width="9.2" height="0.7" fill="#238b45" opacity="0.07"/>
<rect x="516.8" y="66.6" width="6.7" height="0.7" fill="#238b45" opacity="0.05"/>
<rect x="537.8" y="67.0" width="9.1" height="0.7" fill="#238b45" opacity="0.04"/>
<rect x="488.1" y="69.6" width="2.5" height="0.7" fill="#238b45" opacity="0.05"/>
<rect x="477.8" y="64.7" width="2.8" height="0.7" fill="#238b45" opacity="0.05"/>
<rect x="551.9" y="78.5" width="2.3" height="0.7" fill="#238b45" opacity="0.04"/>
<rect x="503.4" y="64.9" width="3.4" height="0.7" fill="#238b45" opacity="0.06"/>
<rect x="509.9" y="76.1" width="3.8" height="0.7" fill="#238b45" opacity="0.03"/>
<rect x="545.2" y="56.6" width="4.3" height="0.7" fill="#238b45" opacity="0.07"/>
<rect x="482.5" y="74.9" width="3.9" height="0.7" fill="#238b45" opacity="0.04"/>
<rect x="542.6" y="74.4" width="5.0" height="0.7" fill="#238b45" opacity="0.05"/>
<rect x="518.2" y="64.6" width="9.9" height="0.7" fill="#238b45" opacity="0.04"/>
<rect x="490.7" y="81.8" width="4.7" height="0.8" fill="#238b45" opacity="0.09"/>
<rect x="555.3" y="81.8" width="4.6" height="0.8" fill="#238b45" opacity="0.11"/>
<rect x="544.7" y="81.8" width="3.8" height="0.8" fill="#238b45" opacity="0.10"/>
<rect x="476.1" y="81.8" width="95.9" height="0.8" fill="url(#gk)" opacity="0.39"/>
<rect x="529.6" y="82.6" width="8.9" height="0.8" fill="#238b45" opacity="0.05"/>
<rect x="559.4" y="82.6" width="2.4" height="0.8" fill="#238b45" opacity="0.02"/>
<rect x="481.2" y="82.6" width="82.1" height="0.8" fill="url(#gk)" opacity="0.17"/>
<rect x="533.9" y="83.4" width="5.3" height="0.8" fill="#238b45" opacity="0.05"/>
<rect x="502.0" y="83.4" width="6.8" height="0.8" fill="#238b45" opacity="0.05"/>
<rect x="483.6" y="83.4" width="4.5" height="0.8" fill="#238b45" opacity="0.02"/>
<rect x="474.6" y="83.4" width="95.2" height="0.8" fill="url(#gk)" opacity="0.18"/>
<rect x="524.8" y="84.2" width="2.1" height="0.8" fill="#238b45" opacity="0.08"/>
<rect x="509.7" y="84.2" width="5.0" height="0.8" fill="#238b45" opacity="0.05"/>
<rect x="482.0" y="84.2" width="78.8" height="0.8" fill="url(#gk)" opacity="0.20"/>
<rect x="487.2" y="85.0" width="68.9" height="0.8" fill="url(#gk)" opacity="0.10"/>
<rect x="483.7" y="85.8" width="75.3" height="0.8" fill="url(#gk)" opacity="0.06"/>
<rect x="487.6" y="86.6" width="70.1" height="0.8" fill="url(#gk)" opacity="0.10"/>
<rect x="493.1" y="87.4" width="57.0" height="0.8" fill="url(#gk)" opacity="0.06"/>
<rect x="484.7" y="88.2" width="76.2" height="0.8" fill="url(#gk)" opacity="0.06"/>
<rect x="481.5" y="89.0" width="82.7" height="0.8" fill="url(#gk)" opacity="0.04"/>
<rect x="481.5" y="89.8" width="85.0" height="0.8" fill="url(#gk)" opacity="0.04"/>
<rect x="483.5" y="90.6" width="78.4" height="0.8" fill="url(#gk)" opacity="0.04"/>
<rect x="485.7" y="91.4" width="74.3" height="0.8" fill="url(#gk)" opacity="0.03"/>
<rect x="479.7" y="92.2" width="83.5" height="0.8" fill="url(#gk)" opacity="0.03"/>
<rect x="485.9" y="93.0" width="74.3" height="0.8" fill="url(#gk)" opacity="0.03"/>
<rect x="495.8" y="93.8" width="53.9" height="0.8" fill="url(#gk)" opacity="0.03"/>
<rect x="554.6" y="83.1" width="8.1" height="0.7" fill="#238b45" opacity="0.07"/>
<rect x="507.4" y="118.6" width="5.4" height="0.7" fill="#238b45" opacity="0.02"/>
<rect x="479.8" y="121.6" width="8.8" height="0.7" fill="#238b45" opacity="0.08"/>
<rect x="530.6" y="121.8" width="10.1" height="0.7" fill="#238b45" opacity="0.09"/>
<rect x="565.9" y="130.5" width="6.6" height="0.7" fill="#238b45" opacity="0.02"/>
<rect x="533.5" y="118.6" width="10.6" height="0.7" fill="#238b45" opacity="0.06"/>
<rect x="475.2" y="103.6" width="10.3" height="0.7" fill="#238b45" opacity="0.06"/>
<rect x="529.4" y="140.8" width="10.5" height="0.7" fill="#238b45" opacity="0.07"/>
<rect x="517.3" y="141.2" width="11.0" height="0.7" fill="#238b45" opacity="0.05"/>
<rect x="504.8" y="82.6" width="5.5" height="0.7" fill="#238b45" opacity="0.09"/>
<rect x="500.1" y="105.5" width="8.9" height="0.7" fill="#238b45" opacity="0.03"/>
<rect x="511.1" y="100.2" width="3.2" height="0.7" fill="#238b45" opacity="0.06"/>
<rect x="548.6" y="107.2" width="5.4" height="0.7" fill="#238b45" opacity="0.09"/>
<rect x="523.6" y="93.6" width="4.3" height="0.7" fill="#238b45" opacity="0.02"/>
<rect x="557.2" y="99.9" width="4.9" height="0.7" fill="#238b45" opacity="0.05"/>
<rect x="499.3" y="113.2" width="7.3" height="0.7" fill="#238b45" opacity="0.02"/>
<rect x="501.0" y="102.8" width="10.2" height="0.7" fill="#238b45" opacity="0.07"/>
<rect x="529.5" y="123.8" width="10.7" height="0.7" fill="#238b45" opacity="0.07"/>
<rect x="486.8" y="85.2" width="9.5" height="0.7" fill="#238b45" opacity="0.08"/>
<rect x="546.1" y="141.1" width="3.6" height="0.7" fill="#238b45" opacity="0.06"/>
<rect x="530.4" y="119.2" width="3.3" height="0.7" fill="#238b45" opacity="0.09"/>
<rect x="499.5" y="112.4" width="11.8" height="0.7" fill="#238b45" opacity="0.05"/>
<rect x="536.4" y="86.1" width="4.6" height="0.7" fill="#238b45" opacity="0.04"/>
<rect x="530.7" y="100.0" width="5.2" height="0.7" fill="#238b45" opacity="0.07"/>
<rect x="566.0" y="136.0" width="10.9" height="0.7" fill="#238b45" opacity="0.08"/>
<rect x="550.6" y="97.0" width="2.9" height="0.7" fill="#238b45" opacity="0.06"/>
<rect x="483.9" y="86.4" width="11.5" height="0.7" fill="#238b45" opacity="0.03"/>
<rect x="523.3" y="124.8" width="2.0" height="0.7" fill="#238b45" opacity="0.08"/>
<rect x="556.4" y="85.5" width="10.2" height="0.7" fill="#238b45" opacity="0.05"/>
<rect x="477.4" y="108.6" width="9.0" height="0.7" fill="#238b45" opacity="0.02"/>
<rect x="559.9" y="113.4" width="8.8" height="0.7" fill="#238b45" opacity="0.03"/>
<rect x="539.3" y="125.0" width="5.3" height="0.7" fill="#238b45" opacity="0.07"/>
<rect x="512.8" y="116.5" width="7.3" height="0.7" fill="#238b45" opacity="0.04"/>
<rect x="556.6" y="99.1" width="5.5" height="0.7" fill="#238b45" opacity="0.07"/>
<rect x="492.3" y="103.8" width="2.0" height="0.7" fill="#238b45" opacity="0.09"/>
<rect x="565.1" y="126.8" width="7.9" height="0.7" fill="#238b45" opacity="0.02"/>
<rect x="479.3" y="91.7" width="8.1" height="0.7" fill="#238b45" opacity="0.06"/>
<rect x="502.0" y="139.0" width="4.3" height="0.7" fill="#238b45" opacity="0.04"/>
<rect x="477.4" y="90.7" width="6.9" height="0.7" fill="#238b45" opacity="0.05"/>
<rect x="562.3" y="103.9" width="5.1" height="0.7" fill="#238b45" opacity="0.08"/>
<rect x="484.3" y="113.7" width="2.3" height="0.7" fill="#238b45" opacity="0.06"/>
<rect x="479.4" y="134.2" width="9.0" height="0.7" fill="#238b45" opacity="0.04"/>
<rect x="551.4" y="123.0" width="9.3" height="0.7" fill="#238b45" opacity="0.04"/>
<rect x="563.8" y="91.2" width="11.2" height="0.7" fill="#238b45" opacity="0.08"/>
<rect x="479.5" y="114.3" width="5.7" height="0.7" fill="#238b45" opacity="0.08"/>
<rect x="502.0" y="85.9" width="2.4" height="0.7" fill="#238b45" opacity="0.08"/>
<rect x="482.4" y="103.0" width="5.6" height="0.7" fill="#238b45" opacity="0.03"/>
<rect x="531.5" y="107.8" width="8.6" height="0.7" fill="#238b45" opacity="0.03"/>
<rect x="480.0" y="113.9" width="6.4" height="0.7" fill="#238b45" opacity="0.08"/>
<rect x="550.5" y="97.6" width="4.4" height="0.7" fill="#238b45" opacity="0.05"/>
<rect x="475.1" y="129.3" width="7.5" height="0.7" fill="#238b45" opacity="0.06"/>
<rect x="562.0" y="124.6" width="8.9" height="0.7" fill="#238b45" opacity="0.04"/>
<rect x="519.1" y="93.8" width="4.8" height="0.7" fill="#238b45" opacity="0.06"/>
<rect x="538.6" y="87.3" width="6.2" height="0.7" fill="#238b45" opacity="0.02"/>
<rect x="560.8" y="89.1" width="10.5" height="0.7" fill="#238b45" opacity="0.08"/>
<rect x="565.4" y="105.2" width="3.7" height="0.7" fill="#238b45" opacity="0.07"/>
<rect x="494.0" y="138.2" width="2.0" height="0.7" fill="#238b45" opacity="0.03"/>
<rect x="548.7" y="86.9" width="8.1" height="0.7" fill="#238b45" opacity="0.05"/>
<rect x="533.9" y="88.7" width="3.4" height="0.7" fill="#238b45" opacity="0.03"/>
<rect x="534.0" y="117.4" width="10.0" height="0.7" fill="#238b45" opacity="0.08"/>
<rect x="502.8" y="90.1" width="3.4" height="0.7" fill="#238b45" opacity="0.05"/>
<rect x="554.6" y="83.6" width="8.8" height="0.7" fill="#238b45" opacity="0.08"/>
<rect x="558.7" y="111.1" width="10.3" height="0.7" fill="#238b45" opacity="0.08"/>
<rect x="494.7" y="130.1" width="5.5" height="0.7" fill="#238b45" opacity="0.02"/>
<rect x="518.4" y="127.6" width="11.9" height="0.7" fill="#238b45" opacity="0.04"/>
<rect x="554.5" y="107.7" width="11.7" height="0.7" fill="#238b45" opacity="0.07"/>
<rect x="559.8" y="134.7" width="4.7" height="0.7" fill="#238b45" opacity="0.06"/>
<rect x="537.1" y="85.7" width="11.5" height="0.7" fill="#238b45" opacity="0.06"/>
<rect x="527.2" y="90.6" width="2.7" height="0.7" fill="#238b45" opacity="0.05"/>
<rect x="513.2" y="86.7" width="10.2" height="0.7" fill="#238b45" opacity="0.07"/>
<rect x="516.9" y="132.9" width="6.4" height="0.7" fill="#238b45" opacity="0.02"/>
<rect x="527.2" y="129.1" width="6.1" height="0.7" fill="#238b45" opacity="0.03"/>
<rect x="480.6" y="109.3" width="3.2" height="0.7" fill="#238b45" opacity="0.03"/>
<rect x="487.4" y="107.3" width="10.3" height="0.7" fill="#238b45" opacity="0.06"/>
<rect x="525.7" y="133.7" width="3.6" height="0.7" fill="#238b45" opacity="0.04"/>
<rect x="528.6" y="132.1" width="8.5" height="0.7" fill="#238b45" opacity="0.06"/>
<rect x="493.2" y="84.8" width="6.3" height="0.7" fill="#238b45" opacity="0.08"/>
<rect x="529.2" y="138.3" width="4.6" height="0.7" fill="#238b45" opacity="0.02"/>
<rect x="512.4" y="115.3" width="11.3" height="0.7" fill="#238b45" opacity="0.03"/>
<rect x="476.3" y="94.1" width="2.3" height="0.7" fill="#238b45" opacity="0.08"/>
<rect x="488.9" y="134.0" width="2.2" height="0.7" fill="#238b45" opacity="0.06"/>
<rect x="531.3" y="96.6" width="11.1" height="0.7" fill="#238b45" opacity="0.07"/>
<rect x="530.6" y="98.6" width="4.9" height="0.7" fill="#238b45" opacity="0.07"/>
<rect x="554.8" y="97.3" width="8.8" height="0.7" fill="#238b45" opacity="0.08"/>
<rect x="562.6" y="102.6" width="7.8" height="0.7" fill="#238b45" opacity="0.04"/>
<rect x="503.4" y="120.6" width="3.1" height="0.7" fill="#238b45" opacity="0.02"/>
<rect x="536.4" y="143.6" width="3.5" height="0.8" fill="#238b45" opacity="0.11"/>
<rect x="489.7" y="143.6" width="68.6" height="0.8" fill="url(#gk)" opacity="0.36"/>
<rect x="531.1" y="144.4" width="9.8" height="0.8" fill="#238b45" opacity="0.09"/>
<rect x="491.3" y="144.4" width="65.6" height="0.8" fill="url(#gk)" opacity="0.30"/>
<rect x="491.5" y="145.2" width="2.8" height="0.8" fill="#238b45" opacity="0.07"/>
<rect x="508.8" y="145.2" width="5.1" height="0.8" fill="#238b45" opacity="0.06"/>
<rect x="484.1" y="145.2" width="79.7" height="0.8" fill="url(#gk)" opacity="0.32"/>
<rect x="563.8" y="146.0" width="5.5" height="0.8" fill="#238b45" opacity="0.02"/>
<rect x="490.1" y="146.0" width="65.7" height="0.8" fill="url(#gk)" opacity="0.31"/>
<rect x="529.2" y="146.8" width="8.3" height="0.8" fill="#238b45" opacity="0.09"/>
<rect x="523.0" y="146.8" width="4.3" height="0.8" fill="#238b45" opacity="0.09"/>
<rect x="514.9" y="146.8" width="9.5" height="0.8" fill="#238b45" opacity="0.04"/>
<rect x="483.4" y="146.8" width="78.2" height="0.8" fill="url(#gk)" opacity="0.26"/>
<rect x="528.6" y="147.6" width="2.7" height="0.8" fill="#238b45" opacity="0.07"/>
<rect x="516.1" y="147.6" width="3.5" height="0.8" fill="#238b45" opacity="0.06"/>
<rect x="530.5" y="147.6" width="6.2" height="0.8" fill="#238b45" opacity="0.06"/>
<rect x="487.2" y="147.6" width="72.1" height="0.8" fill="url(#gk)" opacity="0.32"/>
<rect x="510.4" y="148.4" width="6.1" height="0.8" fill="#238b45" opacity="0.08"/>
<rect x="524.4" y="148.4" width="6.2" height="0.8" fill="#238b45" opacity="0.06"/>
<rect x="483.3" y="148.4" width="76.5" height="0.8" fill="url(#gk)" opacity="0.24"/>
<rect x="497.2" y="149.2" width="4.3" height="0.8" fill="#238b45" opacity="0.05"/>
<rect x="512.7" y="149.2" width="5.5" height="0.8" fill="#238b45" opacity="0.11"/>
<rect x="491.5" y="149.2" width="63.8" height="0.8" fill="url(#gk)" opacity="0.28"/>
<rect x="481.4" y="150.0" width="85.7" height="0.8" fill="url(#gk)" opacity="0.15"/>
<rect x="532.8" y="150.8" width="3.0" height="0.8" fill="#238b45" opacity="0.04"/>
<rect x="536.1" y="150.8" width="8.0" height="0.8" fill="#238b45" opacity="0.07"/>
<rect x="522.0" y="150.8" width="9.9" height="0.8" fill="#238b45" opacity="0.06"/>
<rect x="480.9" y="150.8" width="85.7" height="0.8" fill="url(#gk)" opacity="0.18"/>
<rect x="544.7" y="151.6" width="4.1" height="0.8" fill="#238b45" opacity="0.05"/>
<rect x="515.6" y="151.6" width="5.8" height="0.8" fill="#238b45" opacity="0.08"/>
<rect x="514.5" y="151.6" width="8.0" height="0.8" fill="#238b45" opacity="0.06"/>
<rect x="491.7" y="151.6" width="62.9" height="0.8" fill="url(#gk)" opacity="0.20"/>
<rect x="496.4" y="152.4" width="50.8" height="0.8" fill="url(#gk)" opacity="0.14"/>
<rect x="479.8" y="153.2" width="2.7" height="0.8" fill="#238b45" opacity="0.01"/>
<rect x="517.3" y="153.2" width="2.0" height="0.8" fill="#238b45" opacity="0.09"/>
<rect x="530.6" y="153.2" width="7.1" height="0.8" fill="#238b45" opacity="0.05"/>
<rect x="494.3" y="153.2" width="55.0" height="0.8" fill="url(#gk)" opacity="0.19"/>
<rect x="492.7" y="154.0" width="62.4" height="0.8" fill="url(#gk)" opacity="0.13"/>
<rect x="490.5" y="154.8" width="64.4" height="0.8" fill="url(#gk)" opacity="0.09"/>
<rect x="487.6" y="155.6" width="71.1" height="0.8" fill="url(#gk)" opacity="0.13"/>
<rect x="485.7" y="156.4" width="74.7" height="0.8" fill="url(#gk)" opacity="0.10"/>
<rect x="493.3" y="157.2" width="61.2" height="0.8" fill="url(#gk)" opacity="0.09"/>
<rect x="491.3" y="158.0" width="63.0" height="0.8" fill="url(#gk)" opacity="0.07"/>
<rect x="498.1" y="158.8" width="47.8" height="0.8" fill="url(#gk)" opacity="0.08"/>
<rect x="496.0" y="159.6" width="54.2" height="0.8" fill="url(#gk)" opacity="0.09"/>
<rect x="493.4" y="160.4" width="58.6" height="0.8" fill="url(#gk)" opacity="0.07"/>
<rect x="490.8" y="161.2" width="62.5" height="0.8" fill="url(#gk)" opacity="0.10"/>
<rect x="495.1" y="162.0" width="54.3" height="0.8" fill="url(#gk)" opacity="0.11"/>
<rect x="493.9" y="162.8" width="57.5" height="0.8" fill="url(#gk)" opacity="0.06"/>
<rect x="501.6" y="163.6" width="44.7" height="0.8" fill="url(#gk)" opacity="0.08"/>
<rect x="493.1" y="164.4" width="59.0" height="0.8" fill="url(#gk)" opacity="0.06"/>
<rect x="497.6" y="165.2" width="50.5" height="0.8" fill="url(#gk)" opacity="0.06"/>
<rect x="499.7" y="166.0" width="49.0" height="0.8" fill="url(#gk)" opacity="0.06"/>
<rect x="505.8" y="166.8" width="36.9" height="0.8" fill="url(#gk)" opacity="0.07"/>
<rect x="506.2" y="167.6" width="35.2" height="0.8" fill="url(#gk)" opacity="0.04"/>
<rect x="504.9" y="168.4" width="33.8" height="0.8" fill="url(#gk)" opacity="0.04"/>
<rect x="496.1" y="169.2" width="50.5" height="0.8" fill="url(#gk)" opacity="0.05"/>
<rect x="505.6" y="170.0" width="31.7" height="0.8" fill="url(#gk)" opacity="0.04"/>
<rect x="503.9" y="170.8" width="40.6" height="0.8" fill="url(#gk)" opacity="0.04"/>
<rect x="499.7" y="171.6" width="46.8" height="0.8" fill="url(#gk)" opacity="0.05"/>
<rect x="501.1" y="172.4" width="41.9" height="0.8" fill="url(#gk)" opacity="0.06"/>
<rect x="503.1" y="173.2" width="37.1" height="0.8" fill="url(#gk)" opacity="0.04"/>
<rect x="503.9" y="174.0" width="36.1" height="0.8" fill="url(#gk)" opacity="0.05"/>
<rect x="501.8" y="174.8" width="40.6" height="0.8" fill="url(#gk)" opacity="0.04"/>
<rect x="508.4" y="175.6" width="27.2" height="0.8" fill="url(#gk)" opacity="0.04"/>
<rect x="506.8" y="176.4" width="33.1" height="0.8" fill="url(#gk)" opacity="0.03"/>
<rect x="505.6" y="177.2" width="34.9" height="0.8" fill="url(#gk)" opacity="0.03"/>
<rect x="503.1" y="178.0" width="38.4" height="0.8" fill="url(#gk)" opacity="0.04"/>
<rect x="508.3" y="178.8" width="29.0" height="0.8" fill="url(#gk)" opacity="0.05"/>
<rect x="482.6" y="150.0" width="8.5" height="0.7" fill="#238b45" opacity="0.03"/>
<rect x="482.5" y="144.9" width="7.4" height="0.7" fill="#238b45" opacity="0.03"/>
<rect x="545.4" y="153.0" width="6.5" height="0.7" fill="#238b45" opacity="0.03"/>
<rect x="566.3" y="167.7" width="8.2" height="0.7" fill="#238b45" opacity="0.05"/>
<rect x="539.5" y="162.7" width="10.4" height="0.7" fill="#238b45" opacity="0.07"/>
<rect x="546.6" y="152.5" width="3.0" height="0.7" fill="#238b45" opacity="0.03"/>
<rect x="491.8" y="161.6" width="7.6" height="0.7" fill="#238b45" opacity="0.04"/>
<rect x="514.7" y="177.0" width="10.2" height="0.7" fill="#238b45" opacity="0.09"/>
<rect x="545.5" y="159.7" width="6.9" height="0.7" fill="#238b45" opacity="0.05"/>
<rect x="535.4" y="148.1" width="11.2" height="0.7" fill="#238b45" opacity="0.07"/>
<rect x="523.1" y="154.9" width="5.6" height="0.7" fill="#238b45" opacity="0.05"/>
<rect x="475.4" y="171.0" width="6.8" height="0.7" fill="#238b45" opacity="0.06"/>
<rect x="542.2" y="148.9" width="4.5" height="0.7" fill="#238b45" opacity="0.05"/>
<rect x="529.8" y="152.4" width="6.3" height="0.7" fill="#238b45" opacity="0.07"/>
<rect x="546.9" y="158.7" width="7.5" height="0.7" fill="#238b45" opacity="0.03"/>
<rect x="498.1" y="161.1" width="5.0" height="0.7" fill="#238b45" opacity="0.09"/>
<rect x="542.8" y="160.6" width="3.6" height="0.7" fill="#238b45" opacity="0.06"/>
<rect x="495.2" y="147.9" width="3.3" height="0.7" fill="#238b45" opacity="0.02"/>
<rect x="563.5" y="175.7" width="5.7" height="0.7" fill="#238b45" opacity="0.02"/>
<rect x="535.8" y="169.6" width="2.5" height="0.7" fill="#238b45" opacity="0.07"/>
<rect x="496.2" y="146.1" width="9.8" height="0.7" fill="#238b45" opacity="0.07"/>
<rect x="521.6" y="152.0" width="10.0" height="0.7" fill="#238b45" opacity="0.06"/>
<rect x="491.8" y="162.2" width="2.7" height="0.7" fill="#238b45" opacity="0.03"/>
<rect x="529.6" y="162.2" width="6.6" height="0.7" fill="#238b45" opacity="0.06"/>
<rect x="534.2" y="163.6" width="6.1" height="0.7" fill="#238b45" opacity="0.08"/>
<rect x="555.8" y="162.5" width="11.9" height="0.7" fill="#238b45" opacity="0.08"/>
<rect x="538.3" y="171.0" width="7.5" height="0.7" fill="#238b45" opacity="0.04"/>
<rect x="535.6" y="147.3" width="4.5" height="0.7" fill="#238b45" opacity="0.06"/>
<rect x="530.7" y="163.1" width="6.3" height="0.7" fill="#238b45" opacity="0.04"/>
<rect x="538.9" y="154.4" width="10.9" height="0.7" fill="#238b45" opacity="0.04"/>
<rect x="516.0" y="154.8" width="6.3" height="0.7" fill="#238b45" opacity="0.06"/>
<rect x="545.4" y="170.4" width="10.1" height="0.7" fill="#238b45" opacity="0.07"/>
<rect x="516.1" y="178.0" width="6.5" height="0.7" fill="#238b45" opacity="0.07"/>
<rect x="551.1" y="154.8" width="6.2" height="0.7" fill="#238b45" opacity="0.06"/>
<rect x="508.3" y="162.0" width="2.1" height="0.7" fill="#238b45" opacity="0.04"/>
<rect x="562.3" y="160.5" width="3.4" height="0.7" fill="#238b45" opacity="0.08"/>
<rect x="547.6" y="178.0" width="4.8" height="0.7" fill="#238b45" opacity="0.02"/>
<rect x="481.1" y="174.8" width="5.0" height="0.7" fill="#238b45" opacity="0.09"/>
<rect x="550.6" y="167.5" width="10.3" height="0.7" fill="#238b45" opacity="0.03"/>
<rect x="483.5" y="161.5" width="5.8" height="0.7" fill="#238b45" opacity="0.05"/>
<rect x="501.4" y="172.5" width="8.7" height="0.7" fill="#238b45" opacity="0.03"/>
<rect x="480.2" y="152.8" width="7.8" height="0.7" fill="#238b45" opacity="0.06"/>
<rect x="513.4" y="168.9" width="11.4" height="0.7" fill="#238b45" opacity="0.07"/>
<rect x="555.2" y="163.8" width="3.8" height="0.7" fill="#238b45" opacity="0.04"/>
<rect x="529.9" y="163.2" width="11.6" height="0.7" fill="#238b45" opacity="0.07"/>
<rect x="561.7" y="145.3" width="6.7" height="0.7" fill="#238b45" opacity="0.03"/>
<rect x="532.6" y="170.6" width="10.5" height="0.7" fill="#238b45" opacity="0.06"/>
<rect x="518.1" y="152.7" width="6.7" height="0.7" fill="#238b45" opacity="0.04"/>
<rect x="488.5" y="164.2" width="4.5" height="0.7" fill="#238b45" opacity="0.03"/>
<rect x="523.1" y="144.7" width="9.4" height="0.7" fill="#238b45" opacity="0.05"/>
<rect x="530.8" y="175.5" width="8.6" height="0.7" fill="#238b45" opacity="0.04"/>
<rect x="506.8" y="175.4" width="10.5" height="0.7" fill="#238b45" opacity="0.04"/>
</svg>
<rect x="474.8" y="55.2" width="96.0" height="124.8" fill="none" stroke="#000" stroke-width="1.3"/>
<line x1="474.8" y1="80.9" x2="570.8" y2="80.9" stroke="#000" stroke-width="1.8"/>
<line x1="474.8" y1="142.7" x2="570.8" y2="142.7" stroke="#000" stroke-width="1.8"/>
<line x1="474.8" y1="180.0" x2="474.8" y2="183.0" stroke="#000" stroke-width="0.8"/>
<line x1="522.8" y1="180.0" x2="522.8" y2="183.0" stroke="#000" stroke-width="0.8"/>
<line x1="570.8" y1="180.0" x2="570.8" y2="183.0" stroke="#000" stroke-width="0.8"/>
<text x="475.3" y="193" font-size="8.2" text-anchor="start" fill="#000" >-10kb</text>
<text x="523.2" y="193" font-size="8.2" text-anchor="middle" fill="#000" >TSS</text>
<text x="571.2" y="193" font-size="8.2" text-anchor="end" fill="#000" >10kb</text>
<rect x="576.6" y="55.2" width="96.0" height="124.8" fill="#f3f9f0"/>
<svg x="576.6" y="55.2" width="96.0" height="124.8" viewBox="576.6 55.2 96.0 124.8" overflow="hidden">
<rect x="576.6" y="56.1" width="96.0" height="0.8" fill="url(#gk)" opacity="0.29"/>
<rect x="608.9" y="56.1" width="2.9" height="0.8" fill="#238b45" opacity="0.29"/>
<rect x="610.2" y="56.1" width="4.4" height="0.8" fill="#238b45" opacity="0.27"/>
<rect x="636.2" y="56.1" width="3.3" height="0.8" fill="#238b45" opacity="0.44"/>
<rect x="570.6" y="56.1" width="106.7" height="0.8" fill="url(#gk)" opacity="1.00"/>
<rect x="576.6" y="56.9" width="96.0" height="0.8" fill="url(#gk)" opacity="0.25"/>
<rect x="641.8" y="56.9" width="8.7" height="0.8" fill="#238b45" opacity="0.38"/>
<rect x="583.7" y="56.9" width="84.5" height="0.8" fill="url(#gk)" opacity="1.00"/>
<rect x="576.6" y="57.7" width="96.0" height="0.8" fill="url(#gk)" opacity="0.18"/>
<rect x="597.6" y="57.7" width="6.5" height="0.8" fill="#238b45" opacity="0.17"/>
<rect x="584.7" y="57.7" width="5.9" height="0.8" fill="#238b45" opacity="0.18"/>
<rect x="574.1" y="57.7" width="98.1" height="0.8" fill="url(#gk)" opacity="0.75"/>
<rect x="576.6" y="58.5" width="96.0" height="0.8" fill="url(#gk)" opacity="0.16"/>
<rect x="655.0" y="58.5" width="4.6" height="0.8" fill="#238b45" opacity="0.15"/>
<rect x="632.4" y="58.5" width="8.0" height="0.8" fill="#238b45" opacity="0.19"/>
<rect x="638.9" y="58.5" width="6.2" height="0.8" fill="#238b45" opacity="0.32"/>
<rect x="588.5" y="58.5" width="71.2" height="0.8" fill="url(#gk)" opacity="0.90"/>
<rect x="576.6" y="59.3" width="96.0" height="0.8" fill="url(#gk)" opacity="0.28"/>
<rect x="628.3" y="59.3" width="4.6" height="0.8" fill="#238b45" opacity="0.25"/>
<rect x="619.3" y="59.3" width="6.0" height="0.8" fill="#238b45" opacity="0.24"/>
<rect x="620.2" y="59.3" width="2.4" height="0.8" fill="#238b45" opacity="0.13"/>
<rect x="589.0" y="59.3" width="70.1" height="0.8" fill="url(#gk)" opacity="0.63"/>
<rect x="576.6" y="60.1" width="96.0" height="0.8" fill="url(#gk)" opacity="0.11"/>
<rect x="614.0" y="60.1" width="7.4" height="0.8" fill="#238b45" opacity="0.21"/>
<rect x="586.6" y="60.1" width="78.4" height="0.8" fill="url(#gk)" opacity="0.52"/>
<rect x="576.6" y="60.9" width="96.0" height="0.8" fill="url(#gk)" opacity="0.12"/>
<rect x="639.7" y="60.9" width="4.4" height="0.8" fill="#238b45" opacity="0.28"/>
<rect x="642.5" y="60.9" width="6.0" height="0.8" fill="#238b45" opacity="0.21"/>
<rect x="616.4" y="60.9" width="8.6" height="0.8" fill="#238b45" opacity="0.21"/>
<rect x="573.6" y="60.9" width="103.9" height="0.8" fill="url(#gk)" opacity="0.74"/>
<rect x="576.6" y="61.7" width="96.0" height="0.8" fill="url(#gk)" opacity="0.08"/>
<rect x="623.8" y="61.7" width="7.7" height="0.8" fill="#238b45" opacity="0.13"/>
<rect x="585.2" y="61.7" width="81.0" height="0.8" fill="url(#gk)" opacity="0.43"/>
<rect x="576.6" y="62.5" width="96.0" height="0.8" fill="url(#gk)" opacity="0.02"/>
<rect x="606.6" y="62.5" width="3.4" height="0.8" fill="#238b45" opacity="0.15"/>
<rect x="609.8" y="62.5" width="5.5" height="0.8" fill="#238b45" opacity="0.17"/>
<rect x="583.6" y="62.5" width="79.2" height="0.8" fill="url(#gk)" opacity="0.48"/>
<rect x="608.7" y="63.3" width="8.3" height="0.8" fill="#238b45" opacity="0.14"/>
<rect x="627.0" y="63.3" width="4.3" height="0.8" fill="#238b45" opacity="0.13"/>
<rect x="590.9" y="63.3" width="64.4" height="0.8" fill="url(#gk)" opacity="0.47"/>
<rect x="590.7" y="64.1" width="6.3" height="0.8" fill="#238b45" opacity="0.05"/>
<rect x="614.4" y="64.1" width="2.8" height="0.8" fill="#238b45" opacity="0.10"/>
<rect x="595.0" y="64.1" width="59.8" height="0.8" fill="url(#gk)" opacity="0.35"/>
<rect x="594.1" y="64.9" width="8.6" height="0.8" fill="#238b45" opacity="0.10"/>
<rect x="631.3" y="64.9" width="3.9" height="0.8" fill="#238b45" opacity="0.20"/>
<rect x="584.4" y="64.9" width="81.6" height="0.8" fill="url(#gk)" opacity="0.47"/>
<rect x="651.9" y="65.7" width="4.6" height="0.8" fill="#238b45" opacity="0.11"/>
<rect x="615.8" y="65.7" width="6.1" height="0.8" fill="#238b45" opacity="0.23"/>
<rect x="585.0" y="65.7" width="78.4" height="0.8" fill="url(#gk)" opacity="0.57"/>
<rect x="609.1" y="66.5" width="6.5" height="0.8" fill="#238b45" opacity="0.20"/>
<rect x="622.6" y="66.5" width="8.9" height="0.8" fill="#238b45" opacity="0.18"/>
<rect x="618.7" y="66.5" width="7.3" height="0.8" fill="#238b45" opacity="0.26"/>
<rect x="589.9" y="66.5" width="70.1" height="0.8" fill="url(#gk)" opacity="0.55"/>
<rect x="614.0" y="67.3" width="9.2" height="0.8" fill="#238b45" opacity="0.11"/>
<rect x="635.6" y="67.3" width="9.7" height="0.8" fill="#238b45" opacity="0.16"/>
<rect x="590.1" y="67.3" width="70.3" height="0.8" fill="url(#gk)" opacity="0.43"/>
<rect x="608.3" y="68.1" width="9.6" height="0.8" fill="#238b45" opacity="0.08"/>
<rect x="602.3" y="68.1" width="3.3" height="0.8" fill="#238b45" opacity="0.07"/>
<rect x="582.3" y="68.1" width="82.8" height="0.8" fill="url(#gk)" opacity="0.38"/>
<rect x="619.7" y="68.9" width="2.5" height="0.8" fill="#238b45" opacity="0.06"/>
<rect x="617.8" y="68.9" width="9.4" height="0.8" fill="#238b45" opacity="0.06"/>
<rect x="606.3" y="68.9" width="3.0" height="0.8" fill="#238b45" opacity="0.06"/>
<rect x="600.6" y="68.9" width="50.8" height="0.8" fill="url(#gk)" opacity="0.29"/>
<rect x="616.4" y="69.7" width="7.5" height="0.8" fill="#238b45" opacity="0.07"/>
<rect x="586.8" y="69.7" width="73.7" height="0.8" fill="url(#gk)" opacity="0.44"/>
<rect x="625.5" y="70.5" width="7.0" height="0.8" fill="#238b45" opacity="0.11"/>
<rect x="629.7" y="70.5" width="7.9" height="0.8" fill="#238b45" opacity="0.05"/>
<rect x="628.1" y="70.5" width="2.3" height="0.8" fill="#238b45" opacity="0.09"/>
<rect x="601.9" y="70.5" width="47.5" height="0.8" fill="url(#gk)" opacity="0.30"/>
<rect x="624.8" y="71.3" width="5.1" height="0.8" fill="#238b45" opacity="0.16"/>
<rect x="598.4" y="71.3" width="51.8" height="0.8" fill="url(#gk)" opacity="0.38"/>
<rect x="589.6" y="72.1" width="9.8" height="0.8" fill="#238b45" opacity="0.06"/>
<rect x="618.7" y="72.1" width="3.8" height="0.8" fill="#238b45" opacity="0.10"/>
<rect x="589.8" y="72.1" width="67.6" height="0.8" fill="url(#gk)" opacity="0.32"/>
<rect x="610.3" y="72.9" width="9.3" height="0.8" fill="#238b45" opacity="0.09"/>
<rect x="635.0" y="72.9" width="7.2" height="0.8" fill="#238b45" opacity="0.09"/>
<rect x="603.3" y="72.9" width="44.2" height="0.8" fill="url(#gk)" opacity="0.30"/>
<rect x="634.5" y="73.7" width="5.3" height="0.8" fill="#238b45" opacity="0.05"/>
<rect x="635.3" y="73.7" width="5.5" height="0.8" fill="#238b45" opacity="0.05"/>
<rect x="591.0" y="73.7" width="66.8" height="0.8" fill="url(#gk)" opacity="0.30"/>
<rect x="617.6" y="74.5" width="4.4" height="0.8" fill="#238b45" opacity="0.09"/>
<rect x="595.1" y="74.5" width="61.6" height="0.8" fill="url(#gk)" opacity="0.28"/>
<rect x="624.4" y="75.3" width="7.3" height="0.8" fill="#238b45" opacity="0.09"/>
<rect x="614.4" y="75.3" width="3.7" height="0.8" fill="#238b45" opacity="0.07"/>
<rect x="606.8" y="75.3" width="6.4" height="0.8" fill="#238b45" opacity="0.06"/>
<rect x="592.8" y="75.3" width="61.0" height="0.8" fill="url(#gk)" opacity="0.31"/>
<rect x="635.5" y="76.1" width="8.3" height="0.8" fill="#238b45" opacity="0.04"/>
<rect x="596.9" y="76.1" width="54.0" height="0.8" fill="url(#gk)" opacity="0.32"/>
<rect x="615.9" y="76.9" width="5.5" height="0.8" fill="#238b45" opacity="0.05"/>
<rect x="604.4" y="76.9" width="41.3" height="0.8" fill="url(#gk)" opacity="0.24"/>
<rect x="614.7" y="77.7" width="5.9" height="0.8" fill="#238b45" opacity="0.07"/>
<rect x="600.9" y="77.7" width="44.9" height="0.8" fill="url(#gk)" opacity="0.26"/>
<rect x="612.0" y="78.5" width="6.7" height="0.8" fill="#238b45" opacity="0.05"/>
<rect x="626.5" y="78.5" width="4.2" height="0.8" fill="#238b45" opacity="0.06"/>
<rect x="618.9" y="78.5" width="3.6" height="0.8" fill="#238b45" opacity="0.06"/>
<rect x="603.7" y="78.5" width="43.2" height="0.8" fill="url(#gk)" opacity="0.16"/>
<rect x="635.5" y="79.3" width="8.3" height="0.8" fill="#238b45" opacity="0.04"/>
<rect x="618.8" y="79.3" width="3.0" height="0.8" fill="#238b45" opacity="0.05"/>
<rect x="603.1" y="79.3" width="40.6" height="0.8" fill="url(#gk)" opacity="0.27"/>
<rect x="631.6" y="80.1" width="8.5" height="0.8" fill="#238b45" opacity="0.05"/>
<rect x="619.6" y="80.1" width="2.4" height="0.8" fill="#238b45" opacity="0.04"/>
<rect x="626.1" y="80.1" width="9.0" height="0.8" fill="#238b45" opacity="0.05"/>
<rect x="605.2" y="80.1" width="35.8" height="0.8" fill="url(#gk)" opacity="0.23"/>
<rect x="611.6" y="79.4" width="9.7" height="0.7" fill="#238b45" opacity="0.05"/>
<rect x="584.0" y="79.2" width="6.7" height="0.7" fill="#238b45" opacity="0.07"/>
<rect x="661.0" y="56.8" width="5.4" height="0.7" fill="#238b45" opacity="0.07"/>
<rect x="583.8" y="58.1" width="2.9" height="0.7" fill="#238b45" opacity="0.08"/>
<rect x="660.9" y="78.5" width="7.3" height="0.7" fill="#238b45" opacity="0.03"/>
<rect x="623.2" y="74.6" width="9.8" height="0.7" fill="#238b45" opacity="0.06"/>
<rect x="592.3" y="69.6" width="3.4" height="0.7" fill="#238b45" opacity="0.03"/>
<rect x="603.2" y="66.4" width="11.5" height="0.7" fill="#238b45" opacity="0.02"/>
<rect x="587.6" y="74.2" width="3.0" height="0.7" fill="#238b45" opacity="0.08"/>
<rect x="631.3" y="61.4" width="7.8" height="0.7" fill="#238b45" opacity="0.05"/>
<rect x="589.5" y="64.5" width="9.0" height="0.7" fill="#238b45" opacity="0.05"/>
<rect x="651.9" y="70.4" width="2.8" height="0.7" fill="#238b45" opacity="0.05"/>
<rect x="662.4" y="64.6" width="8.2" height="0.7" fill="#238b45" opacity="0.03"/>
<rect x="577.9" y="67.1" width="7.1" height="0.7" fill="#238b45" opacity="0.02"/>
<rect x="623.4" y="59.5" width="7.4" height="0.7" fill="#238b45" opacity="0.03"/>
<rect x="605.3" y="70.0" width="9.0" height="0.7" fill="#238b45" opacity="0.02"/>
<rect x="617.9" y="76.1" width="3.7" height="0.7" fill="#238b45" opacity="0.04"/>
<rect x="585.3" y="71.1" width="11.1" height="0.7" fill="#238b45" opacity="0.04"/>
<rect x="583.3" y="65.9" width="6.6" height="0.7" fill="#238b45" opacity="0.09"/>
<rect x="593.0" y="60.6" width="7.5" height="0.7" fill="#238b45" opacity="0.06"/>
<rect x="596.8" y="59.6" width="8.0" height="0.7" fill="#238b45" opacity="0.04"/>
<rect x="640.5" y="56.9" width="10.7" height="0.7" fill="#238b45" opacity="0.08"/>
<rect x="596.2" y="76.5" width="5.1" height="0.7" fill="#238b45" opacity="0.06"/>
<rect x="634.2" y="70.8" width="7.5" height="0.7" fill="#238b45" opacity="0.04"/>
<rect x="584.4" y="61.9" width="2.6" height="0.7" fill="#238b45" opacity="0.06"/>
<rect x="657.2" y="58.2" width="11.6" height="0.7" fill="#238b45" opacity="0.03"/>
<rect x="634.0" y="79.1" width="2.1" height="0.7" fill="#238b45" opacity="0.05"/>
<rect x="605.0" y="64.8" width="2.7" height="0.7" fill="#238b45" opacity="0.04"/>
<rect x="617.8" y="56.6" width="6.8" height="0.7" fill="#238b45" opacity="0.04"/>
<rect x="658.1" y="78.1" width="7.0" height="0.7" fill="#238b45" opacity="0.08"/>
<rect x="645.9" y="64.6" width="9.8" height="0.7" fill="#238b45" opacity="0.04"/>
<rect x="608.9" y="73.7" width="3.7" height="0.7" fill="#238b45" opacity="0.05"/>
<rect x="642.7" y="58.9" width="4.5" height="0.7" fill="#238b45" opacity="0.05"/>
<rect x="631.7" y="75.4" width="11.1" height="0.7" fill="#238b45" opacity="0.07"/>
<rect x="644.8" y="72.6" width="8.9" height="0.7" fill="#238b45" opacity="0.08"/>
<rect x="603.8" y="81.8" width="6.2" height="0.8" fill="#238b45" opacity="0.09"/>
<rect x="628.3" y="81.8" width="2.5" height="0.8" fill="#238b45" opacity="0.16"/>
<rect x="624.9" y="81.8" width="6.0" height="0.8" fill="#238b45" opacity="0.12"/>
<rect x="580.8" y="81.8" width="85.6" height="0.8" fill="url(#gk)" opacity="0.45"/>
<rect x="638.3" y="82.6" width="5.8" height="0.8" fill="#238b45" opacity="0.06"/>
<rect x="605.6" y="82.6" width="2.7" height="0.8" fill="#238b45" opacity="0.12"/>
<rect x="576.9" y="82.6" width="6.9" height="0.8" fill="#238b45" opacity="0.04"/>
<rect x="585.3" y="82.6" width="78.5" height="0.8" fill="url(#gk)" opacity="0.41"/>
<rect x="619.0" y="83.4" width="5.8" height="0.8" fill="#238b45" opacity="0.12"/>
<rect x="662.4" y="83.4" width="9.4" height="0.8" fill="#238b45" opacity="0.06"/>
<rect x="574.7" y="83.4" width="97.1" height="0.8" fill="url(#gk)" opacity="0.26"/>
<rect x="590.7" y="84.2" width="3.3" height="0.8" fill="#238b45" opacity="0.02"/>
<rect x="585.3" y="84.2" width="80.9" height="0.8" fill="url(#gk)" opacity="0.18"/>
<rect x="597.9" y="85.0" width="9.7" height="0.8" fill="#238b45" opacity="0.03"/>
<rect x="584.2" y="85.0" width="81.5" height="0.8" fill="url(#gk)" opacity="0.18"/>
<rect x="619.9" y="85.8" width="3.4" height="0.8" fill="#238b45" opacity="0.05"/>
<rect x="628.5" y="85.8" width="8.7" height="0.8" fill="#238b45" opacity="0.04"/>
<rect x="589.8" y="85.8" width="68.2" height="0.8" fill="url(#gk)" opacity="0.15"/>
<rect x="581.3" y="86.6" width="85.3" height="0.8" fill="url(#gk)" opacity="0.10"/>
<rect x="591.8" y="87.4" width="66.7" height="0.8" fill="url(#gk)" opacity="0.11"/>
<rect x="588.6" y="88.2" width="69.3" height="0.8" fill="url(#gk)" opacity="0.07"/>
<rect x="587.7" y="89.0" width="72.0" height="0.8" fill="url(#gk)" opacity="0.05"/>
<rect x="596.0" y="89.8" width="55.8" height="0.8" fill="url(#gk)" opacity="0.06"/>
<rect x="584.4" y="90.6" width="78.0" height="0.8" fill="url(#gk)" opacity="0.03"/>
<rect x="588.6" y="91.4" width="72.7" height="0.8" fill="url(#gk)" opacity="0.04"/>
<rect x="596.6" y="92.2" width="58.4" height="0.8" fill="url(#gk)" opacity="0.04"/>
<rect x="590.2" y="93.0" width="70.5" height="0.8" fill="url(#gk)" opacity="0.03"/>
<rect x="583.8" y="93.8" width="81.9" height="0.8" fill="url(#gk)" opacity="0.04"/>
<rect x="597.3" y="94.6" width="52.9" height="0.8" fill="url(#gk)" opacity="0.03"/>
<rect x="597.4" y="96.2" width="53.4" height="0.8" fill="url(#gk)" opacity="0.02"/>
<rect x="583.5" y="97.0" width="79.6" height="0.8" fill="url(#gk)" opacity="0.02"/>
<rect x="588.9" y="98.6" width="68.5" height="0.8" fill="url(#gk)" opacity="0.02"/>
<rect x="584.5" y="100.2" width="80.4" height="0.8" fill="url(#gk)" opacity="0.02"/>
<rect x="598.5" y="101.0" width="53.8" height="0.8" fill="url(#gk)" opacity="0.02"/>
<rect x="586.6" y="101.8" width="73.9" height="0.8" fill="url(#gk)" opacity="0.02"/>
<rect x="596.7" y="102.6" width="54.0" height="0.8" fill="url(#gk)" opacity="0.02"/>
<rect x="585.2" y="103.4" width="76.0" height="0.8" fill="url(#gk)" opacity="0.03"/>
<rect x="591.5" y="104.2" width="65.6" height="0.8" fill="url(#gk)" opacity="0.02"/>
<rect x="587.8" y="107.4" width="73.0" height="0.8" fill="url(#gk)" opacity="0.03"/>
<rect x="598.8" y="110.6" width="53.2" height="0.8" fill="url(#gk)" opacity="0.02"/>
<rect x="602.1" y="112.2" width="42.2" height="0.8" fill="url(#gk)" opacity="0.02"/>
<rect x="594.1" y="115.4" width="60.7" height="0.8" fill="url(#gk)" opacity="0.02"/>
<rect x="596.3" y="120.2" width="54.5" height="0.8" fill="url(#gk)" opacity="0.02"/>
<rect x="605.2" y="121.0" width="35.9" height="0.8" fill="url(#gk)" opacity="0.02"/>
<rect x="605.3" y="123.4" width="36.0" height="0.8" fill="url(#gk)" opacity="0.02"/>
<rect x="605.2" y="124.2" width="37.8" height="0.8" fill="url(#gk)" opacity="0.02"/>
<rect x="607.1" y="129.0" width="32.8" height="0.8" fill="url(#gk)" opacity="0.02"/>
<rect x="607.0" y="136.2" width="38.0" height="0.8" fill="url(#gk)" opacity="0.02"/>
<rect x="609.5" y="137.0" width="31.1" height="0.8" fill="url(#gk)" opacity="0.02"/>
<rect x="605.5" y="137.8" width="37.0" height="0.8" fill="url(#gk)" opacity="0.02"/>
<rect x="606.7" y="138.6" width="33.3" height="0.8" fill="url(#gk)" opacity="0.02"/>
<rect x="605.1" y="139.4" width="36.1" height="0.8" fill="url(#gk)" opacity="0.02"/>
<rect x="607.8" y="141.0" width="35.0" height="0.8" fill="url(#gk)" opacity="0.02"/>
<rect x="608.9" y="141.8" width="32.8" height="0.8" fill="url(#gk)" opacity="0.02"/>
<rect x="650.1" y="107.5" width="3.3" height="0.7" fill="#238b45" opacity="0.09"/>
<rect x="656.5" y="127.7" width="10.9" height="0.7" fill="#238b45" opacity="0.05"/>
<rect x="633.8" y="139.4" width="7.0" height="0.7" fill="#238b45" opacity="0.08"/>
<rect x="650.2" y="102.1" width="6.4" height="0.7" fill="#238b45" opacity="0.08"/>
<rect x="625.4" y="123.2" width="10.0" height="0.7" fill="#238b45" opacity="0.04"/>
<rect x="609.3" y="141.4" width="7.9" height="0.7" fill="#238b45" opacity="0.03"/>
<rect x="638.1" y="110.8" width="11.1" height="0.7" fill="#238b45" opacity="0.05"/>
<rect x="662.6" y="108.5" width="7.8" height="0.7" fill="#238b45" opacity="0.07"/>
<rect x="610.3" y="104.1" width="4.3" height="0.7" fill="#238b45" opacity="0.08"/>
<rect x="589.2" y="141.0" width="5.1" height="0.7" fill="#238b45" opacity="0.03"/>
<rect x="604.0" y="87.1" width="4.6" height="0.7" fill="#238b45" opacity="0.07"/>
<rect x="664.6" y="116.1" width="9.9" height="0.7" fill="#238b45" opacity="0.03"/>
<rect x="611.6" y="108.0" width="9.6" height="0.7" fill="#238b45" opacity="0.04"/>
<rect x="622.4" y="87.4" width="3.4" height="0.7" fill="#238b45" opacity="0.02"/>
<rect x="640.9" y="120.4" width="7.8" height="0.7" fill="#238b45" opacity="0.06"/>
<rect x="665.3" y="94.6" width="5.2" height="0.7" fill="#238b45" opacity="0.05"/>
<rect x="643.2" y="139.6" width="2.6" height="0.7" fill="#238b45" opacity="0.07"/>
<rect x="589.7" y="136.5" width="3.0" height="0.7" fill="#238b45" opacity="0.08"/>
<rect x="595.5" y="84.7" width="5.6" height="0.7" fill="#238b45" opacity="0.03"/>
<rect x="660.7" y="89.5" width="6.4" height="0.7" fill="#238b45" opacity="0.03"/>
<rect x="650.2" y="102.0" width="3.8" height="0.7" fill="#238b45" opacity="0.04"/>
<rect x="630.1" y="97.6" width="9.1" height="0.7" fill="#238b45" opacity="0.05"/>
<rect x="651.0" y="129.4" width="2.8" height="0.7" fill="#238b45" opacity="0.07"/>
<rect x="656.6" y="112.1" width="4.8" height="0.7" fill="#238b45" opacity="0.02"/>
<rect x="638.8" y="136.4" width="4.5" height="0.7" fill="#238b45" opacity="0.07"/>
<rect x="597.8" y="113.4" width="3.7" height="0.7" fill="#238b45" opacity="0.05"/>
<rect x="636.2" y="126.6" width="5.9" height="0.7" fill="#238b45" opacity="0.09"/>
<rect x="652.9" y="136.2" width="7.5" height="0.7" fill="#238b45" opacity="0.09"/>
<rect x="585.9" y="140.8" width="11.1" height="0.7" fill="#238b45" opacity="0.07"/>
<rect x="603.6" y="109.9" width="8.1" height="0.7" fill="#238b45" opacity="0.07"/>
<rect x="633.3" y="123.5" width="2.8" height="0.7" fill="#238b45" opacity="0.05"/>
<rect x="608.6" y="117.4" width="10.6" height="0.7" fill="#238b45" opacity="0.08"/>
<rect x="582.4" y="139.3" width="8.0" height="0.7" fill="#238b45" opacity="0.09"/>
<rect x="600.3" y="103.4" width="8.6" height="0.7" fill="#238b45" opacity="0.03"/>
<rect x="591.8" y="113.5" width="3.6" height="0.7" fill="#238b45" opacity="0.07"/>
<rect x="639.5" y="120.8" width="11.2" height="0.7" fill="#238b45" opacity="0.03"/>
<rect x="598.4" y="134.1" width="5.7" height="0.7" fill="#238b45" opacity="0.09"/>
<rect x="641.1" y="83.0" width="2.3" height="0.7" fill="#238b45" opacity="0.06"/>
<rect x="627.9" y="138.7" width="9.1" height="0.7" fill="#238b45" opacity="0.08"/>
<rect x="626.0" y="89.4" width="5.7" height="0.7" fill="#238b45" opacity="0.04"/>
<rect x="660.9" y="132.2" width="10.5" height="0.7" fill="#238b45" opacity="0.04"/>
<rect x="658.2" y="111.4" width="7.0" height="0.7" fill="#238b45" opacity="0.09"/>
<rect x="594.6" y="117.7" width="6.1" height="0.7" fill="#238b45" opacity="0.07"/>
<rect x="650.0" y="84.3" width="10.1" height="0.7" fill="#238b45" opacity="0.08"/>
<rect x="580.5" y="109.2" width="9.3" height="0.7" fill="#238b45" opacity="0.03"/>
<rect x="579.4" y="114.0" width="2.1" height="0.7" fill="#238b45" opacity="0.04"/>
<rect x="646.5" y="120.2" width="7.5" height="0.7" fill="#238b45" opacity="0.02"/>
<rect x="645.0" y="96.5" width="6.5" height="0.7" fill="#238b45" opacity="0.05"/>
<rect x="624.4" y="128.6" width="11.9" height="0.7" fill="#238b45" opacity="0.03"/>
<rect x="607.0" y="115.4" width="2.3" height="0.7" fill="#238b45" opacity="0.07"/>
<rect x="636.6" y="117.5" width="2.4" height="0.7" fill="#238b45" opacity="0.07"/>
<rect x="617.2" y="140.7" width="2.4" height="0.7" fill="#238b45" opacity="0.04"/>
<rect x="644.3" y="120.9" width="4.9" height="0.7" fill="#238b45" opacity="0.05"/>
<rect x="658.1" y="107.0" width="9.6" height="0.7" fill="#238b45" opacity="0.09"/>
<rect x="617.2" y="135.1" width="2.8" height="0.7" fill="#238b45" opacity="0.03"/>
<rect x="586.9" y="87.9" width="8.4" height="0.7" fill="#238b45" opacity="0.03"/>
<rect x="588.1" y="119.5" width="10.6" height="0.7" fill="#238b45" opacity="0.02"/>
<rect x="649.8" y="123.1" width="10.6" height="0.7" fill="#238b45" opacity="0.06"/>
<rect x="615.2" y="126.7" width="2.8" height="0.7" fill="#238b45" opacity="0.06"/>
<rect x="650.2" y="110.4" width="10.2" height="0.7" fill="#238b45" opacity="0.07"/>
<rect x="665.3" y="86.0" width="5.4" height="0.7" fill="#238b45" opacity="0.09"/>
<rect x="645.3" y="138.2" width="4.5" height="0.7" fill="#238b45" opacity="0.03"/>
<rect x="608.9" y="130.8" width="9.2" height="0.7" fill="#238b45" opacity="0.09"/>
<rect x="664.5" y="104.3" width="6.8" height="0.7" fill="#238b45" opacity="0.09"/>
<rect x="635.9" y="111.5" width="2.2" height="0.7" fill="#238b45" opacity="0.05"/>
<rect x="616.0" y="113.8" width="2.9" height="0.7" fill="#238b45" opacity="0.07"/>
<rect x="661.7" y="129.8" width="3.1" height="0.7" fill="#238b45" opacity="0.06"/>
<rect x="652.9" y="118.6" width="2.6" height="0.7" fill="#238b45" opacity="0.04"/>
<rect x="582.3" y="122.5" width="6.0" height="0.7" fill="#238b45" opacity="0.07"/>
<rect x="627.9" y="135.7" width="6.8" height="0.7" fill="#238b45" opacity="0.08"/>
<rect x="619.1" y="102.3" width="2.7" height="0.7" fill="#238b45" opacity="0.02"/>
<rect x="608.3" y="91.5" width="6.7" height="0.7" fill="#238b45" opacity="0.03"/>
<rect x="587.5" y="119.0" width="4.2" height="0.7" fill="#238b45" opacity="0.07"/>
<rect x="614.1" y="116.3" width="6.3" height="0.7" fill="#238b45" opacity="0.07"/>
<rect x="634.1" y="87.6" width="8.7" height="0.7" fill="#238b45" opacity="0.04"/>
<rect x="605.7" y="109.7" width="11.8" height="0.7" fill="#238b45" opacity="0.05"/>
<rect x="612.4" y="85.5" width="6.4" height="0.7" fill="#238b45" opacity="0.02"/>
<rect x="656.5" y="93.8" width="8.0" height="0.7" fill="#238b45" opacity="0.05"/>
<rect x="659.2" y="109.1" width="3.6" height="0.7" fill="#238b45" opacity="0.05"/>
<rect x="628.4" y="126.0" width="11.1" height="0.7" fill="#238b45" opacity="0.08"/>
<rect x="653.9" y="133.0" width="10.6" height="0.7" fill="#238b45" opacity="0.03"/>
<rect x="630.2" y="114.3" width="11.0" height="0.7" fill="#238b45" opacity="0.08"/>
<rect x="628.4" y="83.6" width="11.6" height="0.7" fill="#238b45" opacity="0.04"/>
<rect x="658.4" y="99.5" width="4.4" height="0.7" fill="#238b45" opacity="0.03"/>
<rect x="618.5" y="99.3" width="6.6" height="0.7" fill="#238b45" opacity="0.05"/>
<rect x="647.5" y="83.6" width="6.0" height="0.7" fill="#238b45" opacity="0.04"/>
<rect x="613.6" y="143.6" width="5.3" height="0.8" fill="#238b45" opacity="0.09"/>
<rect x="604.2" y="143.6" width="5.3" height="0.8" fill="#238b45" opacity="0.09"/>
<rect x="617.3" y="143.6" width="6.0" height="0.8" fill="#238b45" opacity="0.07"/>
<rect x="588.7" y="143.6" width="72.4" height="0.8" fill="url(#gk)" opacity="0.30"/>
<rect x="617.2" y="144.4" width="7.9" height="0.8" fill="#238b45" opacity="0.15"/>
<rect x="611.0" y="144.4" width="7.8" height="0.8" fill="#238b45" opacity="0.08"/>
<rect x="618.6" y="144.4" width="5.0" height="0.8" fill="#238b45" opacity="0.14"/>
<rect x="580.0" y="144.4" width="87.8" height="0.8" fill="url(#gk)" opacity="0.40"/>
<rect x="641.8" y="145.2" width="4.6" height="0.8" fill="#238b45" opacity="0.14"/>
<rect x="623.8" y="145.2" width="7.2" height="0.8" fill="#238b45" opacity="0.18"/>
<rect x="639.8" y="145.2" width="5.0" height="0.8" fill="#238b45" opacity="0.17"/>
<rect x="585.6" y="145.2" width="78.3" height="0.8" fill="url(#gk)" opacity="0.50"/>
<rect x="614.0" y="146.0" width="4.7" height="0.8" fill="#238b45" opacity="0.09"/>
<rect x="579.6" y="146.0" width="91.3" height="0.8" fill="url(#gk)" opacity="0.30"/>
<rect x="606.2" y="146.8" width="4.3" height="0.8" fill="#238b45" opacity="0.04"/>
<rect x="608.3" y="146.8" width="5.5" height="0.8" fill="#238b45" opacity="0.08"/>
<rect x="585.5" y="146.8" width="78.4" height="0.8" fill="url(#gk)" opacity="0.21"/>
<rect x="612.6" y="147.6" width="4.8" height="0.8" fill="#238b45" opacity="0.17"/>
<rect x="643.2" y="147.6" width="8.0" height="0.8" fill="#238b45" opacity="0.14"/>
<rect x="635.8" y="147.6" width="6.5" height="0.8" fill="#238b45" opacity="0.09"/>
<rect x="582.3" y="147.6" width="84.1" height="0.8" fill="url(#gk)" opacity="0.44"/>
<rect x="605.3" y="148.4" width="9.4" height="0.8" fill="#238b45" opacity="0.16"/>
<rect x="604.5" y="148.4" width="7.7" height="0.8" fill="#238b45" opacity="0.13"/>
<rect x="586.7" y="148.4" width="73.3" height="0.8" fill="url(#gk)" opacity="0.41"/>
<rect x="627.9" y="149.2" width="2.8" height="0.8" fill="#238b45" opacity="0.09"/>
<rect x="624.2" y="149.2" width="5.6" height="0.8" fill="#238b45" opacity="0.12"/>
<rect x="614.4" y="149.2" width="5.0" height="0.8" fill="#238b45" opacity="0.04"/>
<rect x="593.1" y="149.2" width="63.1" height="0.8" fill="url(#gk)" opacity="0.28"/>
<rect x="625.8" y="150.0" width="6.9" height="0.8" fill="#238b45" opacity="0.03"/>
<rect x="624.7" y="150.0" width="7.9" height="0.8" fill="#238b45" opacity="0.07"/>
<rect x="598.0" y="150.0" width="7.4" height="0.8" fill="#238b45" opacity="0.04"/>
<rect x="590.9" y="150.0" width="66.2" height="0.8" fill="url(#gk)" opacity="0.20"/>
<rect x="617.5" y="150.8" width="6.3" height="0.8" fill="#238b45" opacity="0.05"/>
<rect x="597.9" y="150.8" width="7.8" height="0.8" fill="#238b45" opacity="0.05"/>
<rect x="586.2" y="150.8" width="78.7" height="0.8" fill="url(#gk)" opacity="0.17"/>
<rect x="602.8" y="151.6" width="5.9" height="0.8" fill="#238b45" opacity="0.03"/>
<rect x="587.1" y="151.6" width="72.3" height="0.8" fill="url(#gk)" opacity="0.22"/>
<rect x="586.6" y="152.4" width="76.8" height="0.8" fill="url(#gk)" opacity="0.15"/>
<rect x="633.0" y="153.2" width="4.0" height="0.8" fill="#238b45" opacity="0.07"/>
<rect x="617.2" y="153.2" width="4.9" height="0.8" fill="#238b45" opacity="0.06"/>
<rect x="649.4" y="153.2" width="5.5" height="0.8" fill="#238b45" opacity="0.05"/>
<rect x="583.3" y="153.2" width="81.1" height="0.8" fill="url(#gk)" opacity="0.21"/>
<rect x="640.4" y="154.0" width="6.6" height="0.8" fill="#238b45" opacity="0.03"/>
<rect x="623.5" y="154.0" width="8.7" height="0.8" fill="#238b45" opacity="0.09"/>
<rect x="629.0" y="154.0" width="8.1" height="0.8" fill="#238b45" opacity="0.10"/>
<rect x="598.8" y="154.0" width="51.6" height="0.8" fill="url(#gk)" opacity="0.26"/>
<rect x="617.8" y="154.8" width="6.2" height="0.8" fill="#238b45" opacity="0.05"/>
<rect x="634.0" y="154.8" width="4.4" height="0.8" fill="#238b45" opacity="0.04"/>
<rect x="597.4" y="154.8" width="54.3" height="0.8" fill="url(#gk)" opacity="0.16"/>
<rect x="593.5" y="155.6" width="62.6" height="0.8" fill="url(#gk)" opacity="0.13"/>
<rect x="637.3" y="156.4" width="9.5" height="0.8" fill="#238b45" opacity="0.04"/>
<rect x="633.9" y="156.4" width="8.6" height="0.8" fill="#238b45" opacity="0.07"/>
<rect x="589.5" y="156.4" width="68.2" height="0.8" fill="url(#gk)" opacity="0.17"/>
<rect x="675.9" y="157.2" width="2.5" height="0.8" fill="#238b45" opacity="0.00"/>
<rect x="640.3" y="157.2" width="9.7" height="0.8" fill="#238b45" opacity="0.04"/>
<rect x="588.5" y="157.2" width="8.6" height="0.8" fill="#238b45" opacity="0.03"/>
<rect x="592.0" y="157.2" width="62.3" height="0.8" fill="url(#gk)" opacity="0.17"/>
<rect x="593.9" y="158.0" width="61.2" height="0.8" fill="url(#gk)" opacity="0.12"/>
<rect x="597.6" y="158.8" width="54.1" height="0.8" fill="url(#gk)" opacity="0.11"/>
<rect x="624.1" y="159.6" width="6.0" height="0.8" fill="#238b45" opacity="0.07"/>
<rect x="601.4" y="159.6" width="48.0" height="0.8" fill="url(#gk)" opacity="0.16"/>
<rect x="594.1" y="160.4" width="61.1" height="0.8" fill="url(#gk)" opacity="0.11"/>
<rect x="593.1" y="161.2" width="65.0" height="0.8" fill="url(#gk)" opacity="0.08"/>
<rect x="602.4" y="162.0" width="46.1" height="0.8" fill="url(#gk)" opacity="0.14"/>
<rect x="598.0" y="162.8" width="52.0" height="0.8" fill="url(#gk)" opacity="0.07"/>
<rect x="600.8" y="163.6" width="47.9" height="0.8" fill="url(#gk)" opacity="0.10"/>
<rect x="597.0" y="164.4" width="56.2" height="0.8" fill="url(#gk)" opacity="0.09"/>
<rect x="603.2" y="165.2" width="41.3" height="0.8" fill="url(#gk)" opacity="0.07"/>
<rect x="601.7" y="166.0" width="45.7" height="0.8" fill="url(#gk)" opacity="0.07"/>
<rect x="595.1" y="166.8" width="57.6" height="0.8" fill="url(#gk)" opacity="0.10"/>
<rect x="600.3" y="167.6" width="45.7" height="0.8" fill="url(#gk)" opacity="0.06"/>
<rect x="607.9" y="168.4" width="34.0" height="0.8" fill="url(#gk)" opacity="0.08"/>
<rect x="605.8" y="169.2" width="40.5" height="0.8" fill="url(#gk)" opacity="0.07"/>
<rect x="607.5" y="170.0" width="31.8" height="0.8" fill="url(#gk)" opacity="0.06"/>
<rect x="602.5" y="170.8" width="45.7" height="0.8" fill="url(#gk)" opacity="0.05"/>
<rect x="599.9" y="171.6" width="47.3" height="0.8" fill="url(#gk)" opacity="0.05"/>
<rect x="604.7" y="172.4" width="40.0" height="0.8" fill="url(#gk)" opacity="0.05"/>
<rect x="608.9" y="173.2" width="33.9" height="0.8" fill="url(#gk)" opacity="0.07"/>
<rect x="604.9" y="174.0" width="39.8" height="0.8" fill="url(#gk)" opacity="0.06"/>
<rect x="607.7" y="174.8" width="36.4" height="0.8" fill="url(#gk)" opacity="0.04"/>
<rect x="608.4" y="175.6" width="31.2" height="0.8" fill="url(#gk)" opacity="0.03"/>
<rect x="606.3" y="176.4" width="37.5" height="0.8" fill="url(#gk)" opacity="0.04"/>
<rect x="608.2" y="177.2" width="35.2" height="0.8" fill="url(#gk)" opacity="0.03"/>
<rect x="613.2" y="178.0" width="23.4" height="0.8" fill="url(#gk)" opacity="0.03"/>
<rect x="609.4" y="178.8" width="30.4" height="0.8" fill="url(#gk)" opacity="0.06"/>
<rect x="628.7" y="158.1" width="11.1" height="0.7" fill="#238b45" opacity="0.06"/>
<rect x="619.4" y="170.0" width="10.8" height="0.7" fill="#238b45" opacity="0.07"/>
<rect x="604.4" y="161.7" width="5.0" height="0.7" fill="#238b45" opacity="0.09"/>
<rect x="583.1" y="166.3" width="7.2" height="0.7" fill="#238b45" opacity="0.05"/>
<rect x="602.7" y="164.8" width="11.0" height="0.7" fill="#238b45" opacity="0.05"/>
<rect x="600.5" y="172.9" width="10.9" height="0.7" fill="#238b45" opacity="0.06"/>
<rect x="616.6" y="163.0" width="11.4" height="0.7" fill="#238b45" opacity="0.06"/>
<rect x="610.0" y="162.6" width="6.6" height="0.7" fill="#238b45" opacity="0.04"/>
<rect x="600.8" y="159.4" width="2.8" height="0.7" fill="#238b45" opacity="0.05"/>
<rect x="637.7" y="144.7" width="2.9" height="0.7" fill="#238b45" opacity="0.08"/>
<rect x="601.6" y="154.9" width="7.5" height="0.7" fill="#238b45" opacity="0.04"/>
<rect x="604.6" y="169.2" width="11.2" height="0.7" fill="#238b45" opacity="0.02"/>
<rect x="657.8" y="145.7" width="8.9" height="0.7" fill="#238b45" opacity="0.04"/>
<rect x="609.8" y="166.4" width="7.1" height="0.7" fill="#238b45" opacity="0.04"/>
<rect x="636.3" y="162.8" width="10.5" height="0.7" fill="#238b45" opacity="0.04"/>
<rect x="628.8" y="163.8" width="10.7" height="0.7" fill="#238b45" opacity="0.05"/>
<rect x="661.7" y="174.2" width="6.1" height="0.7" fill="#238b45" opacity="0.05"/>
<rect x="629.9" y="177.9" width="7.3" height="0.7" fill="#238b45" opacity="0.07"/>
<rect x="624.3" y="165.0" width="8.6" height="0.7" fill="#238b45" opacity="0.04"/>
<rect x="577.4" y="157.0" width="9.2" height="0.7" fill="#238b45" opacity="0.08"/>
<rect x="666.0" y="169.7" width="9.6" height="0.7" fill="#238b45" opacity="0.03"/>
<rect x="661.4" y="155.0" width="3.1" height="0.7" fill="#238b45" opacity="0.08"/>
<rect x="590.2" y="171.8" width="4.1" height="0.7" fill="#238b45" opacity="0.07"/>
<rect x="579.4" y="166.8" width="7.3" height="0.7" fill="#238b45" opacity="0.03"/>
<rect x="625.9" y="174.0" width="2.1" height="0.7" fill="#238b45" opacity="0.05"/>
<rect x="660.0" y="144.1" width="10.9" height="0.7" fill="#238b45" opacity="0.07"/>
<rect x="662.9" y="143.8" width="4.6" height="0.7" fill="#238b45" opacity="0.07"/>
<rect x="628.0" y="170.7" width="3.2" height="0.7" fill="#238b45" opacity="0.04"/>
<rect x="588.0" y="169.5" width="5.8" height="0.7" fill="#238b45" opacity="0.09"/>
<rect x="590.6" y="158.1" width="8.5" height="0.7" fill="#238b45" opacity="0.04"/>
<rect x="610.2" y="171.6" width="10.3" height="0.7" fill="#238b45" opacity="0.08"/>
<rect x="626.9" y="150.0" width="6.5" height="0.7" fill="#238b45" opacity="0.03"/>
<rect x="608.1" y="175.9" width="8.1" height="0.7" fill="#238b45" opacity="0.02"/>
<rect x="666.8" y="177.3" width="8.8" height="0.7" fill="#238b45" opacity="0.03"/>
<rect x="619.7" y="167.1" width="6.7" height="0.7" fill="#238b45" opacity="0.04"/>
<rect x="654.3" y="149.1" width="8.0" height="0.7" fill="#238b45" opacity="0.07"/>
<rect x="613.5" y="169.8" width="7.5" height="0.7" fill="#238b45" opacity="0.04"/>
<rect x="616.2" y="166.8" width="9.8" height="0.7" fill="#238b45" opacity="0.04"/>
<rect x="584.1" y="157.2" width="2.4" height="0.7" fill="#238b45" opacity="0.04"/>
<rect x="615.6" y="144.3" width="5.8" height="0.7" fill="#238b45" opacity="0.08"/>
<rect x="667.2" y="145.2" width="2.9" height="0.7" fill="#238b45" opacity="0.08"/>
<rect x="599.2" y="156.3" width="8.1" height="0.7" fill="#238b45" opacity="0.04"/>
<rect x="588.6" y="144.3" width="8.8" height="0.7" fill="#238b45" opacity="0.07"/>
<rect x="599.9" y="178.8" width="9.7" height="0.7" fill="#238b45" opacity="0.04"/>
<rect x="602.2" y="161.9" width="6.1" height="0.7" fill="#238b45" opacity="0.08"/>
<rect x="615.6" y="152.6" width="11.1" height="0.7" fill="#238b45" opacity="0.05"/>
<rect x="625.7" y="172.4" width="5.5" height="0.7" fill="#238b45" opacity="0.07"/>
<rect x="611.6" y="166.7" width="12.0" height="0.7" fill="#238b45" opacity="0.03"/>
<rect x="642.9" y="173.7" width="9.1" height="0.7" fill="#238b45" opacity="0.05"/>
<rect x="580.7" y="170.1" width="8.7" height="0.7" fill="#238b45" opacity="0.08"/>
<rect x="644.7" y="158.1" width="9.0" height="0.7" fill="#238b45" opacity="0.06"/>
<rect x="621.2" y="170.9" width="3.2" height="0.7" fill="#238b45" opacity="0.06"/>
</svg>
<rect x="576.6" y="55.2" width="96.0" height="124.8" fill="none" stroke="#000" stroke-width="1.3"/>
<line x1="576.6" y1="80.9" x2="672.6" y2="80.9" stroke="#000" stroke-width="1.8"/>
<line x1="576.6" y1="142.7" x2="672.6" y2="142.7" stroke="#000" stroke-width="1.8"/>
<line x1="576.6" y1="180.0" x2="576.6" y2="183.0" stroke="#000" stroke-width="0.8"/>
<line x1="624.6" y1="180.0" x2="624.6" y2="183.0" stroke="#000" stroke-width="0.8"/>
<line x1="672.6" y1="180.0" x2="672.6" y2="183.0" stroke="#000" stroke-width="0.8"/>
<text x="576.1" y="193" font-size="8.2" text-anchor="start" fill="#000" >-10kb</text>
<text x="623.9" y="193" font-size="8.2" text-anchor="middle" fill="#000" >TSS</text>
<text x="672.4" y="193" font-size="8.2" text-anchor="end" fill="#000" >10kb</text>
<rect x="239.8" y="55.2" width="21.2" height="124.8" fill="#fff"/>
<rect x="240.4" y="55.7" width="19.2" height="1.5" fill="#7585d3"/>
<rect x="240.4" y="57.1" width="19.2" height="1.3" fill="#a3abe5"/>
<rect x="240.4" y="58.3" width="19.2" height="0.9" fill="#a3abe5"/>
<rect x="240.4" y="59.1" width="19.2" height="1.2" fill="#a3abe5"/>
<rect x="240.4" y="60.2" width="19.2" height="1.5" fill="#a3abe5"/>
<rect x="240.4" y="61.5" width="19.2" height="1.1" fill="#7787d4"/>
<rect x="240.4" y="62.6" width="19.2" height="1.2" fill="#a3abe5"/>
<rect x="240.4" y="63.7" width="19.2" height="1.7" fill="#a4ace5"/>
<rect x="240.4" y="65.3" width="19.2" height="1.5" fill="#a4ace5"/>
<rect x="240.4" y="66.6" width="19.2" height="1.6" fill="#7989d4"/>
<rect x="240.4" y="68.2" width="19.2" height="1.0" fill="#a5ace5"/>
<rect x="240.4" y="69.1" width="19.2" height="0.9" fill="#a5ade5"/>
<rect x="240.4" y="69.9" width="19.2" height="1.2" fill="#a5ade5"/>
<rect x="240.4" y="71.0" width="19.2" height="1.4" fill="#a5ade5"/>
<rect x="240.4" y="72.3" width="19.2" height="1.0" fill="#a6ade6"/>
<rect x="240.4" y="73.2" width="19.2" height="1.3" fill="#a6aee6"/>
<rect x="240.4" y="74.4" width="19.2" height="1.4" fill="#7d8bd6"/>
<rect x="240.4" y="75.7" width="19.2" height="1.2" fill="#a7aee6"/>
<rect x="240.4" y="76.8" width="19.2" height="1.1" fill="#7e8cd6"/>
<rect x="240.4" y="77.8" width="19.2" height="1.0" fill="#a7afe6"/>
<rect x="240.4" y="78.7" width="19.2" height="1.6" fill="#a8afe6"/>
<rect x="240.4" y="80.2" width="19.2" height="1.2" fill="#a8b0e6"/>
<rect x="240.4" y="81.3" width="19.2" height="1.6" fill="#a9b0e6"/>
<rect x="240.4" y="82.8" width="19.2" height="1.7" fill="#a9b1e7"/>
<rect x="240.4" y="84.4" width="19.2" height="1.4" fill="#818fd8"/>
<rect x="240.4" y="85.7" width="19.2" height="1.7" fill="#818fd8"/>
<rect x="240.4" y="87.3" width="19.2" height="1.5" fill="#abb2e7"/>
<rect x="240.4" y="88.7" width="19.2" height="0.9" fill="#abb3e7"/>
<rect x="240.4" y="89.5" width="19.2" height="1.1" fill="#acb3e7"/>
<rect x="240.4" y="90.5" width="19.2" height="1.0" fill="#acb3e8"/>
<rect x="240.4" y="91.4" width="19.2" height="1.2" fill="#8491d9"/>
<rect x="240.4" y="92.6" width="19.2" height="1.1" fill="#adb4e8"/>
<rect x="240.4" y="93.6" width="19.2" height="1.5" fill="#aeb4e8"/>
<rect x="240.4" y="95.0" width="19.2" height="1.6" fill="#8593d9"/>
<rect x="240.4" y="96.6" width="19.2" height="1.1" fill="#afb6e8"/>
<rect x="240.4" y="97.6" width="19.2" height="1.2" fill="#8694da"/>
<rect x="240.4" y="98.6" width="19.2" height="1.5" fill="#8794da"/>
<rect x="240.4" y="100.0" width="19.2" height="1.3" fill="#8794da"/>
<rect x="240.4" y="101.2" width="19.2" height="1.2" fill="#b1b7e9"/>
<rect x="240.4" y="102.3" width="19.2" height="1.3" fill="#b2b8e9"/>
<rect x="240.4" y="103.5" width="19.2" height="1.5" fill="#b2b8e9"/>
<rect x="240.4" y="104.9" width="19.2" height="1.7" fill="#b3b9ea"/>
<rect x="240.4" y="106.4" width="19.2" height="1.1" fill="#b4baea"/>
<rect x="240.4" y="107.4" width="19.2" height="1.5" fill="#b4baea"/>
<rect x="240.4" y="108.8" width="19.2" height="1.3" fill="#b5bbea"/>
<rect x="240.4" y="110.0" width="19.2" height="1.2" fill="#b5bbea"/>
<rect x="240.4" y="111.1" width="19.2" height="1.5" fill="#b6bceb"/>
<rect x="240.4" y="112.5" width="19.2" height="1.3" fill="#b7bdeb"/>
<rect x="240.4" y="113.7" width="19.2" height="1.3" fill="#b7bdeb"/>
<rect x="240.4" y="114.9" width="19.2" height="1.3" fill="#b8beeb"/>
<rect x="240.4" y="116.0" width="19.2" height="1.2" fill="#b9beeb"/>
<rect x="240.4" y="117.1" width="19.2" height="1.3" fill="#b9bfec"/>
<rect x="240.4" y="118.3" width="19.2" height="1.6" fill="#babfec"/>
<rect x="240.4" y="119.8" width="19.2" height="1.0" fill="#bbc0ec"/>
<rect x="240.4" y="120.8" width="19.2" height="1.3" fill="#bbc1ec"/>
<rect x="240.4" y="122.0" width="19.2" height="1.0" fill="#bcc1ed"/>
<rect x="240.4" y="122.9" width="19.2" height="1.7" fill="#bcc2ed"/>
<rect x="240.4" y="124.5" width="19.2" height="1.4" fill="#929dde"/>
<rect x="240.4" y="125.7" width="19.2" height="1.2" fill="#bec3ed"/>
<rect x="240.4" y="126.8" width="19.2" height="1.0" fill="#bfc4ed"/>
<rect x="240.4" y="127.6" width="19.2" height="1.2" fill="#bfc4ee"/>
<rect x="240.4" y="128.7" width="19.2" height="1.0" fill="#949fdf"/>
<rect x="240.4" y="129.6" width="19.2" height="1.7" fill="#c0c5ee"/>
<rect x="240.4" y="131.2" width="19.2" height="1.1" fill="#c1c6ee"/>
<rect x="240.4" y="132.1" width="19.2" height="1.2" fill="#c2c7ee"/>
<rect x="240.4" y="133.2" width="19.2" height="1.0" fill="#c3c7ef"/>
<rect x="240.4" y="134.2" width="19.2" height="1.6" fill="#c3c8ef"/>
<rect x="240.4" y="135.7" width="19.2" height="1.7" fill="#c4c9ef"/>
<rect x="240.4" y="137.3" width="19.2" height="1.3" fill="#c5c9ef"/>
<rect x="240.4" y="138.5" width="19.2" height="1.5" fill="#c6caf0"/>
<rect x="240.4" y="139.9" width="19.2" height="1.0" fill="#c7cbf0"/>
<rect x="240.4" y="140.7" width="19.2" height="1.6" fill="#c7cbf0"/>
<rect x="240.4" y="142.2" width="19.2" height="0.9" fill="#c8ccf0"/>
<rect x="240.4" y="143.0" width="19.2" height="0.9" fill="#fbc3ba"/>
<rect x="240.4" y="143.9" width="19.2" height="1.0" fill="#fbc3ba"/>
<rect x="240.4" y="144.8" width="19.2" height="1.1" fill="#fbc3ba"/>
<rect x="240.4" y="145.8" width="19.2" height="1.5" fill="#fbc3ba"/>
<rect x="240.4" y="147.1" width="19.2" height="1.3" fill="#f5877a"/>
<rect x="240.4" y="148.4" width="19.2" height="0.9" fill="#f5877a"/>
<rect x="240.4" y="149.2" width="19.2" height="1.0" fill="#f5877a"/>
<rect x="240.4" y="150.1" width="19.2" height="1.1" fill="#f5877a"/>
<rect x="240.4" y="151.1" width="19.2" height="1.6" fill="#fbc3ba"/>
<rect x="240.4" y="152.6" width="19.2" height="1.3" fill="#fbc3ba"/>
<rect x="240.4" y="153.8" width="19.2" height="1.0" fill="#fbc3ba"/>
<rect x="240.4" y="154.7" width="19.2" height="0.9" fill="#fbc3ba"/>
<rect x="240.4" y="155.6" width="19.2" height="1.6" fill="#fbc3ba"/>
<rect x="240.4" y="157.1" width="19.2" height="1.1" fill="#fbc3ba"/>
<rect x="240.4" y="158.1" width="19.2" height="1.3" fill="#fbc3ba"/>
<rect x="240.4" y="159.4" width="19.2" height="1.4" fill="#fbc3ba"/>
<rect x="240.4" y="160.7" width="19.2" height="1.6" fill="#fbc3ba"/>
<rect x="240.4" y="162.2" width="19.2" height="1.7" fill="#fbc3ba"/>
<rect x="240.4" y="163.7" width="19.2" height="1.4" fill="#fbc3ba"/>
<rect x="240.4" y="165.1" width="19.2" height="1.1" fill="#f5877a"/>
<rect x="240.4" y="166.0" width="19.2" height="1.6" fill="#fbc3ba"/>
<rect x="240.4" y="167.5" width="19.2" height="0.9" fill="#fbc3ba"/>
<rect x="240.4" y="168.3" width="19.2" height="1.0" fill="#fbc3ba"/>
<rect x="240.4" y="169.2" width="19.2" height="1.6" fill="#f5877a"/>
<rect x="240.4" y="170.8" width="19.2" height="1.6" fill="#fbc3ba"/>
<rect x="240.4" y="172.2" width="19.2" height="1.5" fill="#fbc3ba"/>
<rect x="240.4" y="173.7" width="19.2" height="1.3" fill="#fbc3ba"/>
<rect x="240.4" y="174.9" width="19.2" height="1.5" fill="#f5877a"/>
<rect x="240.4" y="176.3" width="19.2" height="1.4" fill="#f5877a"/>
<rect x="240.4" y="177.6" width="19.2" height="1.1" fill="#fbc3ba"/>
<rect x="240.4" y="178.6" width="19.2" height="1.0" fill="#fbc3ba"/>
<rect x="239.8" y="55.2" width="21.2" height="26.9" fill="none" stroke="#000" stroke-width="1.8"/>
<rect x="239.8" y="82.10000000000001" width="21.2" height="60.6" fill="none" stroke="#000" stroke-width="1.8"/>
<rect x="239.8" y="142.7" width="21.2" height="38.3" fill="none" stroke="#000" stroke-width="1.8"/>
<text x="232.1" y="52.8" font-size="8.8" text-anchor="middle" fill="#000" >n</text>
<text transform="translate(235.4,69.4) rotate(-90)" x="0" y="0" font-size="8.5" text-anchor="middle">130</text>
<text transform="translate(235.4,116.6) rotate(-90)" x="0" y="0" font-size="8.5" text-anchor="middle">318</text>
<text transform="translate(235.4,162.5) rotate(-90)" x="0" y="0" font-size="8.5" text-anchor="middle">187</text>
<text x="249.9" y="193" font-size="8.2" text-anchor="middle" fill="#000" >Log2FC</text>
<text x="369.6" y="35.3" font-size="10.8" text-anchor="middle" fill="#000" >MTF2</text>
<line x1="300" y1="38.8" x2="431.6" y2="38.8" stroke="#000" stroke-width="1.4"/>
<text x="575.3" y="35.3" font-size="10.8" text-anchor="middle" fill="#000" >H3K27me3</text>
<line x1="506" y1="38.8" x2="638" y2="38.8" stroke="#000" stroke-width="1.4"/>
<text x="315" y="52.6" font-size="10.8" text-anchor="middle" fill="#000" >WT-1</text>
<text x="420" y="52.6" font-size="10.8" text-anchor="middle" fill="#000" >D5-1</text>
<text x="522" y="52.6" font-size="10.8" text-anchor="middle" fill="#000" >WT-1</text>
<text x="623.4" y="52.6" font-size="10.8" text-anchor="middle" fill="#000" >D5-1</text>
<rect x="231.4" y="198.5" width="40.6" height="7.9" fill="url(#cbr)"/>
<text x="236.4" y="213.6" font-size="8" text-anchor="middle" fill="#000" >−3</text>
<text x="252.6" y="213.6" font-size="8" text-anchor="middle" fill="#000" >0</text>
<text x="270.8" y="213.6" font-size="8" text-anchor="middle" fill="#000" >3</text>
<rect x="327.4" y="198.3" width="83.5" height="7" fill="url(#cbp)" stroke="#000" stroke-width="0.7"/>
<text x="329.7" y="214" font-size="8" text-anchor="middle" fill="#000" >0</text>
<line x1="355" y1="203.5" x2="355" y2="205.3" stroke="#000" stroke-width="0.6"/>
<text x="355" y="214" font-size="8" text-anchor="middle" fill="#000" >4</text>
<line x1="383" y1="203.5" x2="383" y2="205.3" stroke="#000" stroke-width="0.6"/>
<text x="383" y="214" font-size="8" text-anchor="middle" fill="#000" >8</text>
<line x1="408.4" y1="203.5" x2="408.4" y2="205.3" stroke="#000" stroke-width="0.6"/>
<text x="408.4" y="214" font-size="8" text-anchor="middle" fill="#000" >12</text>
<rect x="533" y="198.2" width="84.7" height="7.5" fill="url(#cbg)" stroke="#000" stroke-width="0.7"/>
<text x="536" y="214" font-size="8" text-anchor="middle" fill="#000" >0</text>
<line x1="561" y1="203.5" x2="561" y2="205.7" stroke="#000" stroke-width="0.6"/>
<text x="561" y="214" font-size="8" text-anchor="middle" fill="#000" >4</text>
<line x1="589" y1="203.5" x2="589" y2="205.7" stroke="#000" stroke-width="0.6"/>
<text x="589" y="214" font-size="8" text-anchor="middle" fill="#000" >8</text>
<line x1="614.4" y1="203.5" x2="614.4" y2="205.7" stroke="#000" stroke-width="0.6"/>
<text x="614.4" y="214" font-size="8" text-anchor="middle" fill="#000" >12</text>
<text x="11.8" y="267.2" font-size="20" text-anchor="start" fill="#000" font-weight="bold" >c</text>
<rect x="131.4" y="306.2" width="117.4" height="17.3" fill="#a6a6a6" stroke="#6e6e6e" stroke-width="0.6"/>
<line x1="248.8" y1="306.2" x2="248.8" y2="323.5" stroke="#555" stroke-width="0.8"/>
<rect x="131.4" y="334.5" width="98.6" height="17.1" fill="#a6a6a6" stroke="#6e6e6e" stroke-width="0.6"/>
<line x1="230.0" y1="334.5" x2="230.0" y2="351.6" stroke="#555" stroke-width="0.8"/>
<rect x="131.4" y="363.2" width="92.3" height="17.0" fill="#a6a6a6" stroke="#6e6e6e" stroke-width="0.6"/>
<line x1="223.7" y1="363.2" x2="223.7" y2="380.2" stroke="#555" stroke-width="0.8"/>
<rect x="131.4" y="391.6" width="82.2" height="16.8" fill="#a6a6a6" stroke="#6e6e6e" stroke-width="0.6"/>
<line x1="213.6" y1="391.6" x2="213.6" y2="408.4" stroke="#555" stroke-width="0.8"/>
<rect x="131.4" y="420.3" width="78.1" height="16.3" fill="#a6a6a6" stroke="#6e6e6e" stroke-width="0.6"/>
<line x1="209.5" y1="420.3" x2="209.5" y2="436.6" stroke="#555" stroke-width="0.8"/>
<line x1="131.4" y1="291.4" x2="131.4" y2="448.5" stroke="#000" stroke-width="0.9"/>
<line x1="131.4" y1="448.5" x2="252.8" y2="448.5" stroke="#000" stroke-width="0.9"/>
<line x1="161.9" y1="448.5" x2="161.9" y2="451.1" stroke="#000" stroke-width="0.8"/>
<text x="161.9" y="461.7" font-size="8.3" text-anchor="middle" fill="#000" >2</text>
<line x1="192.6" y1="448.5" x2="192.6" y2="451.1" stroke="#000" stroke-width="0.8"/>
<text x="192.6" y="461.7" font-size="8.3" text-anchor="middle" fill="#000" >4</text>
<line x1="222.8" y1="448.5" x2="222.8" y2="451.1" stroke="#000" stroke-width="0.8"/>
<text x="222.8" y="461.7" font-size="8.3" text-anchor="middle" fill="#000" >6</text>
<line x1="252.8" y1="448.5" x2="252.8" y2="451.1" stroke="#000" stroke-width="0.8"/>
<text x="252.8" y="461.7" font-size="8.3" text-anchor="middle" fill="#000" >8</text>
<text x="197.4" y="473.6" font-size="8.4" text-anchor="middle" fill="#000" >-Log10 (p value)</text>
<text x="125.6" y="314.7" font-size="8.5" text-anchor="end" fill="#000" >Transcription factor activity,</text>
<text x="125.6" y="324.6" font-size="8.5" text-anchor="end" fill="#000" >sequence-specific DNA binding</text>
<text x="125.6" y="347.6" font-size="8.5" text-anchor="end" fill="#000" >DNA binding</text>
<text x="125.6" y="372" font-size="8.5" text-anchor="end" fill="#000" >Sequence-specific double-</text>
<text x="125.6" y="381.5" font-size="8.5" text-anchor="end" fill="#000" >stranded DNA binding</text>
<text x="125.6" y="395.8" font-size="8.5" text-anchor="end" fill="#000" >Transcriptional activator activity,</text>
<text x="125.6" y="405.3" font-size="8.5" text-anchor="end" fill="#000" >pol II transcription regulatory</text>
<text x="125.6" y="414.7" font-size="8.5" text-anchor="end" fill="#000" >region sequence-specific binding</text>
<text x="125.6" y="432" font-size="8.5" text-anchor="end" fill="#000" >Sequence-specific DNA binding</text>
<text x="284.5" y="266.9" font-size="20" text-anchor="start" fill="#000" font-weight="bold" >d</text>
<circle cx="351.8" cy="277.6" r="4.2" fill="#0aa6ea" stroke="#444" stroke-width="0.4"/>
<text x="358.0" y="280.1" font-size="7.8" text-anchor="start" fill="#1aaeea" >H3K27me3</text>
<circle cx="351.8" cy="288.6" r="4.2" fill="#9a34ee" stroke="#444" stroke-width="0.4"/>
<text x="358.0" y="291.9" font-size="7.8" text-anchor="start" fill="#9a3cee" >H2AK119ub1</text>
<ellipse cx="302.8" cy="352.9" rx="17.2" ry="11.5" fill="#9c9c9c" stroke="#555" stroke-width="0.6" stroke-dasharray="1,0.8"/>
<ellipse cx="325.4" cy="352.9" rx="17.2" ry="11.5" fill="#bdbdbd" stroke="#555" stroke-width="0.6" opacity="0.85" stroke-dasharray="1,0.8"/>
<ellipse cx="312.9" cy="396.4" rx="17.2" ry="11.0" fill="#a3a3a3" stroke="#555" stroke-width="0.6" stroke-dasharray="1,0.8"/>
<ellipse cx="312.9" cy="421.4" rx="17.2" ry="11.0" fill="#b3b3b3" stroke="#555" stroke-width="0.6" stroke-dasharray="1,0.8"/>
<text x="314" y="318.8" font-size="7.8" text-anchor="middle" fill="#000" >PRC2.1</text>
<text x="313.7" y="329" font-size="7.8" text-anchor="middle" fill="#000" >–Core</text>
<path d="M311.4 380.5 L311.4 370.2 L309.3 372.8" fill="none" stroke="#000" stroke-width="0.9"/>
<path d="M315.6 369.8 L315.6 380.1 L317.7 377.5" fill="none" stroke="#000" stroke-width="0.9"/>
<path d="M357.6 318.4 L350 319.6 Q348.4 320 348.4 321.6 L348.4 379.8 Q348.4 381.4 346.8 381.4 L338.6 381.4 M346.8 381.4 Q348.4 381.4 348.4 383 L348.4 442.6 Q348.4 444.3 350 444.3 L354.2 444.3" fill="none" stroke="#555" stroke-width="0.6"/>
<text x="375.2" y="318.4" font-size="7.8" text-anchor="middle" fill="#000" >PRC2.1</text>
<text x="350.3" y="327.5" font-size="7.8">–<tspan fill="#22dd22">MTF2</tspan>–<tspan fill="#ff8cff">EPOP</tspan></text>
<text x="375.2" y="336.4" font-size="7.8" text-anchor="middle" fill="#000" >(Monomeric)</text>
<text x="378.4" y="380.6" font-size="7.8" text-anchor="middle" fill="#000" >PRC2.1</text>
<text x="364.7" y="390" font-size="7.8">–<tspan fill="#22dd22">MTF2</tspan></text>
<text x="378.6" y="399.1" font-size="7.8" text-anchor="middle" fill="#000" >(Dimeric)</text>
<text x="380.1" y="445.1" font-size="7.8" text-anchor="middle" fill="#000" >PRC2.2</text>
<text x="349.9" y="454.9" font-size="7.8">–<tspan fill="#c8e81a">AEBP2</tspan>–<tspan fill="#f5b800">JARID2</tspan></text>
<text x="380.0" y="464.3" font-size="7.8" text-anchor="middle" fill="#000" >(Monomeric)</text>
<ellipse cx="418.50" cy="322.50" rx="5.0" ry="12.4" fill="#868686" transform="rotate(25 418.50 322.50)"/>
<ellipse cx="419.33" cy="322.60" rx="5.0" ry="12.4" fill="#929292" transform="rotate(25 419.33 322.60)"/>
<ellipse cx="420.17" cy="322.70" rx="5.0" ry="12.4" fill="#929292" transform="rotate(25 420.17 322.70)"/>
<ellipse cx="421.00" cy="322.80" rx="5.0" ry="12.4" fill="#929292" transform="rotate(25 421.00 322.80)"/>
<ellipse cx="421.83" cy="322.90" rx="5.0" ry="12.4" fill="#929292" transform="rotate(25 421.83 322.90)"/>
<ellipse cx="422.67" cy="323.00" rx="5.0" ry="12.4" fill="#929292" transform="rotate(25 422.67 323.00)"/>
<ellipse cx="423.50" cy="323.10" rx="5.0" ry="12.4" fill="#929292" transform="rotate(25 423.50 323.10)"/>
<ellipse cx="424.33" cy="323.20" rx="5.0" ry="12.4" fill="#929292" transform="rotate(25 424.33 323.20)"/>
<ellipse cx="425.17" cy="323.30" rx="5.0" ry="12.4" fill="#929292" transform="rotate(25 425.17 323.30)"/>
<ellipse cx="426.00" cy="323.40" rx="5.0" ry="12.4" fill="#929292" transform="rotate(25 426.00 323.40)"/>
<ellipse cx="426.83" cy="323.50" rx="5.0" ry="12.4" fill="#929292" transform="rotate(25 426.83 323.50)"/>
<ellipse cx="427.67" cy="323.60" rx="5.0" ry="12.4" fill="#929292" transform="rotate(25 427.67 323.60)"/>
<ellipse cx="428.5" cy="323.7" rx="5.0" ry="12.4" fill="#adadad" transform="rotate(25 428.5 323.7)"/>
<path d="M426.99 311.20 L426.21 311.31 L425.37 311.61 L424.49 312.11 L423.57 312.80 L422.63 313.66 L421.69 314.69 L420.76 315.86 L419.86 317.15 L419.01 318.55 L418.21 320.02 L417.50 321.55 L416.86 323.10 L416.32 324.65 L415.89 326.18 L415.57 327.65 L415.37 329.05 L415.29 330.34 L415.34 331.51 L415.51 332.54 L415.79 333.40 L416.20 334.09" fill="none" stroke="#1e1e1e" stroke-width="0.8" stroke-linejoin="round"/>
<path d="M430.79 311.60 L430.01 311.71 L429.17 312.01 L428.29 312.51 L427.37 313.20 L426.43 314.06 L425.49 315.09 L424.56 316.26 L423.66 317.55 L422.81 318.95 L422.01 320.42 L421.30 321.95 L420.66 323.50 L420.12 325.05 L419.69 326.58 L419.37 328.05 L419.17 329.45 L419.09 330.74 L419.14 331.91 L419.31 332.94 L419.59 333.80 L420.00 334.49" fill="none" stroke="#1e1e1e" stroke-width="0.8" stroke-linejoin="round"/>
<ellipse cx="466.70" cy="322.50" rx="5.0" ry="12.4" fill="#868686" transform="rotate(25 466.70 322.50)"/>
<ellipse cx="467.53" cy="322.60" rx="5.0" ry="12.4" fill="#929292" transform="rotate(25 467.53 322.60)"/>
<ellipse cx="468.37" cy="322.70" rx="5.0" ry="12.4" fill="#929292" transform="rotate(25 468.37 322.70)"/>
<ellipse cx="469.20" cy="322.80" rx="5.0" ry="12.4" fill="#929292" transform="rotate(25 469.20 322.80)"/>
<ellipse cx="470.03" cy="322.90" rx="5.0" ry="12.4" fill="#929292" transform="rotate(25 470.03 322.90)"/>
<ellipse cx="470.87" cy="323.00" rx="5.0" ry="12.4" fill="#929292" transform="rotate(25 470.87 323.00)"/>
<ellipse cx="471.70" cy="323.10" rx="5.0" ry="12.4" fill="#929292" transform="rotate(25 471.70 323.10)"/>
<ellipse cx="472.53" cy="323.20" rx="5.0" ry="12.4" fill="#929292" transform="rotate(25 472.53 323.20)"/>
<ellipse cx="473.37" cy="323.30" rx="5.0" ry="12.4" fill="#929292" transform="rotate(25 473.37 323.30)"/>
<ellipse cx="474.20" cy="323.40" rx="5.0" ry="12.4" fill="#929292" transform="rotate(25 474.20 323.40)"/>
<ellipse cx="475.03" cy="323.50" rx="5.0" ry="12.4" fill="#929292" transform="rotate(25 475.03 323.50)"/>
<ellipse cx="475.87" cy="323.60" rx="5.0" ry="12.4" fill="#929292" transform="rotate(25 475.87 323.60)"/>
<ellipse cx="476.7" cy="323.7" rx="5.0" ry="12.4" fill="#adadad" transform="rotate(25 476.7 323.7)"/>
<path d="M475.19 311.20 L474.41 311.31 L473.57 311.61 L472.69 312.11 L471.77 312.80 L470.83 313.66 L469.89 314.69 L468.96 315.86 L468.06 317.15 L467.21 318.55 L466.41 320.02 L465.70 321.55 L465.06 323.10 L464.52 324.65 L464.09 326.18 L463.77 327.65 L463.57 329.05 L463.49 330.34 L463.54 331.51 L463.71 332.54 L463.99 333.40 L464.40 334.09" fill="none" stroke="#1e1e1e" stroke-width="0.8" stroke-linejoin="round"/>
<path d="M478.99 311.60 L478.21 311.71 L477.37 312.01 L476.49 312.51 L475.57 313.20 L474.63 314.06 L473.69 315.09 L472.76 316.26 L471.86 317.55 L471.01 318.95 L470.21 320.42 L469.50 321.95 L468.86 323.50 L468.32 325.05 L467.89 326.58 L467.57 328.05 L467.37 329.45 L467.29 330.74 L467.34 331.91 L467.51 332.94 L467.79 333.80 L468.20 334.49" fill="none" stroke="#1e1e1e" stroke-width="0.8" stroke-linejoin="round"/>
<ellipse cx="515.20" cy="322.50" rx="5.0" ry="12.4" fill="#868686" transform="rotate(25 515.20 322.50)"/>
<ellipse cx="516.03" cy="322.60" rx="5.0" ry="12.4" fill="#929292" transform="rotate(25 516.03 322.60)"/>
<ellipse cx="516.87" cy="322.70" rx="5.0" ry="12.4" fill="#929292" transform="rotate(25 516.87 322.70)"/>
<ellipse cx="517.70" cy="322.80" rx="5.0" ry="12.4" fill="#929292" transform="rotate(25 517.70 322.80)"/>
<ellipse cx="518.53" cy="322.90" rx="5.0" ry="12.4" fill="#929292" transform="rotate(25 518.53 322.90)"/>
<ellipse cx="519.37" cy="323.00" rx="5.0" ry="12.4" fill="#929292" transform="rotate(25 519.37 323.00)"/>
<ellipse cx="520.20" cy="323.10" rx="5.0" ry="12.4" fill="#929292" transform="rotate(25 520.20 323.10)"/>
<ellipse cx="521.03" cy="323.20" rx="5.0" ry="12.4" fill="#929292" transform="rotate(25 521.03 323.20)"/>
<ellipse cx="521.87" cy="323.30" rx="5.0" ry="12.4" fill="#929292" transform="rotate(25 521.87 323.30)"/>
<ellipse cx="522.70" cy="323.40" rx="5.0" ry="12.4" fill="#929292" transform="rotate(25 522.70 323.40)"/>
<ellipse cx="523.53" cy="323.50" rx="5.0" ry="12.4" fill="#929292" transform="rotate(25 523.53 323.50)"/>
<ellipse cx="524.37" cy="323.60" rx="5.0" ry="12.4" fill="#929292" transform="rotate(25 524.37 323.60)"/>
<ellipse cx="525.2" cy="323.7" rx="5.0" ry="12.4" fill="#adadad" transform="rotate(25 525.2 323.7)"/>
<path d="M523.69 311.20 L522.91 311.31 L522.07 311.61 L521.19 312.11 L520.27 312.80 L519.33 313.66 L518.39 314.69 L517.46 315.86 L516.56 317.15 L515.71 318.55 L514.91 320.02 L514.20 321.55 L513.56 323.10 L513.02 324.65 L512.59 326.18 L512.27 327.65 L512.07 329.05 L511.99 330.34 L512.04 331.51 L512.21 332.54 L512.49 333.40 L512.90 334.09" fill="none" stroke="#1e1e1e" stroke-width="0.8" stroke-linejoin="round"/>
<path d="M527.49 311.60 L526.71 311.71 L525.87 312.01 L524.99 312.51 L524.07 313.20 L523.13 314.06 L522.19 315.09 L521.26 316.26 L520.36 317.55 L519.51 318.95 L518.71 320.42 L518.00 321.95 L517.36 323.50 L516.82 325.05 L516.39 326.58 L516.07 328.05 L515.87 329.45 L515.79 330.74 L515.84 331.91 L516.01 332.94 L516.29 333.80 L516.70 334.49" fill="none" stroke="#1e1e1e" stroke-width="0.8" stroke-linejoin="round"/>
<path d="M417.5 307.5 L424.0 307.5 Q427.8 307.5 427.0 311.2 M430.8 311.6 C433.8 311.6 433.8 307.5 437.8 307.5 L472.2 307.5 Q476.0 307.5 475.2 311.2 M479.0 311.6 C482.0 311.6 482.0 307.5 486.0 307.5 L520.7 307.5 Q524.5 307.5 523.7 311.2 M527.5 311.6 C530.5 311.6 530.5 307.5 534.5 307.5 L535.8 307.5" fill="none" stroke="#1e1e1e" stroke-width="0.8"/>
<circle cx="425.1" cy="304.4" r="4.2" fill="#0aa6ea" stroke="#444" stroke-width="0.4"/>
<ellipse cx="447.2" cy="294.9" rx="16.9" ry="11.8" fill="#a3a3a3" stroke="#555" stroke-width="0.5" transform="rotate(-12 447.2 294.9)"/>
<ellipse cx="455.3" cy="303.8" rx="5.8" ry="11.2" fill="#00e000" stroke="#333" stroke-width="0.5" transform="rotate(-12 455.3 303.8)"/>
<rect x="-7" y="-3.6" width="14" height="7.2" fill="#f67df6" stroke="#555" stroke-width="0.4" transform="translate(462,298.2) rotate(28)"/>
<ellipse cx="492.5" cy="291.3" rx="5.6" ry="11.2" fill="#00e000" stroke="#333" stroke-width="0.5" transform="rotate(30 492.5 291.3)"/>
<rect x="-5" y="-4" width="10" height="8" fill="#f67df6" stroke="#555" stroke-width="0.4" transform="translate(488,284.2) rotate(-18)"/>
<ellipse cx="503.5" cy="284.7" rx="16.4" ry="12.3" fill="#a8a8a8" stroke="#444" stroke-width="0.5" opacity="0.8" transform="rotate(25 503.5 284.7)"/>
<line x1="536.6" y1="324.7" x2="545.2" y2="324.7" stroke="#000" stroke-width="0.8"/>
<path d="M548.2 324.7 L544.7 323.09999999999997 L544.7 326.3 Z" fill="#000"/>
<ellipse cx="418.50" cy="386.60" rx="5.0" ry="12.4" fill="#868686" transform="rotate(25 418.50 386.60)"/>
<ellipse cx="419.33" cy="386.70" rx="5.0" ry="12.4" fill="#929292" transform="rotate(25 419.33 386.70)"/>
<ellipse cx="420.17" cy="386.80" rx="5.0" ry="12.4" fill="#929292" transform="rotate(25 420.17 386.80)"/>
<ellipse cx="421.00" cy="386.90" rx="5.0" ry="12.4" fill="#929292" transform="rotate(25 421.00 386.90)"/>
<ellipse cx="421.83" cy="387.00" rx="5.0" ry="12.4" fill="#929292" transform="rotate(25 421.83 387.00)"/>
<ellipse cx="422.67" cy="387.10" rx="5.0" ry="12.4" fill="#929292" transform="rotate(25 422.67 387.10)"/>
<ellipse cx="423.50" cy="387.20" rx="5.0" ry="12.4" fill="#929292" transform="rotate(25 423.50 387.20)"/>
<ellipse cx="424.33" cy="387.30" rx="5.0" ry="12.4" fill="#929292" transform="rotate(25 424.33 387.30)"/>
<ellipse cx="425.17" cy="387.40" rx="5.0" ry="12.4" fill="#929292" transform="rotate(25 425.17 387.40)"/>
<ellipse cx="426.00" cy="387.50" rx="5.0" ry="12.4" fill="#929292" transform="rotate(25 426.00 387.50)"/>
<ellipse cx="426.83" cy="387.60" rx="5.0" ry="12.4" fill="#929292" transform="rotate(25 426.83 387.60)"/>
<ellipse cx="427.67" cy="387.70" rx="5.0" ry="12.4" fill="#929292" transform="rotate(25 427.67 387.70)"/>
<ellipse cx="428.5" cy="387.8" rx="5.0" ry="12.4" fill="#adadad" transform="rotate(25 428.5 387.8)"/>
<path d="M426.99 375.30 L426.21 375.41 L425.37 375.71 L424.49 376.21 L423.57 376.90 L422.63 377.76 L421.69 378.79 L420.76 379.96 L419.86 381.25 L419.01 382.65 L418.21 384.12 L417.50 385.65 L416.86 387.20 L416.32 388.75 L415.89 390.28 L415.57 391.75 L415.37 393.15 L415.29 394.44 L415.34 395.61 L415.51 396.64 L415.79 397.50 L416.20 398.19" fill="none" stroke="#1e1e1e" stroke-width="0.8" stroke-linejoin="round"/>
<path d="M430.79 375.70 L430.01 375.81 L429.17 376.11 L428.29 376.61 L427.37 377.30 L426.43 378.16 L425.49 379.19 L424.56 380.36 L423.66 381.65 L422.81 383.05 L422.01 384.52 L421.30 386.05 L420.66 387.60 L420.12 389.15 L419.69 390.68 L419.37 392.15 L419.17 393.55 L419.09 394.84 L419.14 396.01 L419.31 397.04 L419.59 397.90 L420.00 398.59" fill="none" stroke="#1e1e1e" stroke-width="0.8" stroke-linejoin="round"/>
<ellipse cx="453.00" cy="386.60" rx="5.0" ry="12.4" fill="#868686" transform="rotate(25 453.00 386.60)"/>
<ellipse cx="453.83" cy="386.70" rx="5.0" ry="12.4" fill="#929292" transform="rotate(25 453.83 386.70)"/>
<ellipse cx="454.67" cy="386.80" rx="5.0" ry="12.4" fill="#929292" transform="rotate(25 454.67 386.80)"/>
<ellipse cx="455.50" cy="386.90" rx="5.0" ry="12.4" fill="#929292" transform="rotate(25 455.50 386.90)"/>
<ellipse cx="456.33" cy="387.00" rx="5.0" ry="12.4" fill="#929292" transform="rotate(25 456.33 387.00)"/>
<ellipse cx="457.17" cy="387.10" rx="5.0" ry="12.4" fill="#929292" transform="rotate(25 457.17 387.10)"/>
<ellipse cx="458.00" cy="387.20" rx="5.0" ry="12.4" fill="#929292" transform="rotate(25 458.00 387.20)"/>
<ellipse cx="458.83" cy="387.30" rx="5.0" ry="12.4" fill="#929292" transform="rotate(25 458.83 387.30)"/>
<ellipse cx="459.67" cy="387.40" rx="5.0" ry="12.4" fill="#929292" transform="rotate(25 459.67 387.40)"/>
<ellipse cx="460.50" cy="387.50" rx="5.0" ry="12.4" fill="#929292" transform="rotate(25 460.50 387.50)"/>
<ellipse cx="461.33" cy="387.60" rx="5.0" ry="12.4" fill="#929292" transform="rotate(25 461.33 387.60)"/>
<ellipse cx="462.17" cy="387.70" rx="5.0" ry="12.4" fill="#929292" transform="rotate(25 462.17 387.70)"/>
<ellipse cx="463.0" cy="387.8" rx="5.0" ry="12.4" fill="#adadad" transform="rotate(25 463.0 387.8)"/>
<path d="M461.49 375.30 L460.71 375.41 L459.87 375.71 L458.99 376.21 L458.07 376.90 L457.13 377.76 L456.19 378.79 L455.26 379.96 L454.36 381.25 L453.51 382.65 L452.71 384.12 L452.00 385.65 L451.36 387.20 L450.82 388.75 L450.39 390.28 L450.07 391.75 L449.87 393.15 L449.79 394.44 L449.84 395.61 L450.01 396.64 L450.29 397.50 L450.70 398.19" fill="none" stroke="#1e1e1e" stroke-width="0.8" stroke-linejoin="round"/>
<path d="M465.29 375.70 L464.51 375.81 L463.67 376.11 L462.79 376.61 L461.87 377.30 L460.93 378.16 L459.99 379.19 L459.06 380.36 L458.16 381.65 L457.31 383.05 L456.51 384.52 L455.80 386.05 L455.16 387.60 L454.62 389.15 L454.19 390.68 L453.87 392.15 L453.67 393.55 L453.59 394.84 L453.64 396.01 L453.81 397.04 L454.09 397.90 L454.50 398.59" fill="none" stroke="#1e1e1e" stroke-width="0.8" stroke-linejoin="round"/>
<ellipse cx="515.10" cy="386.60" rx="5.0" ry="12.4" fill="#868686" transform="rotate(25 515.10 386.60)"/>
<ellipse cx="515.93" cy="386.70" rx="5.0" ry="12.4" fill="#929292" transform="rotate(25 515.93 386.70)"/>
<ellipse cx="516.77" cy="386.80" rx="5.0" ry="12.4" fill="#929292" transform="rotate(25 516.77 386.80)"/>
<ellipse cx="517.60" cy="386.90" rx="5.0" ry="12.4" fill="#929292" transform="rotate(25 517.60 386.90)"/>
<ellipse cx="518.43" cy="387.00" rx="5.0" ry="12.4" fill="#929292" transform="rotate(25 518.43 387.00)"/>
<ellipse cx="519.27" cy="387.10" rx="5.0" ry="12.4" fill="#929292" transform="rotate(25 519.27 387.10)"/>
<ellipse cx="520.10" cy="387.20" rx="5.0" ry="12.4" fill="#929292" transform="rotate(25 520.10 387.20)"/>
<ellipse cx="520.93" cy="387.30" rx="5.0" ry="12.4" fill="#929292" transform="rotate(25 520.93 387.30)"/>
<ellipse cx="521.77" cy="387.40" rx="5.0" ry="12.4" fill="#929292" transform="rotate(25 521.77 387.40)"/>
<ellipse cx="522.60" cy="387.50" rx="5.0" ry="12.4" fill="#929292" transform="rotate(25 522.60 387.50)"/>
<ellipse cx="523.43" cy="387.60" rx="5.0" ry="12.4" fill="#929292" transform="rotate(25 523.43 387.60)"/>
<ellipse cx="524.27" cy="387.70" rx="5.0" ry="12.4" fill="#929292" transform="rotate(25 524.27 387.70)"/>
<ellipse cx="525.1" cy="387.8" rx="5.0" ry="12.4" fill="#adadad" transform="rotate(25 525.1 387.8)"/>
<path d="M523.59 375.30 L522.81 375.41 L521.97 375.71 L521.09 376.21 L520.17 376.90 L519.23 377.76 L518.29 378.79 L517.36 379.96 L516.46 381.25 L515.61 382.65 L514.81 384.12 L514.10 385.65 L513.46 387.20 L512.92 388.75 L512.49 390.28 L512.17 391.75 L511.97 393.15 L511.89 394.44 L511.94 395.61 L512.11 396.64 L512.39 397.50 L512.80 398.19" fill="none" stroke="#1e1e1e" stroke-width="0.8" stroke-linejoin="round"/>
<path d="M527.39 375.70 L526.61 375.81 L525.77 376.11 L524.89 376.61 L523.97 377.30 L523.03 378.16 L522.09 379.19 L521.16 380.36 L520.26 381.65 L519.41 383.05 L518.61 384.52 L517.90 386.05 L517.26 387.60 L516.72 389.15 L516.29 390.68 L515.97 392.15 L515.77 393.55 L515.69 394.84 L515.74 396.01 L515.91 397.04 L516.19 397.90 L516.60 398.59" fill="none" stroke="#1e1e1e" stroke-width="0.8" stroke-linejoin="round"/>
<ellipse cx="479.3" cy="359.9" rx="16.9" ry="11.0" fill="#a3a3a3" stroke="#555" stroke-width="0.5"/>
<path d="M417.5 371.6 L424.0 371.6 Q427.8 371.6 427.0 375.3 M430.8 375.7 C433.8 375.7 433.8 371.6 437.8 371.6 L458.5 371.6 Q462.3 371.6 461.5 375.3 M465.3 375.7 C468.3 375.7 468.3 371.6 472.3 371.6 L520.6 371.6 Q524.4 371.6 523.6 375.3 M527.4 375.7 C530.4 375.7 530.4 371.6 534.4 371.6 L535.8 371.6" fill="none" stroke="#1e1e1e" stroke-width="0.8"/>
<ellipse cx="496.5" cy="370.4" rx="4.7" ry="11.2" fill="#00e000" stroke="#333" stroke-width="0.5"/>
<ellipse cx="502.1" cy="359.9" rx="16.9" ry="11.0" fill="#b0b0b0" stroke="#444" stroke-width="0.5" opacity="0.72"/>
<ellipse cx="485.1" cy="370.4" rx="4.7" ry="11.2" fill="#00e000" stroke="#333" stroke-width="0.5"/>
<circle cx="424.7" cy="368.7" r="4.2" fill="#0aa6ea" stroke="#444" stroke-width="0.4"/>
<circle cx="459.4" cy="368.7" r="4.2" fill="#0aa6ea" stroke="#444" stroke-width="0.4"/>
<circle cx="522.4" cy="368.7" r="4.2" fill="#0aa6ea" stroke="#444" stroke-width="0.4"/>
<line x1="536.6" y1="390.0" x2="545.2" y2="390.0" stroke="#000" stroke-width="0.8"/>
<path d="M548.2 390.0 L544.7 388.4 L544.7 391.6 Z" fill="#000"/>
<ellipse cx="418.30" cy="453.30" rx="5.0" ry="12.4" fill="#868686" transform="rotate(25 418.30 453.30)"/>
<ellipse cx="419.13" cy="453.40" rx="5.0" ry="12.4" fill="#929292" transform="rotate(25 419.13 453.40)"/>
<ellipse cx="419.97" cy="453.50" rx="5.0" ry="12.4" fill="#929292" transform="rotate(25 419.97 453.50)"/>
<ellipse cx="420.80" cy="453.60" rx="5.0" ry="12.4" fill="#929292" transform="rotate(25 420.80 453.60)"/>
<ellipse cx="421.63" cy="453.70" rx="5.0" ry="12.4" fill="#929292" transform="rotate(25 421.63 453.70)"/>
<ellipse cx="422.47" cy="453.80" rx="5.0" ry="12.4" fill="#929292" transform="rotate(25 422.47 453.80)"/>
<ellipse cx="423.30" cy="453.90" rx="5.0" ry="12.4" fill="#929292" transform="rotate(25 423.30 453.90)"/>
<ellipse cx="424.13" cy="454.00" rx="5.0" ry="12.4" fill="#929292" transform="rotate(25 424.13 454.00)"/>
<ellipse cx="424.97" cy="454.10" rx="5.0" ry="12.4" fill="#929292" transform="rotate(25 424.97 454.10)"/>
<ellipse cx="425.80" cy="454.20" rx="5.0" ry="12.4" fill="#929292" transform="rotate(25 425.80 454.20)"/>
<ellipse cx="426.63" cy="454.30" rx="5.0" ry="12.4" fill="#929292" transform="rotate(25 426.63 454.30)"/>
<ellipse cx="427.47" cy="454.40" rx="5.0" ry="12.4" fill="#929292" transform="rotate(25 427.47 454.40)"/>
<ellipse cx="428.3" cy="454.5" rx="5.0" ry="12.4" fill="#adadad" transform="rotate(25 428.3 454.5)"/>
<path d="M426.79 442.00 L426.01 442.11 L425.17 442.41 L424.29 442.91 L423.37 443.60 L422.43 444.46 L421.49 445.49 L420.56 446.66 L419.66 447.95 L418.81 449.35 L418.01 450.82 L417.30 452.35 L416.66 453.90 L416.12 455.45 L415.69 456.98 L415.37 458.45 L415.17 459.85 L415.09 461.14 L415.14 462.31 L415.31 463.34 L415.59 464.20 L416.00 464.89" fill="none" stroke="#1e1e1e" stroke-width="0.8" stroke-linejoin="round"/>
<path d="M430.59 442.40 L429.81 442.51 L428.97 442.81 L428.09 443.31 L427.17 444.00 L426.23 444.86 L425.29 445.89 L424.36 447.06 L423.46 448.35 L422.61 449.75 L421.81 451.22 L421.10 452.75 L420.46 454.30 L419.92 455.85 L419.49 457.38 L419.17 458.85 L418.97 460.25 L418.89 461.54 L418.94 462.71 L419.11 463.74 L419.39 464.60 L419.80 465.29" fill="none" stroke="#1e1e1e" stroke-width="0.8" stroke-linejoin="round"/>
<ellipse cx="466.70" cy="453.30" rx="5.0" ry="12.4" fill="#868686" transform="rotate(25 466.70 453.30)"/>
<ellipse cx="467.53" cy="453.40" rx="5.0" ry="12.4" fill="#929292" transform="rotate(25 467.53 453.40)"/>
<ellipse cx="468.37" cy="453.50" rx="5.0" ry="12.4" fill="#929292" transform="rotate(25 468.37 453.50)"/>
<ellipse cx="469.20" cy="453.60" rx="5.0" ry="12.4" fill="#929292" transform="rotate(25 469.20 453.60)"/>
<ellipse cx="470.03" cy="453.70" rx="5.0" ry="12.4" fill="#929292" transform="rotate(25 470.03 453.70)"/>
<ellipse cx="470.87" cy="453.80" rx="5.0" ry="12.4" fill="#929292" transform="rotate(25 470.87 453.80)"/>
<ellipse cx="471.70" cy="453.90" rx="5.0" ry="12.4" fill="#929292" transform="rotate(25 471.70 453.90)"/>
<ellipse cx="472.53" cy="454.00" rx="5.0" ry="12.4" fill="#929292" transform="rotate(25 472.53 454.00)"/>
<ellipse cx="473.37" cy="454.10" rx="5.0" ry="12.4" fill="#929292" transform="rotate(25 473.37 454.10)"/>
<ellipse cx="474.20" cy="454.20" rx="5.0" ry="12.4" fill="#929292" transform="rotate(25 474.20 454.20)"/>
<ellipse cx="475.03" cy="454.30" rx="5.0" ry="12.4" fill="#929292" transform="rotate(25 475.03 454.30)"/>
<ellipse cx="475.87" cy="454.40" rx="5.0" ry="12.4" fill="#929292" transform="rotate(25 475.87 454.40)"/>
<ellipse cx="476.7" cy="454.5" rx="5.0" ry="12.4" fill="#adadad" transform="rotate(25 476.7 454.5)"/>
<path d="M475.19 442.00 L474.41 442.11 L473.57 442.41 L472.69 442.91 L471.77 443.60 L470.83 444.46 L469.89 445.49 L468.96 446.66 L468.06 447.95 L467.21 449.35 L466.41 450.82 L465.70 452.35 L465.06 453.90 L464.52 455.45 L464.09 456.98 L463.77 458.45 L463.57 459.85 L463.49 461.14 L463.54 462.31 L463.71 463.34 L463.99 464.20 L464.40 464.89" fill="none" stroke="#1e1e1e" stroke-width="0.8" stroke-linejoin="round"/>
<path d="M478.99 442.40 L478.21 442.51 L477.37 442.81 L476.49 443.31 L475.57 444.00 L474.63 444.86 L473.69 445.89 L472.76 447.06 L471.86 448.35 L471.01 449.75 L470.21 451.22 L469.50 452.75 L468.86 454.30 L468.32 455.85 L467.89 457.38 L467.57 458.85 L467.37 460.25 L467.29 461.54 L467.34 462.71 L467.51 463.74 L467.79 464.60 L468.20 465.29" fill="none" stroke="#1e1e1e" stroke-width="0.8" stroke-linejoin="round"/>
<ellipse cx="515.00" cy="453.30" rx="5.0" ry="12.4" fill="#868686" transform="rotate(25 515.00 453.30)"/>
<ellipse cx="515.83" cy="453.40" rx="5.0" ry="12.4" fill="#929292" transform="rotate(25 515.83 453.40)"/>
<ellipse cx="516.67" cy="453.50" rx="5.0" ry="12.4" fill="#929292" transform="rotate(25 516.67 453.50)"/>
<ellipse cx="517.50" cy="453.60" rx="5.0" ry="12.4" fill="#929292" transform="rotate(25 517.50 453.60)"/>
<ellipse cx="518.33" cy="453.70" rx="5.0" ry="12.4" fill="#929292" transform="rotate(25 518.33 453.70)"/>
<ellipse cx="519.17" cy="453.80" rx="5.0" ry="12.4" fill="#929292" transform="rotate(25 519.17 453.80)"/>
<ellipse cx="520.00" cy="453.90" rx="5.0" ry="12.4" fill="#929292" transform="rotate(25 520.00 453.90)"/>
<ellipse cx="520.83" cy="454.00" rx="5.0" ry="12.4" fill="#929292" transform="rotate(25 520.83 454.00)"/>
<ellipse cx="521.67" cy="454.10" rx="5.0" ry="12.4" fill="#929292" transform="rotate(25 521.67 454.10)"/>
<ellipse cx="522.50" cy="454.20" rx="5.0" ry="12.4" fill="#929292" transform="rotate(25 522.50 454.20)"/>
<ellipse cx="523.33" cy="454.30" rx="5.0" ry="12.4" fill="#929292" transform="rotate(25 523.33 454.30)"/>
<ellipse cx="524.17" cy="454.40" rx="5.0" ry="12.4" fill="#929292" transform="rotate(25 524.17 454.40)"/>
<ellipse cx="525.0" cy="454.5" rx="5.0" ry="12.4" fill="#adadad" transform="rotate(25 525.0 454.5)"/>
<path d="M523.49 442.00 L522.71 442.11 L521.87 442.41 L520.99 442.91 L520.07 443.60 L519.13 444.46 L518.19 445.49 L517.26 446.66 L516.36 447.95 L515.51 449.35 L514.71 450.82 L514.00 452.35 L513.36 453.90 L512.82 455.45 L512.39 456.98 L512.07 458.45 L511.87 459.85 L511.79 461.14 L511.84 462.31 L512.01 463.34 L512.29 464.20 L512.70 464.89" fill="none" stroke="#1e1e1e" stroke-width="0.8" stroke-linejoin="round"/>
<path d="M527.29 442.40 L526.51 442.51 L525.67 442.81 L524.79 443.31 L523.87 444.00 L522.93 444.86 L521.99 445.89 L521.06 447.06 L520.16 448.35 L519.31 449.75 L518.51 451.22 L517.80 452.75 L517.16 454.30 L516.62 455.85 L516.19 457.38 L515.87 458.85 L515.67 460.25 L515.59 461.54 L515.64 462.71 L515.81 463.74 L516.09 464.60 L516.50 465.29" fill="none" stroke="#1e1e1e" stroke-width="0.8" stroke-linejoin="round"/>
<path d="M417.2 438.5 L423.8 438.5 Q427.6 438.5 426.8 442.0 M430.6 442.4 C433.6 442.4 433.6 438.5 437.6 438.5 L472.2 438.5 Q476.0 438.5 475.2 442.0 M479.0 442.4 C482.0 442.4 482.0 438.5 486.0 438.5 L520.5 438.5 Q524.3 438.5 523.5 442.0 M527.3 442.4 C530.3 442.4 530.3 438.5 534.3 438.5 L535.4 438.5" fill="none" stroke="#1e1e1e" stroke-width="0.8"/>
<ellipse cx="444.9" cy="424.4" rx="11.5" ry="14.0" fill="#a3a3a3" stroke="#555" stroke-width="0.5"/>
<circle cx="440.1" cy="438.3" r="10.3" fill="#ffb400" stroke="#555" stroke-width="0.5"/>
<circle cx="454.6" cy="442.3" r="6.7" fill="#c6f000" stroke="#555" stroke-width="0.5"/>
<ellipse cx="493.0" cy="424.4" rx="11.5" ry="14.0" fill="#a3a3a3" stroke="#555" stroke-width="0.5"/>
<circle cx="488.7" cy="438.3" r="10.3" fill="#ffb400" stroke="#555" stroke-width="0.5"/>
<circle cx="502.8" cy="442.3" r="6.7" fill="#c6f000" stroke="#555" stroke-width="0.5"/>
<circle cx="424.4" cy="435.4" r="4.2" fill="#0aa6ea" stroke="#444" stroke-width="0.4"/>
<circle cx="426.7" cy="443.9" r="4.2" fill="#9a34ee" stroke="#444" stroke-width="0.4"/>
<circle cx="472.8" cy="435.4" r="4.2" fill="#0aa6ea" stroke="#444" stroke-width="0.4"/>
<circle cx="475.1" cy="443.9" r="4.2" fill="#9a34ee" stroke="#444" stroke-width="0.4"/>
<circle cx="517.8" cy="435.4" r="4.2" fill="#0aa6ea" stroke="#444" stroke-width="0.4"/>
<circle cx="520.0999999999999" cy="443.9" r="4.2" fill="#9a34ee" stroke="#444" stroke-width="0.4"/>
<line x1="536.4" y1="457.1" x2="545.2" y2="457.1" stroke="#000" stroke-width="0.8"/>
<path d="M548.2 457.1 L544.7 455.5 L544.7 458.70000000000005 Z" fill="#000"/>
<text x="581.6" y="284" font-size="7.8" text-anchor="middle" fill="#000" >Transcripts of</text>
<text x="581.2" y="293.4" font-size="7.8" text-anchor="middle" fill="#000" >Developmental</text>
<text x="581.6" y="302.4" font-size="7.8" text-anchor="middle" fill="#000" >Regulators</text>
<path d="M555 307.5 C558 314.5 562 317.5 566 317.0 C572 316.5 577 308.5 581.5 309.8 C586 311.0 588 317.0 592 316.8 C597 316.5 601 311.5 607 311.3" fill="none" stroke="#34497e" stroke-width="1.0"/>
<path d="M555 316.3 C558 323.3 562 326.3 566 325.8 C572 325.3 577 317.3 581.5 318.6 C586 319.8 588 325.8 592 325.6 C597 325.3 601 320.3 607 320.1" fill="none" stroke="#34497e" stroke-width="1.0"/>
<path d="M555 325.1 C558 332.1 562 335.1 566 334.6 C572 334.1 577 326.1 581.5 327.40000000000003 C586 328.6 588 334.6 592 334.40000000000003 C597 334.1 601 329.1 607 328.90000000000003" fill="none" stroke="#34497e" stroke-width="1.0" stroke-dasharray="2.6,1.6"/>
<text x="580" y="345.3" font-size="7.8" text-anchor="middle" fill="#000" >Less Repressed</text>
<path d="M555 378.8 C558 385.8 562 388.8 566 388.3 C572 387.8 577 379.8 581.5 381.1 C586 382.3 588 388.3 592 388.1 C597 387.8 601 382.8 607 382.6" fill="none" stroke="#34497e" stroke-width="1.0" stroke-dasharray="2.6,1.6"/>
<text x="582.5" y="400" font-size="7.8" text-anchor="middle" fill="#000" >Repressed</text>
<path d="M555 447.4 C558 454.4 562 457.4 566 456.9 C572 456.4 577 448.4 581.5 449.7 C586 450.9 588 456.9 592 456.7 C597 456.4 601 451.4 607 451.2" fill="none" stroke="#34497e" stroke-width="1.0" stroke-dasharray="2.6,1.6"/>
<text x="582.5" y="467" font-size="7.8" text-anchor="middle" fill="#000" >Repressed</text>
<path d="M613.1 319.6 L650.6 319.6 L650.6 386" fill="none" stroke="#ff2323" stroke-width="0.9"/>
<path d="M650.6 392 L647.8 385 L653.4 385 Z" fill="#ff2323"/>
<path d="M583.4 406.2 L583.4 423.7 L629 423.7" fill="none" stroke="#ff2323" stroke-width="0.9"/>
<path d="M635.6 423.7 L628.6 420.9 L628.6 426.5 Z" fill="#ff2323"/>
<text x="635" y="331" font-size="8.1" text-anchor="middle" fill="#000" >ESCs</text>
<text x="662" y="363.6" font-size="7.8" text-anchor="start" fill="#000" >Fate 1</text>
<text x="662" y="449.6" font-size="7.8" text-anchor="start" fill="#000" >Fate 2</text>
<path d="M635.8 338 C634.5 365 637 395 643.8 421.5 C652 412 662 398 671.5 374" fill="none" stroke="#8a8a8a" stroke-width="1.1" stroke-dasharray="3,2"/>
<path d="M643.6 420.5 C650 428 658 432 669 435.5" fill="none" stroke="#8a8a8a" stroke-width="1.1" stroke-dasharray="3,2"/>
<path d="M673 436.6 L666.5 436.8 L668.5 432.5 Z" fill="#8a8a8a"/>
<path d="M633.9 333.5 C637 368 640 402 648.6 405.6 C656 408 664 385 670.6 372" fill="none" stroke="#000" stroke-width="1.4"/>
<path d="M673.6 367.2 L673.2 374.8 L667.8 372.2 Z" fill="#000"/>
</svg>
</body></html>
